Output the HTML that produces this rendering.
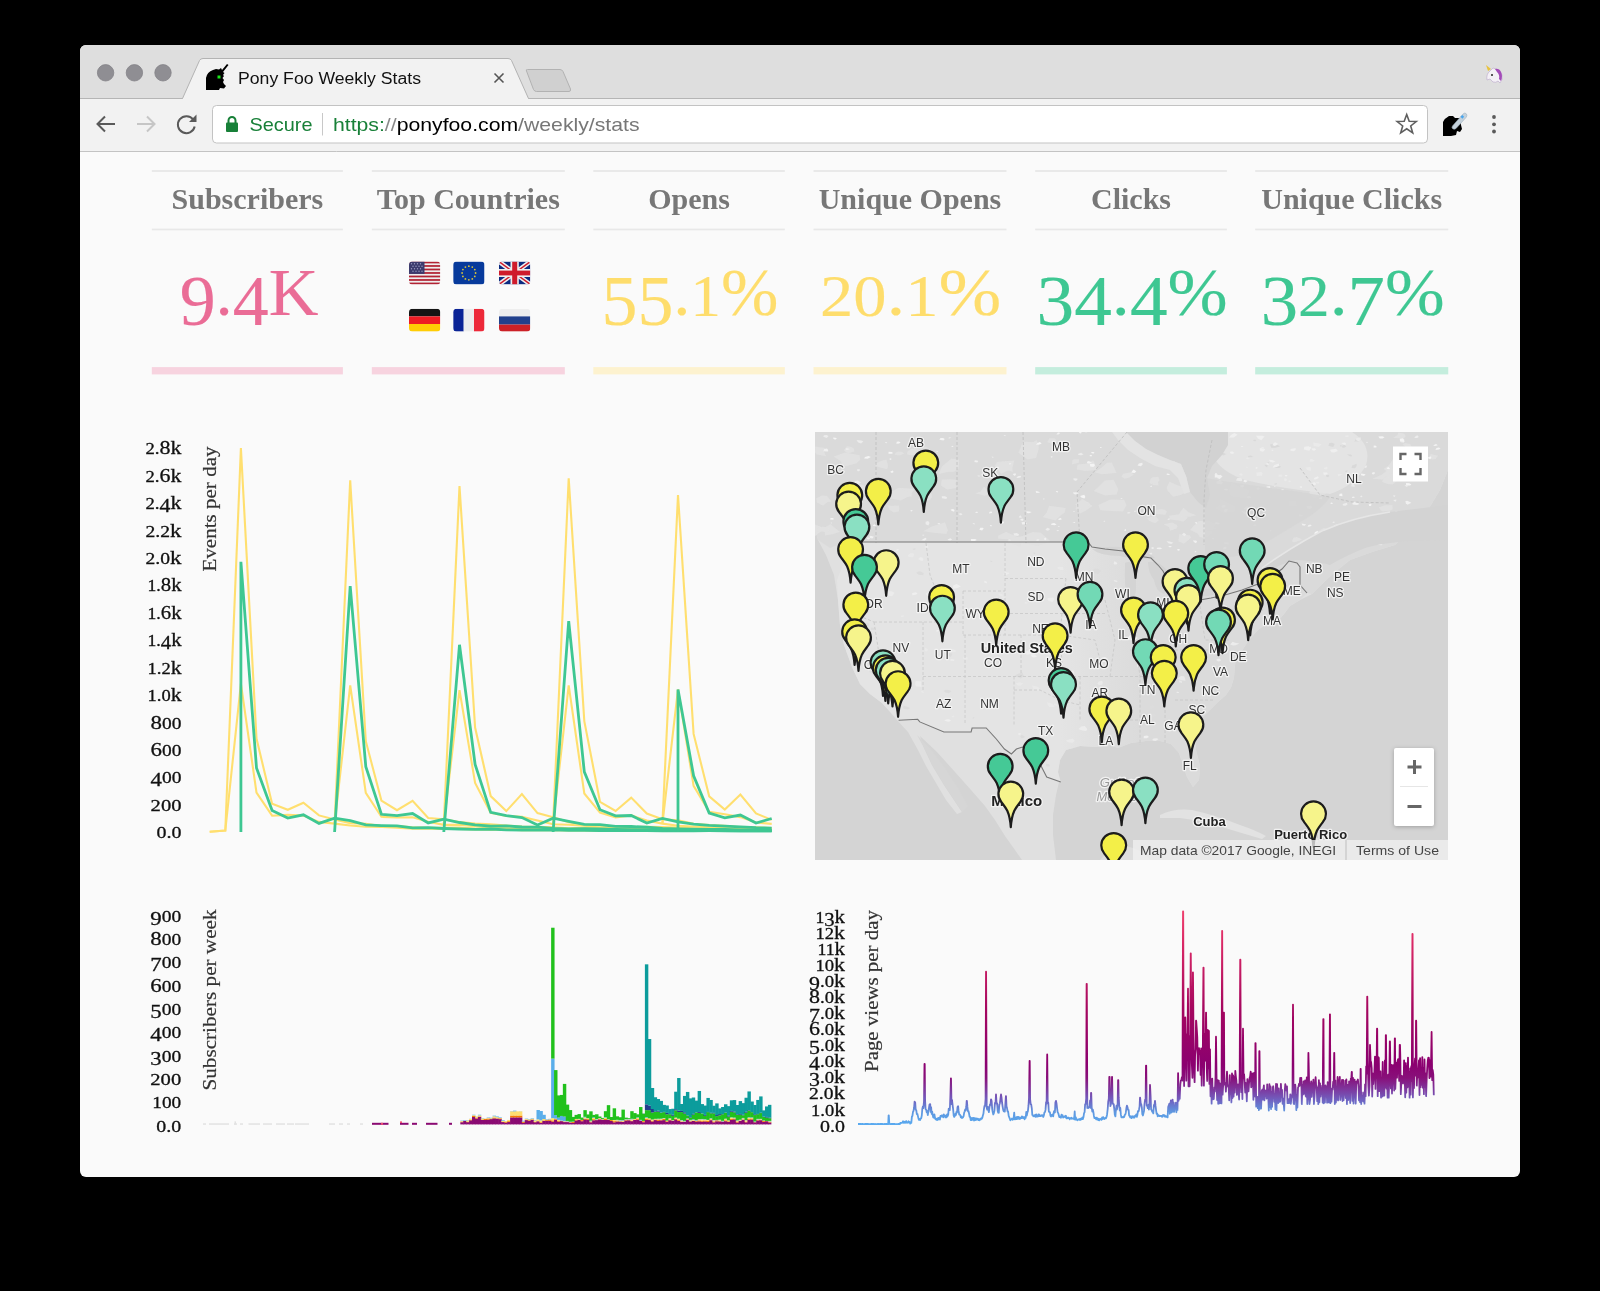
<!DOCTYPE html>
<html><head><meta charset="utf-8"><title>Pony Foo Weekly Stats</title>
<style>
*{box-sizing:border-box}
html,body{margin:0;padding:0}
body{width:1600px;height:1291px;background:#000;position:relative;overflow:hidden;font-family:"Liberation Sans",sans-serif}
.win{position:absolute;left:80px;top:45px;width:1440px;height:1132px;border-radius:6px;overflow:hidden;background:#fafafa}
.tabstrip{position:absolute;left:0;top:0;width:1440px;height:53px;background:#dedede}
.toolbar{position:absolute;left:0;top:53px;width:1440px;height:54px;background:#f2f2f2;border-bottom:1px solid #c6c6c6}
.tl{position:absolute;top:19px;width:17px;height:17px;border-radius:50%;background:#8f8e93;border:1px solid #838287}
.content{position:absolute;left:0;top:107px;width:1440px;height:1025px;background:#fafafa}
.abs{position:absolute}
svg text{}
body > svg, body > div{will-change:transform}
.hd{position:absolute;top:0;height:60px;border-top:2px solid #e8e8e8;border-bottom:2px solid #e8e8e8;font-family:"Liberation Serif",serif;font-weight:bold;font-size:30px;color:#777;text-align:center;line-height:56px;white-space:nowrap}
.big{position:absolute;font-family:"Liberation Serif",serif;font-size:68px;text-align:center;white-space:nowrap;line-height:1}
.bar{position:absolute;height:7px}
</style></head><body>

<div class="win"></div>
<svg class="abs" style="left:80px;top:45px" width="1440" height="107" viewBox="80 45 1440 107">
<defs><clipPath id="wc"><rect x="80" y="45" width="1440" height="200" rx="6"/></clipPath></defs>
<g clip-path="url(#wc)">
<rect x="80" y="45" width="1440" height="107" fill="#dedede"/>
<rect x="80" y="98" width="1440" height="54" fill="#f2f2f2"/>
<line x1="80" y1="98.5" x2="1520" y2="98.5" stroke="#b5b5b5" stroke-width="1"/>
<path d="M182.5,98.5 L199.5,60.5 Q200.5,58.5 203,58.5 L508,58.5 Q510.5,58.5 511.5,60.5 L528.5,98.5" fill="#f2f2f2" stroke="#b3b3b3" stroke-width="1"/>
<rect x="183" y="98" width="345" height="2" fill="#f2f2f2"/>
<path d="M526.5,71 Q525.5,69.5 527.5,69.5 L560,69.5 Q562,69.5 563,71.5 L570.5,89 Q571,91.5 569,91.5 L536.5,91.5 Q534.5,91.5 533.5,89.5 Z" fill="#d0d0d0" stroke="#b2b2b2" stroke-width="1"/>
<line x1="80" y1="151.5" x2="1520" y2="151.5" stroke="#c3c3c3" stroke-width="1"/>
<circle cx="105.6" cy="72.8" r="8.2" fill="#8f8e93" stroke="#848388" stroke-width="0.8"/>
<circle cx="134.4" cy="72.8" r="8.2" fill="#8f8e93" stroke="#848388" stroke-width="0.8"/>
<circle cx="163" cy="72.8" r="8.2" fill="#8f8e93" stroke="#848388" stroke-width="0.8"/>
<!-- favicon unicorn -->
<g fill="#000">
<path d="M206,90 L206,78 Q207,72 213,70 L216,69 L219,69.5 L221,68 L222,70 L227,64 L228.5,65 L223,72 L224.5,73 L223,75 L224,76 L222.5,78 L224,80 L223,82 L224,84 L226,86 L224,88.5 L220,88 L219,90 Z"/>
</g>
<rect x="217.5" y="75.5" width="3" height="3" fill="#19e619"/>
<text x="238" y="84" font-family="Liberation Sans" font-size="16" fill="#111" textLength="183" lengthAdjust="spacingAndGlyphs">Pony Foo Weekly Stats</text>
<path d="M494.5,73.5 L503.5,82.5 M503.5,73.5 L494.5,82.5" stroke="#555" stroke-width="1.6"/>
<!-- nav icons -->
<path d="M115,124 L97.5,124 M105,116.5 L97.5,124 L105,131.5" stroke="#5a5a5a" stroke-width="2" fill="none"/>
<path d="M137,124 L154.5,124 M147,116.5 L154.5,124 L147,131.5" stroke="#c6c6c6" stroke-width="2" fill="none"/>
<path d="M194,121 A8.5,8.5 0 1 0 194.2,128" stroke="#5a5a5a" stroke-width="2" fill="none" transform="rotate(-10 186 124.5)"/>
<path d="M196.5,114.5 L196.5,122 L189,122 Z" fill="#5a5a5a"/>
<!-- omnibox -->
<rect x="212.5" y="105.5" width="1215" height="37.5" rx="4" fill="#fff" stroke="#c3c3c3" stroke-width="1"/>
<rect x="226" y="122.5" width="12" height="9.5" rx="1" fill="#188038"/>
<path d="M228.5,123 L228.5,120.5 A3.5,3.5 0 0 1 235.5,120.5 L235.5,123" stroke="#188038" stroke-width="2" fill="none"/>
<text x="249.5" y="131.3" font-family="Liberation Sans" font-size="18.6" fill="#188038" textLength="63" lengthAdjust="spacingAndGlyphs">Secure</text>
<line x1="322.5" y1="113" x2="322.5" y2="135.5" stroke="#c8c8c8" stroke-width="1"/>
<text x="333" y="131.3" font-family="Liberation Sans" font-size="18.6" textLength="306.5" lengthAdjust="spacingAndGlyphs"><tspan fill="#188038">https:</tspan><tspan fill="#888">//</tspan><tspan fill="#000">ponyfoo.com</tspan><tspan fill="#777">/weekly/stats</tspan></text>
<!-- star -->
<path d="M1406.7,114.5 L1409.2,121.2 L1416.3,121.5 L1410.7,126 L1412.7,132.8 L1406.7,128.8 L1400.7,132.8 L1402.7,126 L1397.1,121.5 L1404.2,121.2 Z" fill="none" stroke="#5f5f5f" stroke-width="1.6" stroke-linejoin="miter"/>
<!-- extension icon -->
<path d="M1443,136 L1443,122 Q1445,118 1449,116 L1453,116 L1455,118 L1460,118 L1461,125 L1462,129 L1460,132 L1457,131 L1456,135 L1451,136 Z" fill="#000"/>
<path d="M1452.5,126 L1463,114 Q1465,112 1466.5,114 Q1467.5,116 1466,117.5 L1456,128.5 Q1454,130 1452.5,128.5 Q1451.5,127.5 1452.5,126 Z" fill="#c5d2dc" stroke="#9fb1bf" stroke-width="0.6"/>
<rect x="1461" y="115.5" width="2.6" height="2.6" fill="#4aa6ee" transform="rotate(45 1462.3 116.8)"/>
<!-- menu -->
<circle cx="1494" cy="117" r="1.9" fill="#5a5a5a"/>
<circle cx="1494" cy="124.3" r="1.9" fill="#5a5a5a"/>
<circle cx="1494" cy="131.5" r="1.9" fill="#5a5a5a"/>
<!-- unicorn emoji top right -->
<g transform="translate(1484,64)">
<path d="M3,16 Q2,10 6,7 L9,4 L12,5 Q17,6 18,11 Q19,16 16,19 L14,17 Q12,19 9,18 L6,15 Z" fill="#f4f0f6" stroke="#b9a6c9" stroke-width="0.6"/>
<path d="M11,5 Q15,4 17,8 Q19,12 17,17 L15,15 Q16,11 13,8 Z" fill="#a34bb8"/>
<path d="M4,7 L2,1 L7,5 Z" fill="#e8c23d"/>
<circle cx="8" cy="11" r="1" fill="#222"/>
</g>
</g>

</svg>

<svg class="abs" style="left:0;top:152px" width="1600" height="240" viewBox="0 152 1600 240">
<rect x="151.8" y="170" width="191.1" height="2" fill="#e9e9e9"/>
<rect x="151.8" y="228.6" width="191.1" height="1.7" fill="#e8e8e8"/>
<text x="247.4" y="209" text-anchor="middle" font-family="Liberation Serif" font-weight="bold" font-size="30" fill="#777">Subscribers</text>
<rect x="151.8" y="367.1" width="191.1" height="7.3" fill="#f7d3df"/>
<text x="249.1" y="314.5" text-anchor="middle" font-family="Liberation Serif" font-size="68" fill="#ea6c96" stroke="#ea6c96" stroke-width="0.15" textLength="138.8" lengthAdjust="spacingAndGlyphs"><tspan font-size="71" dy="10.0">9</tspan><tspan font-size="68" dy="-10.0">.</tspan><tspan font-size="71" dy="10.0">4</tspan><tspan font-size="68" dy="-10.0">K</tspan></text>
<rect x="371.8" y="170" width="193.0" height="2" fill="#e9e9e9"/>
<rect x="371.8" y="228.6" width="193.0" height="1.7" fill="#e8e8e8"/>
<text x="468.3" y="209" text-anchor="middle" font-family="Liberation Serif" font-weight="bold" font-size="30" fill="#777">Top Countries</text>
<rect x="371.8" y="367.1" width="193.0" height="7.3" fill="#f7d3df"/>
<rect x="593.3" y="170" width="191.5" height="2" fill="#e9e9e9"/>
<rect x="593.3" y="228.6" width="191.5" height="1.7" fill="#e8e8e8"/>
<text x="689.0" y="209" text-anchor="middle" font-family="Liberation Serif" font-weight="bold" font-size="30" fill="#777">Opens</text>
<rect x="593.3" y="367.1" width="191.5" height="7.3" fill="#fdf2cf"/>
<text x="689.9" y="314.5" text-anchor="middle" font-family="Liberation Serif" font-size="68" fill="#fedd6c" stroke="#fedd6c" stroke-width="0.15" textLength="176.9" lengthAdjust="spacingAndGlyphs"><tspan font-size="71" dy="10.0">5</tspan><tspan font-size="71" dy="0.0">5</tspan><tspan font-size="68" dy="-10.0">.</tspan><tspan font-size="60" dy="1.0">1</tspan><tspan font-size="68" dy="-1.0">%</tspan></text>
<rect x="813.5" y="170" width="193.0" height="2" fill="#e9e9e9"/>
<rect x="813.5" y="228.6" width="193.0" height="1.7" fill="#e8e8e8"/>
<text x="910.0" y="209" text-anchor="middle" font-family="Liberation Serif" font-weight="bold" font-size="30" fill="#777">Unique Opens</text>
<rect x="813.5" y="367.1" width="193.0" height="7.3" fill="#fdf2cf"/>
<text x="910.7" y="314.5" text-anchor="middle" font-family="Liberation Serif" font-size="68" fill="#fedd6c" stroke="#fedd6c" stroke-width="0.15" textLength="181.4" lengthAdjust="spacingAndGlyphs"><tspan font-size="60" dy="1.0">2</tspan><tspan font-size="60" dy="0.0">0</tspan><tspan font-size="68" dy="-1.0">.</tspan><tspan font-size="60" dy="1.0">1</tspan><tspan font-size="68" dy="-1.0">%</tspan></text>
<rect x="1035.2" y="170" width="191.7" height="2" fill="#e9e9e9"/>
<rect x="1035.2" y="228.6" width="191.7" height="1.7" fill="#e8e8e8"/>
<text x="1131.0" y="209" text-anchor="middle" font-family="Liberation Serif" font-weight="bold" font-size="30" fill="#777">Clicks</text>
<rect x="1035.2" y="367.1" width="191.7" height="7.3" fill="#c4eddd"/>
<text x="1132.1" y="314.5" text-anchor="middle" font-family="Liberation Serif" font-size="68" fill="#3ec792" stroke="#3ec792" stroke-width="0.15" textLength="191.0" lengthAdjust="spacingAndGlyphs"><tspan font-size="71" dy="10.0">3</tspan><tspan font-size="71" dy="0.0">4</tspan><tspan font-size="68" dy="-10.0">.</tspan><tspan font-size="71" dy="10.0">4</tspan><tspan font-size="68" dy="-10.0">%</tspan></text>
<rect x="1255.2" y="170" width="193.05" height="2" fill="#e9e9e9"/>
<rect x="1255.2" y="228.6" width="193.05" height="1.7" fill="#e8e8e8"/>
<text x="1351.7" y="209" text-anchor="middle" font-family="Liberation Serif" font-weight="bold" font-size="30" fill="#777">Unique Clicks</text>
<rect x="1255.2" y="367.1" width="193.05" height="7.3" fill="#c4eddd"/>
<text x="1352.7" y="314.5" text-anchor="middle" font-family="Liberation Serif" font-size="68" fill="#3ec792" stroke="#3ec792" stroke-width="0.15" textLength="183.9" lengthAdjust="spacingAndGlyphs"><tspan font-size="71" dy="10.0">3</tspan><tspan font-size="60" dy="-9.0">2</tspan><tspan font-size="68" dy="-1.0">.</tspan><tspan font-size="71" dy="10.0">7</tspan><tspan font-size="68" dy="-10.0">%</tspan></text>
</svg>
<svg class="abs" style="left:400px;top:255px" width="140" height="85" viewBox="400 255 140 85">
<defs>
<clipPath id="f1"><rect x="409" y="261.6" width="31.3" height="22.8" rx="3.5"/></clipPath>
<clipPath id="f2"><rect x="453.2" y="261.6" width="31.3" height="22.8" rx="3.5"/></clipPath>
<clipPath id="f3"><rect x="499" y="261.6" width="31.3" height="22.8" rx="3.5"/></clipPath>
<clipPath id="f4"><rect x="409" y="308.8" width="31.3" height="22.8" rx="3.5"/></clipPath>
<clipPath id="f5"><rect x="453.2" y="308.8" width="31.3" height="22.8" rx="3.5"/></clipPath>
<clipPath id="f6"><rect x="499" y="308.8" width="31.3" height="22.8" rx="3.5"/></clipPath>
</defs>
<g clip-path="url(#f1)">
<rect x="409" y="261.6" width="31.3" height="22.8" fill="#eeeeee"/>
<g fill="#b22334">
<rect x="409" y="261.6" width="31.3" height="1.75"/><rect x="409" y="265.1" width="31.3" height="1.75"/><rect x="409" y="268.6" width="31.3" height="1.75"/><rect x="409" y="272.1" width="31.3" height="1.75"/><rect x="409" y="275.6" width="31.3" height="1.75"/><rect x="409" y="279.1" width="31.3" height="1.75"/><rect x="409" y="282.6" width="31.3" height="1.8"/>
</g>
<rect x="409" y="261.6" width="15.5" height="12.3" fill="#3c3b6e"/>
<g fill="#9b9bc0"><circle cx="411.5" cy="263.8" r=".7"/><circle cx="414.5" cy="263.8" r=".7"/><circle cx="417.5" cy="263.8" r=".7"/><circle cx="420.5" cy="263.8" r=".7"/><circle cx="413" cy="266.3" r=".7"/><circle cx="416" cy="266.3" r=".7"/><circle cx="419" cy="266.3" r=".7"/><circle cx="422" cy="266.3" r=".7"/><circle cx="411.5" cy="268.8" r=".7"/><circle cx="414.5" cy="268.8" r=".7"/><circle cx="417.5" cy="268.8" r=".7"/><circle cx="420.5" cy="268.8" r=".7"/><circle cx="413" cy="271.3" r=".7"/><circle cx="416" cy="271.3" r=".7"/><circle cx="419" cy="271.3" r=".7"/><circle cx="422" cy="271.3" r=".7"/></g>
</g>
<g clip-path="url(#f2)">
<rect x="453.2" y="261.6" width="31.3" height="22.8" fill="#073a9c"/>
<g fill="#d8c33a">
<circle cx="468.85" cy="266.2" r=".9"/><circle cx="472.3" cy="267.1" r=".9"/><circle cx="474.8" cy="269.6" r=".9"/><circle cx="475.6" cy="273" r=".9"/><circle cx="474.8" cy="276.4" r=".9"/><circle cx="472.3" cy="278.9" r=".9"/><circle cx="468.85" cy="279.8" r=".9"/><circle cx="465.4" cy="278.9" r=".9"/><circle cx="462.9" cy="276.4" r=".9"/><circle cx="462.1" cy="273" r=".9"/><circle cx="462.9" cy="269.6" r=".9"/><circle cx="465.4" cy="267.1" r=".9"/>
</g>
</g>
<g clip-path="url(#f3)">
<rect x="499" y="261.6" width="31.3" height="22.8" fill="#0b2a80"/>
<path d="M499,261.6 L530.3,284.4 M530.3,261.6 L499,284.4" stroke="#eee" stroke-width="4.5"/>
<path d="M499,261.6 L514.65,273 M530.3,284.4 L514.65,273 M530.3,261.6 L514.65,273 M499,284.4 L514.65,273" stroke="#cf1b2b" stroke-width="1.5"/>
<rect x="510.5" y="261.6" width="8.3" height="22.8" fill="#eee"/>
<rect x="499" y="269" width="31.3" height="8" fill="#eee"/>
<rect x="512.2" y="261.6" width="5" height="22.8" fill="#cf1b2b"/>
<rect x="499" y="270.6" width="31.3" height="4.8" fill="#cf1b2b"/>
</g>
<g clip-path="url(#f4)">
<rect x="409" y="308.8" width="31.3" height="7.6" fill="#141414"/>
<rect x="409" y="316.4" width="31.3" height="7.6" fill="#ed1c24"/>
<rect x="409" y="324" width="31.3" height="7.6" fill="#ffcd05"/>
</g>
<g clip-path="url(#f5)">
<rect x="453.2" y="308.8" width="10.5" height="22.8" fill="#0b2496"/>
<rect x="463.7" y="308.8" width="10.3" height="22.8" fill="#ededed"/>
<rect x="474" y="308.8" width="10.5" height="22.8" fill="#ed2939"/>
</g>
<g clip-path="url(#f6)">
<rect x="499" y="308.8" width="31.3" height="7.6" fill="#eeeeee"/>
<rect x="499" y="316.4" width="31.3" height="8.2" fill="#22408c"/>
<rect x="499" y="324.6" width="31.3" height="7" fill="#cc2127"/>
</g>
</svg>

<svg class="abs" style="left:0;top:0" width="1600" height="1291" viewBox="0 0 1600 1291">
<text x="181.5" y="838.2" text-anchor="end" font-family="Liberation Serif" font-size="16" fill="#111" stroke="#111" stroke-width="0.3" textLength="25.0" lengthAdjust="spacingAndGlyphs"><tspan font-size="16.7" dy="0.0">0</tspan><tspan font-size="17" dy="0.0">.</tspan><tspan font-size="16.7" dy="0.0">0</tspan></text>
<text x="181.5" y="810.8" text-anchor="end" font-family="Liberation Serif" font-size="16" fill="#111" stroke="#111" stroke-width="0.3" textLength="30.9" lengthAdjust="spacingAndGlyphs"><tspan font-size="16.7" dy="0.0">2</tspan><tspan font-size="16.7" dy="0.0">0</tspan><tspan font-size="16.7" dy="0.0">0</tspan></text>
<text x="181.5" y="783.3" text-anchor="end" font-family="Liberation Serif" font-size="16" fill="#111" stroke="#111" stroke-width="0.3" textLength="30.9" lengthAdjust="spacingAndGlyphs"><tspan font-size="19.5" dy="3.0">4</tspan><tspan font-size="16.7" dy="-3.0">0</tspan><tspan font-size="16.7" dy="0.0">0</tspan></text>
<text x="181.5" y="755.9" text-anchor="end" font-family="Liberation Serif" font-size="16" fill="#111" stroke="#111" stroke-width="0.3" textLength="30.9" lengthAdjust="spacingAndGlyphs"><tspan font-size="19.7" dy="0.0">6</tspan><tspan font-size="16.7" dy="0.0">0</tspan><tspan font-size="16.7" dy="0.0">0</tspan></text>
<text x="181.5" y="728.5" text-anchor="end" font-family="Liberation Serif" font-size="16" fill="#111" stroke="#111" stroke-width="0.3" textLength="30.9" lengthAdjust="spacingAndGlyphs"><tspan font-size="19.7" dy="0.0">8</tspan><tspan font-size="16.7" dy="0.0">0</tspan><tspan font-size="16.7" dy="0.0">0</tspan></text>
<text x="181.5" y="701.1" text-anchor="end" font-family="Liberation Serif" font-size="16" fill="#111" stroke="#111" stroke-width="0.3" textLength="34.0" lengthAdjust="spacingAndGlyphs"><tspan font-size="16.7" dy="0.0">1</tspan><tspan font-size="17" dy="0.0">.</tspan><tspan font-size="16.7" dy="0.0">0</tspan><tspan font-size="19.5" dy="0.0">k</tspan></text>
<text x="181.5" y="673.6" text-anchor="end" font-family="Liberation Serif" font-size="16" fill="#111" stroke="#111" stroke-width="0.3" textLength="34.0" lengthAdjust="spacingAndGlyphs"><tspan font-size="16.7" dy="0.0">1</tspan><tspan font-size="17" dy="0.0">.</tspan><tspan font-size="16.7" dy="0.0">2</tspan><tspan font-size="19.5" dy="0.0">k</tspan></text>
<text x="181.5" y="646.2" text-anchor="end" font-family="Liberation Serif" font-size="16" fill="#111" stroke="#111" stroke-width="0.3" textLength="34.0" lengthAdjust="spacingAndGlyphs"><tspan font-size="16.7" dy="0.0">1</tspan><tspan font-size="17" dy="0.0">.</tspan><tspan font-size="19.5" dy="3.0">4</tspan><tspan font-size="19.5" dy="-3.0">k</tspan></text>
<text x="181.5" y="618.8" text-anchor="end" font-family="Liberation Serif" font-size="16" fill="#111" stroke="#111" stroke-width="0.3" textLength="34.0" lengthAdjust="spacingAndGlyphs"><tspan font-size="16.7" dy="0.0">1</tspan><tspan font-size="17" dy="0.0">.</tspan><tspan font-size="19.7" dy="0.0">6</tspan><tspan font-size="19.5" dy="0.0">k</tspan></text>
<text x="181.5" y="591.3" text-anchor="end" font-family="Liberation Serif" font-size="16" fill="#111" stroke="#111" stroke-width="0.3" textLength="34.0" lengthAdjust="spacingAndGlyphs"><tspan font-size="16.7" dy="0.0">1</tspan><tspan font-size="17" dy="0.0">.</tspan><tspan font-size="19.7" dy="0.0">8</tspan><tspan font-size="19.5" dy="0.0">k</tspan></text>
<text x="181.5" y="563.9" text-anchor="end" font-family="Liberation Serif" font-size="16" fill="#111" stroke="#111" stroke-width="0.3" textLength="36.0" lengthAdjust="spacingAndGlyphs"><tspan font-size="16.7" dy="0.0">2</tspan><tspan font-size="17" dy="0.0">.</tspan><tspan font-size="16.7" dy="0.0">0</tspan><tspan font-size="19.5" dy="0.0">k</tspan></text>
<text x="181.5" y="536.5" text-anchor="end" font-family="Liberation Serif" font-size="16" fill="#111" stroke="#111" stroke-width="0.3" textLength="36.0" lengthAdjust="spacingAndGlyphs"><tspan font-size="16.7" dy="0.0">2</tspan><tspan font-size="17" dy="0.0">.</tspan><tspan font-size="16.7" dy="0.0">2</tspan><tspan font-size="19.5" dy="0.0">k</tspan></text>
<text x="181.5" y="509.1" text-anchor="end" font-family="Liberation Serif" font-size="16" fill="#111" stroke="#111" stroke-width="0.3" textLength="36.0" lengthAdjust="spacingAndGlyphs"><tspan font-size="16.7" dy="0.0">2</tspan><tspan font-size="17" dy="0.0">.</tspan><tspan font-size="19.5" dy="3.0">4</tspan><tspan font-size="19.5" dy="-3.0">k</tspan></text>
<text x="181.5" y="481.6" text-anchor="end" font-family="Liberation Serif" font-size="16" fill="#111" stroke="#111" stroke-width="0.3" textLength="36.0" lengthAdjust="spacingAndGlyphs"><tspan font-size="16.7" dy="0.0">2</tspan><tspan font-size="17" dy="0.0">.</tspan><tspan font-size="19.7" dy="0.0">6</tspan><tspan font-size="19.5" dy="0.0">k</tspan></text>
<text x="181.5" y="454.2" text-anchor="end" font-family="Liberation Serif" font-size="16" fill="#111" stroke="#111" stroke-width="0.3" textLength="36.0" lengthAdjust="spacingAndGlyphs"><tspan font-size="16.7" dy="0.0">2</tspan><tspan font-size="17" dy="0.0">.</tspan><tspan font-size="19.7" dy="0.0">8</tspan><tspan font-size="19.5" dy="0.0">k</tspan></text>
<text transform="translate(215.5,446.5) rotate(-90)" text-anchor="end" font-family="Liberation Serif" font-size="19" fill="#333" stroke="#333" stroke-width="0.2" textLength="125" lengthAdjust="spacingAndGlyphs">Events per day</text>
<polyline points="209.7,831.7 225.3,830.6 240.9,448.0 256.5,738.5 272.1,803.8 287.8,809.8 303.4,802.7 319.0,815.4 334.6,819.5 350.2,823.1 365.8,823.8 381.4,826.1 397.0,826.0 412.6,827.2 428.2,827.7 443.8,827.7 459.5,827.5 475.1,828.6 490.7,828.7 506.3,828.6 521.9,828.6 537.5,829.2 553.1,829.5 568.7,829.2 584.3,830.0 600.0,829.6 615.6,830.1 631.2,830.3 646.8,830.4 662.4,830.4 678.0,830.3 693.6,830.8 709.2,830.6 724.8,830.6 740.4,830.7 756.0,830.6 771.7,830.8" fill="none" stroke="#ffdf6f" stroke-width="2.1" stroke-linejoin="miter"/>
<polyline points="209.7,831.7 225.3,830.6 240.9,683.7 256.5,792.7 272.1,815.7 287.8,814.9 303.4,815.6 319.0,821.9 334.6,823.6 350.2,825.5 365.8,826.8 381.4,826.9 397.0,827.6 412.6,828.6 428.2,828.6 443.8,829.0 459.5,828.9 475.1,829.4 490.7,829.8 506.3,829.5 521.9,830.2 537.5,830.1 553.1,830.1 568.7,830.5 584.3,830.5 600.0,830.8 615.6,830.7 631.2,830.8 646.8,830.9 662.4,830.8 678.0,831.0 693.6,830.8 709.2,830.9 724.8,830.9 740.4,830.9 756.0,830.8 771.7,830.8" fill="none" stroke="#ffdf6f" stroke-width="2.1" stroke-linejoin="miter"/>
<polyline points="334.6,823.8 350.2,480.2 365.8,741.2 381.4,800.6 397.0,810.2 412.6,800.8 428.2,818.0 443.8,819.3 459.5,822.1 475.1,823.6 490.7,824.2 506.3,825.5 521.9,826.5 537.5,826.9 553.1,827.4 568.7,828.4 584.3,827.7 600.0,828.1 615.6,828.3 631.2,828.7 646.8,829.3 662.4,829.5 678.0,829.8 693.6,829.6 709.2,830.1 724.8,830.2 740.4,830.2 756.0,830.4 771.7,830.4" fill="none" stroke="#ffdf6f" stroke-width="2.1" stroke-linejoin="miter"/>
<polyline points="334.6,823.8 350.2,685.4 365.8,792.8 381.4,816.8 397.0,817.5 412.6,817.3 428.2,821.7 443.8,824.9 459.5,824.7 475.1,826.3 490.7,827.8 506.3,828.2 521.9,828.5 537.5,828.8 553.1,829.3 568.7,829.0 584.3,829.2 600.0,829.7 615.6,829.8 631.2,830.2 646.8,830.3 662.4,830.3 678.0,830.5 693.6,830.3 709.2,830.8 724.8,830.9 740.4,830.8 756.0,830.9 771.7,831.0" fill="none" stroke="#ffdf6f" stroke-width="2.1" stroke-linejoin="miter"/>
<polyline points="443.8,823.8 459.5,486.1 475.1,727.6 490.7,796.1 506.3,811.1 521.9,794.0 537.5,813.1 553.1,817.2 568.7,822.1 584.3,824.5 600.0,825.7 615.6,826.4 631.2,827.0 646.8,826.9 662.4,827.1 678.0,827.5 693.6,828.2 709.2,828.3 724.8,828.4 740.4,829.4 756.0,829.1 771.7,829.1" fill="none" stroke="#ffdf6f" stroke-width="2.1" stroke-linejoin="miter"/>
<polyline points="443.8,823.8 459.5,690.1 475.1,782.9 490.7,812.8 506.3,815.9 521.9,816.9 537.5,820.4 553.1,824.2 568.7,824.8 584.3,825.7 600.0,827.5 615.6,828.0 631.2,827.8 646.8,828.5 662.4,829.3 678.0,829.6 693.6,829.8 709.2,829.4 724.8,829.6 740.4,830.2 756.0,829.9 771.7,830.0" fill="none" stroke="#ffdf6f" stroke-width="2.1" stroke-linejoin="miter"/>
<polyline points="553.1,823.8 568.7,478.2 584.3,721.1 600.0,801.8 615.6,811.0 631.2,797.6 646.8,813.5 662.4,819.3 678.0,820.4 693.6,823.8 709.2,825.1 724.8,825.8 740.4,827.3 756.0,827.2 771.7,828.0" fill="none" stroke="#ffdf6f" stroke-width="2.1" stroke-linejoin="miter"/>
<polyline points="553.1,823.8 568.7,685.3 584.3,793.5 600.0,812.6 615.6,817.4 631.2,815.4 646.8,820.6 662.4,823.6 678.0,825.8 693.6,826.5 709.2,827.3 724.8,827.5 740.4,828.7 756.0,828.6 771.7,829.2" fill="none" stroke="#ffdf6f" stroke-width="2.1" stroke-linejoin="miter"/>
<polyline points="662.4,823.8 678.0,495.0 693.6,733.9 709.2,796.3 724.8,809.5 740.4,794.6 756.0,813.4 771.7,819.9" fill="none" stroke="#ffdf6f" stroke-width="2.1" stroke-linejoin="miter"/>
<polyline points="662.4,823.8 678.0,689.4 693.6,785.9 709.2,811.8 724.8,814.2 740.4,817.1 756.0,822.5 771.7,823.9" fill="none" stroke="#ffdf6f" stroke-width="2.1" stroke-linejoin="miter"/>
<polyline points="240.9,832.0 240.9,561.8 256.5,768.0 272.1,810.4 287.8,818.0 303.4,814.8 319.0,823.4 334.6,818.1 350.2,820.7 365.8,824.9 381.4,825.6 397.0,825.9 412.6,827.8 428.2,827.7 443.8,828.5 459.5,829.0 475.1,829.4 490.7,829.0 506.3,829.8 521.9,830.0 537.5,830.0 553.1,829.9 568.7,830.4 584.3,830.4 600.0,830.5 615.6,830.5 631.2,830.6 646.8,830.6 662.4,830.8 678.0,830.8 693.6,830.8 709.2,830.6 724.8,830.6 740.4,830.9 756.0,830.9 771.7,830.9" fill="none" stroke="#3ec792" stroke-width="2.8" stroke-linejoin="miter"/>
<polyline points="334.6,832.0 350.2,586.1 365.8,766.7 381.4,814.3 397.0,815.7 412.6,813.5 428.2,822.9 443.8,819.2 459.5,822.5 475.1,824.8 490.7,826.1 506.3,825.8 521.9,827.0 537.5,827.2 553.1,828.4 568.7,828.9 584.3,828.7 600.0,828.9 615.6,829.3 631.2,829.6 646.8,829.7 662.4,829.9 678.0,830.4 693.6,830.3 709.2,830.6 724.8,830.8 740.4,830.9 756.0,830.8 771.7,830.9" fill="none" stroke="#3ec792" stroke-width="2.8" stroke-linejoin="miter"/>
<polyline points="443.8,832.0 459.5,644.8 475.1,764.5 490.7,812.4 506.3,815.6 521.9,817.6 537.5,825.0 553.1,818.2 568.7,821.3 584.3,824.4 600.0,824.6 615.6,826.4 631.2,826.5 646.8,827.2 662.4,828.5 678.0,828.8 693.6,829.2 709.2,829.5 724.8,829.5 740.4,830.0 756.0,830.0 771.7,830.3" fill="none" stroke="#3ec792" stroke-width="2.8" stroke-linejoin="miter"/>
<polyline points="553.1,832.0 568.7,621.2 584.3,771.9 600.0,809.7 615.6,815.8 631.2,815.5 646.8,823.1 662.4,818.4 678.0,821.9 693.6,824.2 709.2,825.4 724.8,826.2 740.4,826.8 756.0,827.7 771.7,828.1" fill="none" stroke="#3ec792" stroke-width="2.8" stroke-linejoin="miter"/>
<polyline points="678.0,832.0 678.0,689.5 693.6,775.8 709.2,813.0 724.8,817.9 740.4,815.0 756.0,823.1 771.7,818.5" fill="none" stroke="#3ec792" stroke-width="2.8" stroke-linejoin="miter"/>
<text x="181.2" y="1131.6" text-anchor="end" font-family="Liberation Serif" font-size="16" fill="#111" stroke="#111" stroke-width="0.3" textLength="25.0" lengthAdjust="spacingAndGlyphs"><tspan font-size="16.7" dy="0.0">0</tspan><tspan font-size="17" dy="0.0">.</tspan><tspan font-size="16.7" dy="0.0">0</tspan></text>
<text x="181.2" y="1108.3" text-anchor="end" font-family="Liberation Serif" font-size="16" fill="#111" stroke="#111" stroke-width="0.3" textLength="28.9" lengthAdjust="spacingAndGlyphs"><tspan font-size="16.7" dy="0.0">1</tspan><tspan font-size="16.7" dy="0.0">0</tspan><tspan font-size="16.7" dy="0.0">0</tspan></text>
<text x="181.2" y="1084.9" text-anchor="end" font-family="Liberation Serif" font-size="16" fill="#111" stroke="#111" stroke-width="0.3" textLength="30.9" lengthAdjust="spacingAndGlyphs"><tspan font-size="16.7" dy="0.0">2</tspan><tspan font-size="16.7" dy="0.0">0</tspan><tspan font-size="16.7" dy="0.0">0</tspan></text>
<text x="181.2" y="1061.6" text-anchor="end" font-family="Liberation Serif" font-size="16" fill="#111" stroke="#111" stroke-width="0.3" textLength="30.9" lengthAdjust="spacingAndGlyphs"><tspan font-size="19.5" dy="3.0">3</tspan><tspan font-size="16.7" dy="-3.0">0</tspan><tspan font-size="16.7" dy="0.0">0</tspan></text>
<text x="181.2" y="1038.3" text-anchor="end" font-family="Liberation Serif" font-size="16" fill="#111" stroke="#111" stroke-width="0.3" textLength="30.9" lengthAdjust="spacingAndGlyphs"><tspan font-size="19.5" dy="3.0">4</tspan><tspan font-size="16.7" dy="-3.0">0</tspan><tspan font-size="16.7" dy="0.0">0</tspan></text>
<text x="181.2" y="1015.0" text-anchor="end" font-family="Liberation Serif" font-size="16" fill="#111" stroke="#111" stroke-width="0.3" textLength="30.9" lengthAdjust="spacingAndGlyphs"><tspan font-size="19.5" dy="3.0">5</tspan><tspan font-size="16.7" dy="-3.0">0</tspan><tspan font-size="16.7" dy="0.0">0</tspan></text>
<text x="181.2" y="991.6" text-anchor="end" font-family="Liberation Serif" font-size="16" fill="#111" stroke="#111" stroke-width="0.3" textLength="30.9" lengthAdjust="spacingAndGlyphs"><tspan font-size="19.7" dy="0.0">6</tspan><tspan font-size="16.7" dy="0.0">0</tspan><tspan font-size="16.7" dy="0.0">0</tspan></text>
<text x="181.2" y="968.3" text-anchor="end" font-family="Liberation Serif" font-size="16" fill="#111" stroke="#111" stroke-width="0.3" textLength="30.9" lengthAdjust="spacingAndGlyphs"><tspan font-size="19.5" dy="3.0">7</tspan><tspan font-size="16.7" dy="-3.0">0</tspan><tspan font-size="16.7" dy="0.0">0</tspan></text>
<text x="181.2" y="945.0" text-anchor="end" font-family="Liberation Serif" font-size="16" fill="#111" stroke="#111" stroke-width="0.3" textLength="30.9" lengthAdjust="spacingAndGlyphs"><tspan font-size="19.7" dy="0.0">8</tspan><tspan font-size="16.7" dy="0.0">0</tspan><tspan font-size="16.7" dy="0.0">0</tspan></text>
<text x="181.2" y="921.6" text-anchor="end" font-family="Liberation Serif" font-size="16" fill="#111" stroke="#111" stroke-width="0.3" textLength="30.9" lengthAdjust="spacingAndGlyphs"><tspan font-size="19.5" dy="3.0">9</tspan><tspan font-size="16.7" dy="-3.0">0</tspan><tspan font-size="16.7" dy="0.0">0</tspan></text>
<text transform="translate(215.5,909.5) rotate(-90)" text-anchor="end" font-family="Liberation Serif" font-size="19" fill="#333" stroke="#333" stroke-width="0.2" textLength="181" lengthAdjust="spacingAndGlyphs">Subscribers per week</text>
<rect x="203" y="1123.4" width="3" height="1.3" fill="#dedede"/>
<rect x="209" y="1123.4" width="20" height="1.3" fill="#dedede"/>
<rect x="234" y="1123.4" width="3" height="1.3" fill="#dedede"/>
<rect x="240" y="1123.4" width="3" height="1.3" fill="#dedede"/>
<rect x="248.5" y="1123.4" width="11.5" height="1.3" fill="#dedede"/>
<rect x="263" y="1123.4" width="9" height="1.3" fill="#dedede"/>
<rect x="276" y="1123.4" width="9" height="1.3" fill="#dedede"/>
<rect x="287" y="1123.4" width="7" height="1.3" fill="#dedede"/>
<rect x="295" y="1123.4" width="14" height="1.3" fill="#dedede"/>
<rect x="329" y="1123.4" width="6" height="1.3" fill="#dedede"/>
<rect x="339" y="1123.4" width="4" height="1.3" fill="#dedede"/>
<rect x="347" y="1123.4" width="3" height="1.3" fill="#dedede"/>
<rect x="360" y="1123.4" width="3" height="1.3" fill="#dedede"/>
<rect x="234.5" y="1121.4" width="1.5" height="3" fill="#e2e2e2"/>
<rect x="372" y="1122.8000000000002" width="16.5" height="2" fill="#8a0a72"/>
<rect x="400" y="1122.8000000000002" width="8.5" height="2" fill="#8a0a72"/>
<rect x="412" y="1122.8000000000002" width="5" height="2" fill="#8a0a72"/>
<rect x="426" y="1122.8000000000002" width="11.5" height="2" fill="#8a0a72"/>
<rect x="449" y="1122.8000000000002" width="3" height="2" fill="#8a0a72"/>
<rect x="381" y="1122.8000000000002" width="2" height="2" fill="#f0506e"/>
<rect x="400" y="1121.4" width="2" height="1.6" fill="#f0506e"/>
<rect x="460.30" y="1122.22" width="3.43" height="2.18" fill="#8a0a72"/>
<rect x="460.30" y="1121.59" width="3.43" height="0.63" fill="#f57b00"/>
<rect x="460.30" y="1121.07" width="3.43" height="0.52" fill="#ffdf70"/>
<rect x="460.30" y="1120.65" width="3.43" height="0.42" fill="#5aaeea"/>
<rect x="463.23" y="1120.96" width="3.43" height="3.44" fill="#8a0a72"/>
<rect x="463.23" y="1120.88" width="3.43" height="0.08" fill="#f57b00"/>
<rect x="463.23" y="1120.29" width="3.43" height="0.59" fill="#5aaeea"/>
<rect x="466.16" y="1122.15" width="3.43" height="2.25" fill="#8a0a72"/>
<rect x="466.16" y="1121.88" width="3.43" height="0.27" fill="#f57b00"/>
<rect x="466.16" y="1120.49" width="3.43" height="1.39" fill="#ffdf70"/>
<rect x="466.16" y="1120.16" width="3.43" height="0.33" fill="#5aaeea"/>
<rect x="469.09" y="1120.27" width="3.43" height="4.13" fill="#8a0a72"/>
<rect x="469.09" y="1119.71" width="3.43" height="0.56" fill="#f57b00"/>
<rect x="469.09" y="1118.82" width="3.43" height="0.89" fill="#ffdf70"/>
<rect x="469.09" y="1118.71" width="3.43" height="0.11" fill="#5aaeea"/>
<rect x="472.02" y="1117.00" width="3.43" height="7.40" fill="#8a0a72"/>
<rect x="472.02" y="1115.99" width="3.43" height="1.01" fill="#f57b00"/>
<rect x="472.02" y="1115.26" width="3.43" height="0.73" fill="#ffdf70"/>
<rect x="472.02" y="1114.74" width="3.43" height="0.52" fill="#5aaeea"/>
<rect x="474.95" y="1118.50" width="3.43" height="5.90" fill="#8a0a72"/>
<rect x="474.95" y="1117.61" width="3.43" height="0.88" fill="#f57b00"/>
<rect x="474.95" y="1116.78" width="3.43" height="0.83" fill="#ffdf70"/>
<rect x="474.95" y="1116.57" width="3.43" height="0.21" fill="#5aaeea"/>
<rect x="477.88" y="1116.90" width="3.43" height="7.50" fill="#8a0a72"/>
<rect x="477.88" y="1116.35" width="3.43" height="0.55" fill="#f57b00"/>
<rect x="477.88" y="1115.34" width="3.43" height="1.01" fill="#ffdf70"/>
<rect x="477.88" y="1114.73" width="3.43" height="0.62" fill="#5aaeea"/>
<rect x="480.81" y="1119.99" width="3.43" height="4.41" fill="#8a0a72"/>
<rect x="480.81" y="1119.53" width="3.43" height="0.46" fill="#f57b00"/>
<rect x="480.81" y="1118.41" width="3.43" height="1.12" fill="#ffdf70"/>
<rect x="480.81" y="1118.10" width="3.43" height="0.31" fill="#5aaeea"/>
<rect x="483.74" y="1119.94" width="3.43" height="4.46" fill="#8a0a72"/>
<rect x="483.74" y="1118.92" width="3.43" height="1.03" fill="#f57b00"/>
<rect x="483.74" y="1118.78" width="3.43" height="0.14" fill="#ffdf70"/>
<rect x="483.74" y="1118.69" width="3.43" height="0.10" fill="#5aaeea"/>
<rect x="486.67" y="1119.64" width="3.43" height="4.76" fill="#8a0a72"/>
<rect x="486.67" y="1118.51" width="3.43" height="1.13" fill="#f57b00"/>
<rect x="486.67" y="1117.90" width="3.43" height="0.61" fill="#ffdf70"/>
<rect x="486.67" y="1117.46" width="3.43" height="0.44" fill="#5aaeea"/>
<rect x="489.60" y="1119.11" width="3.43" height="5.29" fill="#8a0a72"/>
<rect x="489.60" y="1118.66" width="3.43" height="0.45" fill="#f57b00"/>
<rect x="489.60" y="1118.17" width="3.43" height="0.49" fill="#ffdf70"/>
<rect x="489.60" y="1117.76" width="3.43" height="0.41" fill="#5aaeea"/>
<rect x="492.53" y="1118.35" width="3.43" height="6.05" fill="#8a0a72"/>
<rect x="492.53" y="1117.56" width="3.43" height="0.80" fill="#f57b00"/>
<rect x="492.53" y="1116.26" width="3.43" height="1.30" fill="#ffdf70"/>
<rect x="492.53" y="1115.66" width="3.43" height="0.60" fill="#5aaeea"/>
<rect x="495.46" y="1118.51" width="3.43" height="5.89" fill="#8a0a72"/>
<rect x="495.46" y="1118.32" width="3.43" height="0.19" fill="#f57b00"/>
<rect x="495.46" y="1117.12" width="3.43" height="1.20" fill="#ffdf70"/>
<rect x="495.46" y="1116.44" width="3.43" height="0.68" fill="#5aaeea"/>
<rect x="498.39" y="1119.13" width="3.43" height="5.27" fill="#8a0a72"/>
<rect x="498.39" y="1118.30" width="3.43" height="0.83" fill="#f57b00"/>
<rect x="498.39" y="1118.00" width="3.43" height="0.30" fill="#ffdf70"/>
<rect x="498.39" y="1117.42" width="3.43" height="0.58" fill="#5aaeea"/>
<rect x="501.32" y="1122.07" width="3.43" height="2.33" fill="#8a0a72"/>
<rect x="501.32" y="1122.00" width="3.43" height="0.07" fill="#f57b00"/>
<rect x="501.32" y="1120.80" width="3.43" height="1.20" fill="#ffdf70"/>
<rect x="501.32" y="1120.11" width="3.43" height="0.69" fill="#5aaeea"/>
<rect x="504.25" y="1122.71" width="3.43" height="1.69" fill="#8a0a72"/>
<rect x="504.25" y="1121.78" width="3.43" height="0.93" fill="#f57b00"/>
<rect x="504.25" y="1121.20" width="3.43" height="0.57" fill="#ffdf70"/>
<rect x="504.25" y="1121.10" width="3.43" height="0.11" fill="#5aaeea"/>
<rect x="507.18" y="1122.04" width="3.43" height="2.36" fill="#8a0a72"/>
<rect x="507.18" y="1121.14" width="3.43" height="0.90" fill="#f57b00"/>
<rect x="507.18" y="1119.92" width="3.43" height="1.22" fill="#ffdf70"/>
<rect x="510.11" y="1117.40" width="3.43" height="7.00" fill="#8a0a72"/>
<rect x="510.11" y="1115.53" width="3.43" height="1.87" fill="#f57b00"/>
<rect x="510.11" y="1111.34" width="3.43" height="4.20" fill="#ffdf70"/>
<rect x="510.11" y="1111.10" width="3.43" height="0.23" fill="#5aaeea"/>
<rect x="513.04" y="1117.40" width="3.43" height="7.00" fill="#8a0a72"/>
<rect x="513.04" y="1115.53" width="3.43" height="1.87" fill="#f57b00"/>
<rect x="513.04" y="1111.34" width="3.43" height="4.20" fill="#ffdf70"/>
<rect x="513.04" y="1110.64" width="3.43" height="0.70" fill="#5aaeea"/>
<rect x="515.97" y="1117.40" width="3.43" height="7.00" fill="#8a0a72"/>
<rect x="515.97" y="1115.53" width="3.43" height="1.87" fill="#f57b00"/>
<rect x="515.97" y="1111.34" width="3.43" height="4.20" fill="#ffdf70"/>
<rect x="518.90" y="1117.40" width="3.43" height="7.00" fill="#8a0a72"/>
<rect x="518.90" y="1115.53" width="3.43" height="1.87" fill="#f57b00"/>
<rect x="518.90" y="1111.34" width="3.43" height="4.20" fill="#ffdf70"/>
<rect x="518.90" y="1111.23" width="3.43" height="0.11" fill="#5aaeea"/>
<rect x="521.83" y="1122.86" width="3.43" height="1.54" fill="#8a0a72"/>
<rect x="521.83" y="1121.85" width="3.43" height="1.01" fill="#f57b00"/>
<rect x="521.83" y="1121.41" width="3.43" height="0.44" fill="#ffdf70"/>
<rect x="521.83" y="1120.74" width="3.43" height="0.67" fill="#5aaeea"/>
<rect x="524.76" y="1120.07" width="3.43" height="4.33" fill="#8a0a72"/>
<rect x="524.76" y="1119.63" width="3.43" height="0.44" fill="#f57b00"/>
<rect x="524.76" y="1118.99" width="3.43" height="0.64" fill="#ffdf70"/>
<rect x="524.76" y="1118.62" width="3.43" height="0.36" fill="#5aaeea"/>
<rect x="527.69" y="1120.90" width="3.43" height="3.50" fill="#8a0a72"/>
<rect x="527.69" y="1120.20" width="3.43" height="0.69" fill="#f57b00"/>
<rect x="527.69" y="1119.42" width="3.43" height="0.78" fill="#ffdf70"/>
<rect x="527.69" y="1118.99" width="3.43" height="0.43" fill="#5aaeea"/>
<rect x="530.62" y="1119.93" width="3.43" height="4.47" fill="#8a0a72"/>
<rect x="530.62" y="1119.34" width="3.43" height="0.59" fill="#f57b00"/>
<rect x="530.62" y="1118.73" width="3.43" height="0.60" fill="#ffdf70"/>
<rect x="530.62" y="1118.23" width="3.43" height="0.50" fill="#5aaeea"/>
<rect x="533.55" y="1122.22" width="3.43" height="2.18" fill="#8a0a72"/>
<rect x="533.55" y="1121.87" width="3.43" height="0.35" fill="#f57b00"/>
<rect x="533.55" y="1120.50" width="3.43" height="1.37" fill="#ffdf70"/>
<rect x="533.55" y="1120.14" width="3.43" height="0.36" fill="#5aaeea"/>
<rect x="536.48" y="1121.21" width="3.43" height="3.19" fill="#8a0a72"/>
<rect x="536.48" y="1119.34" width="3.43" height="1.87" fill="#ffdf70"/>
<rect x="536.48" y="1110.01" width="3.43" height="9.33" fill="#5aaeea"/>
<rect x="539.41" y="1122.93" width="3.43" height="1.47" fill="#8a0a72"/>
<rect x="539.41" y="1122.22" width="3.43" height="0.72" fill="#f57b00"/>
<rect x="539.41" y="1120.35" width="3.43" height="1.87" fill="#ffdf70"/>
<rect x="539.41" y="1111.02" width="3.43" height="9.33" fill="#5aaeea"/>
<rect x="542.34" y="1120.95" width="3.43" height="3.45" fill="#8a0a72"/>
<rect x="542.34" y="1120.41" width="3.43" height="0.54" fill="#f57b00"/>
<rect x="542.34" y="1119.01" width="3.43" height="1.40" fill="#ffdf70"/>
<rect x="542.34" y="1114.81" width="3.43" height="4.20" fill="#5aaeea"/>
<rect x="545.27" y="1120.69" width="3.43" height="3.71" fill="#8a0a72"/>
<rect x="545.27" y="1119.83" width="3.43" height="0.86" fill="#f57b00"/>
<rect x="545.27" y="1119.36" width="3.43" height="0.47" fill="#5aaeea"/>
<rect x="548.20" y="1120.79" width="3.43" height="3.61" fill="#8a0a72"/>
<rect x="548.20" y="1119.67" width="3.43" height="1.12" fill="#f57b00"/>
<rect x="548.20" y="1119.32" width="3.43" height="0.35" fill="#ffdf70"/>
<rect x="548.20" y="1118.85" width="3.43" height="0.47" fill="#5aaeea"/>
<rect x="551.13" y="1121.60" width="3.43" height="2.80" fill="#8a0a72"/>
<rect x="551.13" y="1120.43" width="3.43" height="1.17" fill="#f57b00"/>
<rect x="551.13" y="1118.10" width="3.43" height="2.33" fill="#ffdf70"/>
<rect x="551.13" y="1058.61" width="3.43" height="59.49" fill="#5aaeea"/>
<rect x="551.13" y="927.73" width="3.43" height="130.88" fill="#21c11c"/>
<rect x="554.06" y="1119.73" width="3.43" height="4.67" fill="#8a0a72"/>
<rect x="554.06" y="1119.04" width="3.43" height="0.69" fill="#f57b00"/>
<rect x="554.06" y="1118.62" width="3.43" height="0.42" fill="#ffdf70"/>
<rect x="554.06" y="1115.12" width="3.43" height="3.50" fill="#5aaeea"/>
<rect x="554.06" y="1070.09" width="3.43" height="45.03" fill="#21c11c"/>
<rect x="556.99" y="1121.60" width="3.43" height="2.80" fill="#8a0a72"/>
<rect x="556.99" y="1120.94" width="3.43" height="0.66" fill="#f57b00"/>
<rect x="556.99" y="1119.91" width="3.43" height="1.03" fill="#ffdf70"/>
<rect x="556.99" y="1117.57" width="3.43" height="2.33" fill="#5aaeea"/>
<rect x="556.99" y="1095.41" width="3.43" height="22.16" fill="#21c11c"/>
<rect x="559.92" y="1121.13" width="3.43" height="3.27" fill="#8a0a72"/>
<rect x="559.92" y="1120.86" width="3.43" height="0.28" fill="#f57b00"/>
<rect x="559.92" y="1120.59" width="3.43" height="0.26" fill="#ffdf70"/>
<rect x="559.92" y="1115.93" width="3.43" height="4.67" fill="#5aaeea"/>
<rect x="559.92" y="1094.93" width="3.43" height="21.00" fill="#21c11c"/>
<rect x="562.85" y="1122.07" width="3.43" height="2.33" fill="#8a0a72"/>
<rect x="562.85" y="1121.69" width="3.43" height="0.38" fill="#f57b00"/>
<rect x="562.85" y="1121.22" width="3.43" height="0.47" fill="#ffdf70"/>
<rect x="562.85" y="1116.56" width="3.43" height="4.67" fill="#5aaeea"/>
<rect x="562.85" y="1083.90" width="3.43" height="32.66" fill="#21c11c"/>
<rect x="565.78" y="1122.07" width="3.43" height="2.33" fill="#8a0a72"/>
<rect x="565.78" y="1121.87" width="3.43" height="0.20" fill="#f57b00"/>
<rect x="565.78" y="1121.40" width="3.43" height="0.47" fill="#ffdf70"/>
<rect x="565.78" y="1120.94" width="3.43" height="0.46" fill="#5aaeea"/>
<rect x="565.78" y="1104.61" width="3.43" height="16.33" fill="#21c11c"/>
<rect x="568.71" y="1122.53" width="3.43" height="1.87" fill="#8a0a72"/>
<rect x="568.71" y="1122.27" width="3.43" height="0.26" fill="#f57b00"/>
<rect x="568.71" y="1122.10" width="3.43" height="0.17" fill="#ffdf70"/>
<rect x="568.71" y="1121.73" width="3.43" height="0.37" fill="#5aaeea"/>
<rect x="568.71" y="1110.07" width="3.43" height="11.66" fill="#21c11c"/>
<rect x="571.64" y="1123.00" width="3.43" height="1.40" fill="#8a0a72"/>
<rect x="571.64" y="1122.02" width="3.43" height="0.98" fill="#f57b00"/>
<rect x="571.64" y="1121.77" width="3.43" height="0.26" fill="#ffdf70"/>
<rect x="571.64" y="1121.57" width="3.43" height="0.19" fill="#5aaeea"/>
<rect x="571.64" y="1116.90" width="3.43" height="4.67" fill="#21c11c"/>
<rect x="574.57" y="1120.44" width="3.43" height="3.96" fill="#8a0a72"/>
<rect x="574.57" y="1119.50" width="3.43" height="0.94" fill="#f57b00"/>
<rect x="574.57" y="1119.01" width="3.43" height="0.48" fill="#ffdf70"/>
<rect x="574.57" y="1118.92" width="3.43" height="0.09" fill="#5aaeea"/>
<rect x="574.57" y="1114.89" width="3.43" height="4.04" fill="#21c11c"/>
<rect x="577.50" y="1119.94" width="3.43" height="4.46" fill="#8a0a72"/>
<rect x="577.50" y="1119.62" width="3.43" height="0.32" fill="#f57b00"/>
<rect x="577.50" y="1119.14" width="3.43" height="0.48" fill="#ffdf70"/>
<rect x="577.50" y="1118.85" width="3.43" height="0.29" fill="#5aaeea"/>
<rect x="577.50" y="1114.07" width="3.43" height="4.78" fill="#21c11c"/>
<rect x="580.43" y="1121.20" width="3.43" height="3.20" fill="#8a0a72"/>
<rect x="580.43" y="1120.12" width="3.43" height="1.07" fill="#f57b00"/>
<rect x="580.43" y="1119.90" width="3.43" height="0.22" fill="#ffdf70"/>
<rect x="580.43" y="1117.56" width="3.43" height="2.34" fill="#21c11c"/>
<rect x="583.36" y="1119.31" width="3.43" height="5.09" fill="#8a0a72"/>
<rect x="583.36" y="1118.80" width="3.43" height="0.51" fill="#f57b00"/>
<rect x="583.36" y="1117.47" width="3.43" height="1.33" fill="#ffdf70"/>
<rect x="583.36" y="1116.82" width="3.43" height="0.65" fill="#5aaeea"/>
<rect x="583.36" y="1110.14" width="3.43" height="6.68" fill="#21c11c"/>
<rect x="586.29" y="1119.80" width="3.43" height="4.60" fill="#8a0a72"/>
<rect x="586.29" y="1119.03" width="3.43" height="0.77" fill="#f57b00"/>
<rect x="586.29" y="1118.30" width="3.43" height="0.73" fill="#ffdf70"/>
<rect x="586.29" y="1118.10" width="3.43" height="0.20" fill="#5aaeea"/>
<rect x="586.29" y="1114.44" width="3.43" height="3.66" fill="#21c11c"/>
<rect x="589.22" y="1122.31" width="3.43" height="2.09" fill="#8a0a72"/>
<rect x="589.22" y="1121.62" width="3.43" height="0.69" fill="#f57b00"/>
<rect x="589.22" y="1121.22" width="3.43" height="0.40" fill="#ffdf70"/>
<rect x="589.22" y="1120.66" width="3.43" height="0.57" fill="#5aaeea"/>
<rect x="589.22" y="1111.32" width="3.43" height="9.33" fill="#21c11c"/>
<rect x="592.15" y="1120.27" width="3.43" height="4.13" fill="#8a0a72"/>
<rect x="592.15" y="1119.19" width="3.43" height="1.08" fill="#f57b00"/>
<rect x="592.15" y="1117.94" width="3.43" height="1.26" fill="#ffdf70"/>
<rect x="592.15" y="1117.31" width="3.43" height="0.63" fill="#5aaeea"/>
<rect x="592.15" y="1114.90" width="3.43" height="2.41" fill="#21c11c"/>
<rect x="595.08" y="1120.10" width="3.43" height="4.30" fill="#8a0a72"/>
<rect x="595.08" y="1119.90" width="3.43" height="0.20" fill="#f57b00"/>
<rect x="595.08" y="1119.48" width="3.43" height="0.42" fill="#ffdf70"/>
<rect x="595.08" y="1119.02" width="3.43" height="0.46" fill="#5aaeea"/>
<rect x="595.08" y="1114.27" width="3.43" height="4.75" fill="#21c11c"/>
<rect x="598.01" y="1119.47" width="3.43" height="4.93" fill="#8a0a72"/>
<rect x="598.01" y="1118.75" width="3.43" height="0.71" fill="#f57b00"/>
<rect x="598.01" y="1118.27" width="3.43" height="0.48" fill="#ffdf70"/>
<rect x="598.01" y="1118.10" width="3.43" height="0.18" fill="#5aaeea"/>
<rect x="598.01" y="1116.51" width="3.43" height="1.59" fill="#21c11c"/>
<rect x="600.94" y="1119.98" width="3.43" height="4.42" fill="#8a0a72"/>
<rect x="600.94" y="1119.57" width="3.43" height="0.41" fill="#f57b00"/>
<rect x="600.94" y="1119.29" width="3.43" height="0.28" fill="#ffdf70"/>
<rect x="600.94" y="1118.92" width="3.43" height="0.37" fill="#5aaeea"/>
<rect x="600.94" y="1117.90" width="3.43" height="1.02" fill="#21c11c"/>
<rect x="603.87" y="1119.95" width="3.43" height="4.45" fill="#8a0a72"/>
<rect x="603.87" y="1118.87" width="3.43" height="1.08" fill="#f57b00"/>
<rect x="603.87" y="1117.74" width="3.43" height="1.13" fill="#ffdf70"/>
<rect x="603.87" y="1117.17" width="3.43" height="0.58" fill="#5aaeea"/>
<rect x="603.87" y="1111.17" width="3.43" height="6.00" fill="#21c11c"/>
<rect x="606.80" y="1119.72" width="3.43" height="4.68" fill="#8a0a72"/>
<rect x="606.80" y="1119.34" width="3.43" height="0.38" fill="#ffdf70"/>
<rect x="606.80" y="1119.15" width="3.43" height="0.19" fill="#5aaeea"/>
<rect x="606.80" y="1105.15" width="3.43" height="14.00" fill="#21c11c"/>
<rect x="609.73" y="1120.99" width="3.43" height="3.41" fill="#8a0a72"/>
<rect x="609.73" y="1120.08" width="3.43" height="0.91" fill="#f57b00"/>
<rect x="609.73" y="1117.02" width="3.43" height="3.06" fill="#21c11c"/>
<rect x="612.66" y="1122.31" width="3.43" height="2.09" fill="#8a0a72"/>
<rect x="612.66" y="1121.17" width="3.43" height="1.14" fill="#f57b00"/>
<rect x="612.66" y="1119.98" width="3.43" height="1.20" fill="#ffdf70"/>
<rect x="612.66" y="1108.31" width="3.43" height="11.66" fill="#21c11c"/>
<rect x="615.59" y="1121.51" width="3.43" height="2.89" fill="#8a0a72"/>
<rect x="615.59" y="1121.10" width="3.43" height="0.41" fill="#f57b00"/>
<rect x="615.59" y="1120.19" width="3.43" height="0.91" fill="#ffdf70"/>
<rect x="615.59" y="1119.78" width="3.43" height="0.41" fill="#5aaeea"/>
<rect x="615.59" y="1116.33" width="3.43" height="3.45" fill="#21c11c"/>
<rect x="618.52" y="1121.46" width="3.43" height="2.94" fill="#8a0a72"/>
<rect x="618.52" y="1121.32" width="3.43" height="0.14" fill="#f57b00"/>
<rect x="618.52" y="1120.54" width="3.43" height="0.78" fill="#ffdf70"/>
<rect x="618.52" y="1120.04" width="3.43" height="0.50" fill="#5aaeea"/>
<rect x="618.52" y="1117.24" width="3.43" height="2.80" fill="#21c11c"/>
<rect x="621.45" y="1121.95" width="3.43" height="2.45" fill="#8a0a72"/>
<rect x="621.45" y="1121.51" width="3.43" height="0.44" fill="#f57b00"/>
<rect x="621.45" y="1120.67" width="3.43" height="0.85" fill="#ffdf70"/>
<rect x="621.45" y="1120.12" width="3.43" height="0.55" fill="#5aaeea"/>
<rect x="621.45" y="1109.62" width="3.43" height="10.50" fill="#21c11c"/>
<rect x="624.38" y="1120.50" width="3.43" height="3.90" fill="#8a0a72"/>
<rect x="624.38" y="1120.00" width="3.43" height="0.50" fill="#f57b00"/>
<rect x="624.38" y="1119.47" width="3.43" height="0.52" fill="#ffdf70"/>
<rect x="624.38" y="1119.13" width="3.43" height="0.35" fill="#5aaeea"/>
<rect x="624.38" y="1117.64" width="3.43" height="1.48" fill="#21c11c"/>
<rect x="627.31" y="1120.27" width="3.43" height="4.13" fill="#8a0a72"/>
<rect x="627.31" y="1119.73" width="3.43" height="0.54" fill="#f57b00"/>
<rect x="627.31" y="1119.39" width="3.43" height="0.34" fill="#ffdf70"/>
<rect x="627.31" y="1119.01" width="3.43" height="0.38" fill="#5aaeea"/>
<rect x="627.31" y="1118.18" width="3.43" height="0.83" fill="#21c11c"/>
<rect x="630.24" y="1121.15" width="3.43" height="3.25" fill="#8a0a72"/>
<rect x="630.24" y="1120.65" width="3.43" height="0.50" fill="#f57b00"/>
<rect x="630.24" y="1119.42" width="3.43" height="1.23" fill="#ffdf70"/>
<rect x="630.24" y="1118.76" width="3.43" height="0.66" fill="#5aaeea"/>
<rect x="630.24" y="1111.19" width="3.43" height="7.57" fill="#21c11c"/>
<rect x="633.17" y="1119.95" width="3.43" height="4.45" fill="#8a0a72"/>
<rect x="633.17" y="1119.64" width="3.43" height="0.31" fill="#f57b00"/>
<rect x="633.17" y="1118.99" width="3.43" height="0.65" fill="#ffdf70"/>
<rect x="633.17" y="1118.91" width="3.43" height="0.09" fill="#5aaeea"/>
<rect x="633.17" y="1113.08" width="3.43" height="5.83" fill="#21c11c"/>
<rect x="636.10" y="1119.64" width="3.43" height="4.76" fill="#8a0a72"/>
<rect x="636.10" y="1118.71" width="3.43" height="0.92" fill="#f57b00"/>
<rect x="636.10" y="1117.78" width="3.43" height="0.93" fill="#ffdf70"/>
<rect x="636.10" y="1117.26" width="3.43" height="0.51" fill="#5aaeea"/>
<rect x="636.10" y="1114.33" width="3.43" height="2.93" fill="#21c11c"/>
<rect x="639.03" y="1120.61" width="3.43" height="3.79" fill="#8a0a72"/>
<rect x="639.03" y="1120.41" width="3.43" height="0.20" fill="#ffdf70"/>
<rect x="639.03" y="1119.87" width="3.43" height="0.54" fill="#5aaeea"/>
<rect x="639.03" y="1107.04" width="3.43" height="12.83" fill="#21c11c"/>
<rect x="641.96" y="1122.21" width="3.43" height="2.19" fill="#8a0a72"/>
<rect x="641.96" y="1121.18" width="3.43" height="1.03" fill="#f57b00"/>
<rect x="641.96" y="1120.93" width="3.43" height="0.25" fill="#ffdf70"/>
<rect x="641.96" y="1113.69" width="3.43" height="7.24" fill="#21c11c"/>
<rect x="641.96" y="1113.52" width="3.43" height="0.17" fill="#223d8c"/>
<rect x="644.89" y="1119.78" width="3.43" height="4.62" fill="#8a0a72"/>
<rect x="644.89" y="1118.99" width="3.43" height="0.79" fill="#f57b00"/>
<rect x="644.89" y="1117.82" width="3.43" height="1.17" fill="#ffdf70"/>
<rect x="644.89" y="1117.15" width="3.43" height="0.67" fill="#5aaeea"/>
<rect x="644.89" y="1110.16" width="3.43" height="7.00" fill="#21c11c"/>
<rect x="644.89" y="1104.32" width="3.43" height="5.83" fill="#223d8c"/>
<rect x="644.89" y="964.34" width="3.43" height="139.98" fill="#0c9c9c"/>
<rect x="647.82" y="1120.03" width="3.43" height="4.37" fill="#8a0a72"/>
<rect x="647.82" y="1119.43" width="3.43" height="0.60" fill="#f57b00"/>
<rect x="647.82" y="1118.43" width="3.43" height="1.00" fill="#ffdf70"/>
<rect x="647.82" y="1118.35" width="3.43" height="0.07" fill="#5aaeea"/>
<rect x="647.82" y="1110.19" width="3.43" height="8.17" fill="#21c11c"/>
<rect x="647.82" y="1105.52" width="3.43" height="4.67" fill="#223d8c"/>
<rect x="647.82" y="1039.03" width="3.43" height="66.49" fill="#0c9c9c"/>
<rect x="650.75" y="1121.47" width="3.43" height="2.93" fill="#8a0a72"/>
<rect x="650.75" y="1120.82" width="3.43" height="0.66" fill="#f57b00"/>
<rect x="650.75" y="1119.66" width="3.43" height="1.16" fill="#ffdf70"/>
<rect x="650.75" y="1119.49" width="3.43" height="0.17" fill="#5aaeea"/>
<rect x="650.75" y="1112.49" width="3.43" height="7.00" fill="#21c11c"/>
<rect x="650.75" y="1108.99" width="3.43" height="3.50" fill="#223d8c"/>
<rect x="650.75" y="1087.99" width="3.43" height="21.00" fill="#0c9c9c"/>
<rect x="653.68" y="1120.07" width="3.43" height="4.33" fill="#8a0a72"/>
<rect x="653.68" y="1119.61" width="3.43" height="0.46" fill="#f57b00"/>
<rect x="653.68" y="1119.10" width="3.43" height="0.51" fill="#ffdf70"/>
<rect x="653.68" y="1118.82" width="3.43" height="0.28" fill="#5aaeea"/>
<rect x="653.68" y="1111.82" width="3.43" height="7.00" fill="#21c11c"/>
<rect x="653.68" y="1111.24" width="3.43" height="0.59" fill="#223d8c"/>
<rect x="653.68" y="1097.24" width="3.43" height="14.00" fill="#0c9c9c"/>
<rect x="656.61" y="1120.90" width="3.43" height="3.50" fill="#8a0a72"/>
<rect x="656.61" y="1119.76" width="3.43" height="1.14" fill="#f57b00"/>
<rect x="656.61" y="1119.19" width="3.43" height="0.58" fill="#ffdf70"/>
<rect x="656.61" y="1118.66" width="3.43" height="0.52" fill="#5aaeea"/>
<rect x="656.61" y="1111.66" width="3.43" height="7.00" fill="#21c11c"/>
<rect x="656.61" y="1110.70" width="3.43" height="0.97" fill="#223d8c"/>
<rect x="656.61" y="1099.03" width="3.43" height="11.66" fill="#0c9c9c"/>
<rect x="659.54" y="1120.33" width="3.43" height="4.07" fill="#8a0a72"/>
<rect x="659.54" y="1119.73" width="3.43" height="0.60" fill="#f57b00"/>
<rect x="659.54" y="1119.05" width="3.43" height="0.68" fill="#ffdf70"/>
<rect x="659.54" y="1118.60" width="3.43" height="0.45" fill="#5aaeea"/>
<rect x="659.54" y="1112.77" width="3.43" height="5.83" fill="#21c11c"/>
<rect x="659.54" y="1112.56" width="3.43" height="0.21" fill="#223d8c"/>
<rect x="659.54" y="1100.90" width="3.43" height="11.66" fill="#0c9c9c"/>
<rect x="662.47" y="1120.09" width="3.43" height="4.31" fill="#8a0a72"/>
<rect x="662.47" y="1119.02" width="3.43" height="1.07" fill="#f57b00"/>
<rect x="662.47" y="1118.30" width="3.43" height="0.72" fill="#ffdf70"/>
<rect x="662.47" y="1117.99" width="3.43" height="0.31" fill="#5aaeea"/>
<rect x="662.47" y="1112.15" width="3.43" height="5.83" fill="#21c11c"/>
<rect x="662.47" y="1111.89" width="3.43" height="0.26" fill="#223d8c"/>
<rect x="662.47" y="1104.89" width="3.43" height="7.00" fill="#0c9c9c"/>
<rect x="665.40" y="1121.88" width="3.43" height="2.52" fill="#8a0a72"/>
<rect x="665.40" y="1121.20" width="3.43" height="0.68" fill="#f57b00"/>
<rect x="665.40" y="1120.76" width="3.43" height="0.44" fill="#ffdf70"/>
<rect x="665.40" y="1120.60" width="3.43" height="0.16" fill="#5aaeea"/>
<rect x="665.40" y="1114.23" width="3.43" height="6.36" fill="#21c11c"/>
<rect x="665.40" y="1112.90" width="3.43" height="1.33" fill="#223d8c"/>
<rect x="665.40" y="1105.47" width="3.43" height="7.43" fill="#0c9c9c"/>
<rect x="668.33" y="1120.23" width="3.43" height="4.17" fill="#8a0a72"/>
<rect x="668.33" y="1119.75" width="3.43" height="0.48" fill="#f57b00"/>
<rect x="668.33" y="1118.55" width="3.43" height="1.19" fill="#ffdf70"/>
<rect x="668.33" y="1118.14" width="3.43" height="0.41" fill="#5aaeea"/>
<rect x="668.33" y="1114.25" width="3.43" height="3.89" fill="#21c11c"/>
<rect x="668.33" y="1113.95" width="3.43" height="0.30" fill="#223d8c"/>
<rect x="668.33" y="1109.07" width="3.43" height="4.88" fill="#0c9c9c"/>
<rect x="671.26" y="1120.97" width="3.43" height="3.43" fill="#8a0a72"/>
<rect x="671.26" y="1120.52" width="3.43" height="0.45" fill="#f57b00"/>
<rect x="671.26" y="1120.28" width="3.43" height="0.24" fill="#ffdf70"/>
<rect x="671.26" y="1120.03" width="3.43" height="0.25" fill="#5aaeea"/>
<rect x="671.26" y="1115.82" width="3.43" height="4.21" fill="#21c11c"/>
<rect x="671.26" y="1114.73" width="3.43" height="1.08" fill="#223d8c"/>
<rect x="671.26" y="1108.73" width="3.43" height="6.01" fill="#0c9c9c"/>
<rect x="674.19" y="1119.30" width="3.43" height="5.10" fill="#8a0a72"/>
<rect x="674.19" y="1118.74" width="3.43" height="0.56" fill="#f57b00"/>
<rect x="674.19" y="1117.90" width="3.43" height="0.84" fill="#ffdf70"/>
<rect x="674.19" y="1117.57" width="3.43" height="0.33" fill="#5aaeea"/>
<rect x="674.19" y="1110.37" width="3.43" height="7.20" fill="#21c11c"/>
<rect x="674.19" y="1109.22" width="3.43" height="1.15" fill="#223d8c"/>
<rect x="674.19" y="1091.72" width="3.43" height="17.50" fill="#0c9c9c"/>
<rect x="677.12" y="1120.96" width="3.43" height="3.44" fill="#8a0a72"/>
<rect x="677.12" y="1120.12" width="3.43" height="0.84" fill="#f57b00"/>
<rect x="677.12" y="1118.92" width="3.43" height="1.20" fill="#ffdf70"/>
<rect x="677.12" y="1118.64" width="3.43" height="0.28" fill="#5aaeea"/>
<rect x="677.12" y="1112.03" width="3.43" height="6.61" fill="#21c11c"/>
<rect x="677.12" y="1110.69" width="3.43" height="1.34" fill="#223d8c"/>
<rect x="677.12" y="1078.02" width="3.43" height="32.66" fill="#0c9c9c"/>
<rect x="680.05" y="1121.78" width="3.43" height="2.62" fill="#8a0a72"/>
<rect x="680.05" y="1121.51" width="3.43" height="0.27" fill="#f57b00"/>
<rect x="680.05" y="1120.51" width="3.43" height="1.00" fill="#ffdf70"/>
<rect x="680.05" y="1120.03" width="3.43" height="0.47" fill="#5aaeea"/>
<rect x="680.05" y="1112.11" width="3.43" height="7.92" fill="#21c11c"/>
<rect x="680.05" y="1110.91" width="3.43" height="1.20" fill="#223d8c"/>
<rect x="680.05" y="1103.99" width="3.43" height="6.93" fill="#0c9c9c"/>
<rect x="682.98" y="1121.91" width="3.43" height="2.49" fill="#8a0a72"/>
<rect x="682.98" y="1121.61" width="3.43" height="0.30" fill="#f57b00"/>
<rect x="682.98" y="1121.35" width="3.43" height="0.26" fill="#ffdf70"/>
<rect x="682.98" y="1120.86" width="3.43" height="0.49" fill="#5aaeea"/>
<rect x="682.98" y="1113.52" width="3.43" height="7.34" fill="#21c11c"/>
<rect x="682.98" y="1112.26" width="3.43" height="1.26" fill="#223d8c"/>
<rect x="682.98" y="1095.93" width="3.43" height="16.33" fill="#0c9c9c"/>
<rect x="685.91" y="1119.71" width="3.43" height="4.69" fill="#8a0a72"/>
<rect x="685.91" y="1119.34" width="3.43" height="0.37" fill="#f57b00"/>
<rect x="685.91" y="1118.75" width="3.43" height="0.59" fill="#ffdf70"/>
<rect x="685.91" y="1118.24" width="3.43" height="0.51" fill="#5aaeea"/>
<rect x="685.91" y="1115.41" width="3.43" height="2.83" fill="#21c11c"/>
<rect x="685.91" y="1115.28" width="3.43" height="0.13" fill="#223d8c"/>
<rect x="685.91" y="1091.95" width="3.43" height="23.33" fill="#0c9c9c"/>
<rect x="688.84" y="1121.58" width="3.43" height="2.82" fill="#8a0a72"/>
<rect x="688.84" y="1121.16" width="3.43" height="0.42" fill="#f57b00"/>
<rect x="688.84" y="1120.35" width="3.43" height="0.81" fill="#ffdf70"/>
<rect x="688.84" y="1119.88" width="3.43" height="0.47" fill="#5aaeea"/>
<rect x="688.84" y="1117.51" width="3.43" height="2.37" fill="#21c11c"/>
<rect x="688.84" y="1117.04" width="3.43" height="0.47" fill="#223d8c"/>
<rect x="688.84" y="1098.37" width="3.43" height="18.66" fill="#0c9c9c"/>
<rect x="691.77" y="1120.95" width="3.43" height="3.45" fill="#8a0a72"/>
<rect x="691.77" y="1120.70" width="3.43" height="0.25" fill="#f57b00"/>
<rect x="691.77" y="1119.88" width="3.43" height="0.82" fill="#ffdf70"/>
<rect x="691.77" y="1119.21" width="3.43" height="0.67" fill="#5aaeea"/>
<rect x="691.77" y="1114.60" width="3.43" height="4.61" fill="#21c11c"/>
<rect x="691.77" y="1113.84" width="3.43" height="0.76" fill="#223d8c"/>
<rect x="691.77" y="1097.51" width="3.43" height="16.33" fill="#0c9c9c"/>
<rect x="694.70" y="1121.64" width="3.43" height="2.76" fill="#8a0a72"/>
<rect x="694.70" y="1120.86" width="3.43" height="0.78" fill="#f57b00"/>
<rect x="694.70" y="1120.70" width="3.43" height="0.16" fill="#ffdf70"/>
<rect x="694.70" y="1120.08" width="3.43" height="0.62" fill="#5aaeea"/>
<rect x="694.70" y="1112.45" width="3.43" height="7.63" fill="#21c11c"/>
<rect x="694.70" y="1112.31" width="3.43" height="0.14" fill="#223d8c"/>
<rect x="694.70" y="1100.65" width="3.43" height="11.66" fill="#0c9c9c"/>
<rect x="697.63" y="1121.31" width="3.43" height="3.09" fill="#8a0a72"/>
<rect x="697.63" y="1120.41" width="3.43" height="0.90" fill="#f57b00"/>
<rect x="697.63" y="1119.35" width="3.43" height="1.06" fill="#ffdf70"/>
<rect x="697.63" y="1119.14" width="3.43" height="0.21" fill="#5aaeea"/>
<rect x="697.63" y="1112.87" width="3.43" height="6.28" fill="#21c11c"/>
<rect x="697.63" y="1111.95" width="3.43" height="0.92" fill="#223d8c"/>
<rect x="697.63" y="1090.96" width="3.43" height="21.00" fill="#0c9c9c"/>
<rect x="700.56" y="1121.67" width="3.43" height="2.73" fill="#8a0a72"/>
<rect x="700.56" y="1120.79" width="3.43" height="0.88" fill="#f57b00"/>
<rect x="700.56" y="1119.44" width="3.43" height="1.35" fill="#ffdf70"/>
<rect x="700.56" y="1118.97" width="3.43" height="0.47" fill="#5aaeea"/>
<rect x="700.56" y="1113.51" width="3.43" height="5.46" fill="#21c11c"/>
<rect x="700.56" y="1113.35" width="3.43" height="0.16" fill="#223d8c"/>
<rect x="700.56" y="1104.08" width="3.43" height="9.27" fill="#0c9c9c"/>
<rect x="703.49" y="1121.38" width="3.43" height="3.02" fill="#8a0a72"/>
<rect x="703.49" y="1120.55" width="3.43" height="0.84" fill="#f57b00"/>
<rect x="703.49" y="1119.60" width="3.43" height="0.95" fill="#ffdf70"/>
<rect x="703.49" y="1119.20" width="3.43" height="0.40" fill="#5aaeea"/>
<rect x="703.49" y="1115.81" width="3.43" height="3.39" fill="#21c11c"/>
<rect x="703.49" y="1114.90" width="3.43" height="0.90" fill="#223d8c"/>
<rect x="703.49" y="1105.57" width="3.43" height="9.33" fill="#0c9c9c"/>
<rect x="706.42" y="1121.95" width="3.43" height="2.45" fill="#8a0a72"/>
<rect x="706.42" y="1120.91" width="3.43" height="1.04" fill="#f57b00"/>
<rect x="706.42" y="1119.99" width="3.43" height="0.92" fill="#ffdf70"/>
<rect x="706.42" y="1119.91" width="3.43" height="0.09" fill="#5aaeea"/>
<rect x="706.42" y="1112.14" width="3.43" height="7.77" fill="#21c11c"/>
<rect x="706.42" y="1111.94" width="3.43" height="0.20" fill="#223d8c"/>
<rect x="706.42" y="1097.94" width="3.43" height="14.00" fill="#0c9c9c"/>
<rect x="709.35" y="1120.18" width="3.43" height="4.22" fill="#8a0a72"/>
<rect x="709.35" y="1119.48" width="3.43" height="0.70" fill="#f57b00"/>
<rect x="709.35" y="1118.71" width="3.43" height="0.78" fill="#ffdf70"/>
<rect x="709.35" y="1118.25" width="3.43" height="0.45" fill="#5aaeea"/>
<rect x="709.35" y="1113.25" width="3.43" height="5.00" fill="#21c11c"/>
<rect x="709.35" y="1112.81" width="3.43" height="0.44" fill="#223d8c"/>
<rect x="709.35" y="1099.98" width="3.43" height="12.83" fill="#0c9c9c"/>
<rect x="712.28" y="1122.31" width="3.43" height="2.09" fill="#8a0a72"/>
<rect x="712.28" y="1121.47" width="3.43" height="0.84" fill="#f57b00"/>
<rect x="712.28" y="1120.42" width="3.43" height="1.06" fill="#ffdf70"/>
<rect x="712.28" y="1120.04" width="3.43" height="0.38" fill="#5aaeea"/>
<rect x="712.28" y="1113.39" width="3.43" height="6.65" fill="#21c11c"/>
<rect x="712.28" y="1112.89" width="3.43" height="0.50" fill="#223d8c"/>
<rect x="712.28" y="1105.74" width="3.43" height="7.15" fill="#0c9c9c"/>
<rect x="715.21" y="1121.28" width="3.43" height="3.12" fill="#8a0a72"/>
<rect x="715.21" y="1120.26" width="3.43" height="1.02" fill="#f57b00"/>
<rect x="715.21" y="1119.91" width="3.43" height="0.35" fill="#5aaeea"/>
<rect x="715.21" y="1116.14" width="3.43" height="3.77" fill="#21c11c"/>
<rect x="715.21" y="1115.06" width="3.43" height="1.08" fill="#223d8c"/>
<rect x="715.21" y="1103.39" width="3.43" height="11.66" fill="#0c9c9c"/>
<rect x="718.14" y="1121.45" width="3.43" height="2.95" fill="#8a0a72"/>
<rect x="718.14" y="1120.98" width="3.43" height="0.47" fill="#f57b00"/>
<rect x="718.14" y="1120.22" width="3.43" height="0.76" fill="#ffdf70"/>
<rect x="718.14" y="1119.68" width="3.43" height="0.54" fill="#5aaeea"/>
<rect x="718.14" y="1115.29" width="3.43" height="4.39" fill="#21c11c"/>
<rect x="718.14" y="1114.10" width="3.43" height="1.19" fill="#223d8c"/>
<rect x="718.14" y="1108.39" width="3.43" height="5.71" fill="#0c9c9c"/>
<rect x="721.07" y="1121.65" width="3.43" height="2.75" fill="#8a0a72"/>
<rect x="721.07" y="1121.53" width="3.43" height="0.12" fill="#f57b00"/>
<rect x="721.07" y="1121.38" width="3.43" height="0.16" fill="#ffdf70"/>
<rect x="721.07" y="1120.83" width="3.43" height="0.55" fill="#5aaeea"/>
<rect x="721.07" y="1114.26" width="3.43" height="6.57" fill="#21c11c"/>
<rect x="721.07" y="1114.00" width="3.43" height="0.26" fill="#223d8c"/>
<rect x="721.07" y="1107.00" width="3.43" height="7.00" fill="#0c9c9c"/>
<rect x="724.00" y="1121.17" width="3.43" height="3.23" fill="#8a0a72"/>
<rect x="724.00" y="1120.31" width="3.43" height="0.87" fill="#f57b00"/>
<rect x="724.00" y="1119.16" width="3.43" height="1.14" fill="#ffdf70"/>
<rect x="724.00" y="1118.64" width="3.43" height="0.52" fill="#5aaeea"/>
<rect x="724.00" y="1112.85" width="3.43" height="5.79" fill="#21c11c"/>
<rect x="724.00" y="1112.65" width="3.43" height="0.21" fill="#223d8c"/>
<rect x="724.00" y="1104.27" width="3.43" height="8.38" fill="#0c9c9c"/>
<rect x="726.93" y="1121.90" width="3.43" height="2.50" fill="#8a0a72"/>
<rect x="726.93" y="1121.29" width="3.43" height="0.62" fill="#f57b00"/>
<rect x="726.93" y="1120.49" width="3.43" height="0.80" fill="#ffdf70"/>
<rect x="726.93" y="1120.35" width="3.43" height="0.14" fill="#5aaeea"/>
<rect x="726.93" y="1116.56" width="3.43" height="3.79" fill="#21c11c"/>
<rect x="726.93" y="1115.46" width="3.43" height="1.09" fill="#223d8c"/>
<rect x="726.93" y="1106.13" width="3.43" height="9.33" fill="#0c9c9c"/>
<rect x="729.86" y="1119.91" width="3.43" height="4.49" fill="#8a0a72"/>
<rect x="729.86" y="1118.87" width="3.43" height="1.04" fill="#f57b00"/>
<rect x="729.86" y="1117.54" width="3.43" height="1.33" fill="#ffdf70"/>
<rect x="729.86" y="1117.27" width="3.43" height="0.27" fill="#5aaeea"/>
<rect x="729.86" y="1111.72" width="3.43" height="5.56" fill="#21c11c"/>
<rect x="729.86" y="1110.90" width="3.43" height="0.82" fill="#223d8c"/>
<rect x="729.86" y="1100.32" width="3.43" height="10.58" fill="#0c9c9c"/>
<rect x="732.79" y="1119.34" width="3.43" height="5.06" fill="#8a0a72"/>
<rect x="732.79" y="1118.54" width="3.43" height="0.80" fill="#f57b00"/>
<rect x="732.79" y="1118.12" width="3.43" height="0.42" fill="#ffdf70"/>
<rect x="732.79" y="1117.52" width="3.43" height="0.60" fill="#5aaeea"/>
<rect x="732.79" y="1112.36" width="3.43" height="5.16" fill="#21c11c"/>
<rect x="732.79" y="1111.52" width="3.43" height="0.84" fill="#223d8c"/>
<rect x="732.79" y="1100.07" width="3.43" height="11.45" fill="#0c9c9c"/>
<rect x="735.72" y="1122.53" width="3.43" height="1.87" fill="#8a0a72"/>
<rect x="735.72" y="1121.63" width="3.43" height="0.90" fill="#f57b00"/>
<rect x="735.72" y="1120.70" width="3.43" height="0.93" fill="#ffdf70"/>
<rect x="735.72" y="1120.36" width="3.43" height="0.34" fill="#5aaeea"/>
<rect x="735.72" y="1114.97" width="3.43" height="5.39" fill="#21c11c"/>
<rect x="735.72" y="1114.32" width="3.43" height="0.64" fill="#223d8c"/>
<rect x="735.72" y="1104.99" width="3.43" height="9.33" fill="#0c9c9c"/>
<rect x="738.65" y="1120.80" width="3.43" height="3.60" fill="#8a0a72"/>
<rect x="738.65" y="1120.10" width="3.43" height="0.70" fill="#ffdf70"/>
<rect x="738.65" y="1119.65" width="3.43" height="0.45" fill="#5aaeea"/>
<rect x="738.65" y="1114.73" width="3.43" height="4.92" fill="#21c11c"/>
<rect x="738.65" y="1113.94" width="3.43" height="0.79" fill="#223d8c"/>
<rect x="738.65" y="1101.10" width="3.43" height="12.83" fill="#0c9c9c"/>
<rect x="741.58" y="1119.62" width="3.43" height="4.78" fill="#8a0a72"/>
<rect x="741.58" y="1119.46" width="3.43" height="0.16" fill="#f57b00"/>
<rect x="741.58" y="1118.35" width="3.43" height="1.11" fill="#ffdf70"/>
<rect x="741.58" y="1117.92" width="3.43" height="0.44" fill="#5aaeea"/>
<rect x="741.58" y="1115.29" width="3.43" height="2.63" fill="#21c11c"/>
<rect x="741.58" y="1114.78" width="3.43" height="0.50" fill="#223d8c"/>
<rect x="741.58" y="1103.12" width="3.43" height="11.66" fill="#0c9c9c"/>
<rect x="744.51" y="1122.28" width="3.43" height="2.12" fill="#8a0a72"/>
<rect x="744.51" y="1121.65" width="3.43" height="0.63" fill="#f57b00"/>
<rect x="744.51" y="1120.35" width="3.43" height="1.30" fill="#ffdf70"/>
<rect x="744.51" y="1120.12" width="3.43" height="0.23" fill="#5aaeea"/>
<rect x="744.51" y="1112.71" width="3.43" height="7.41" fill="#21c11c"/>
<rect x="744.51" y="1111.74" width="3.43" height="0.97" fill="#223d8c"/>
<rect x="744.51" y="1097.74" width="3.43" height="14.00" fill="#0c9c9c"/>
<rect x="747.44" y="1119.73" width="3.43" height="4.67" fill="#8a0a72"/>
<rect x="747.44" y="1119.03" width="3.43" height="0.70" fill="#f57b00"/>
<rect x="747.44" y="1117.73" width="3.43" height="1.30" fill="#ffdf70"/>
<rect x="747.44" y="1117.23" width="3.43" height="0.50" fill="#5aaeea"/>
<rect x="747.44" y="1110.58" width="3.43" height="6.65" fill="#21c11c"/>
<rect x="747.44" y="1110.10" width="3.43" height="0.48" fill="#223d8c"/>
<rect x="747.44" y="1091.44" width="3.43" height="18.66" fill="#0c9c9c"/>
<rect x="750.37" y="1119.49" width="3.43" height="4.91" fill="#8a0a72"/>
<rect x="750.37" y="1118.49" width="3.43" height="1.00" fill="#f57b00"/>
<rect x="750.37" y="1117.87" width="3.43" height="0.61" fill="#ffdf70"/>
<rect x="750.37" y="1117.34" width="3.43" height="0.53" fill="#5aaeea"/>
<rect x="750.37" y="1112.18" width="3.43" height="5.16" fill="#21c11c"/>
<rect x="750.37" y="1112.03" width="3.43" height="0.15" fill="#223d8c"/>
<rect x="750.37" y="1101.53" width="3.43" height="10.50" fill="#0c9c9c"/>
<rect x="753.30" y="1122.28" width="3.43" height="2.12" fill="#8a0a72"/>
<rect x="753.30" y="1122.05" width="3.43" height="0.23" fill="#f57b00"/>
<rect x="753.30" y="1121.82" width="3.43" height="0.23" fill="#ffdf70"/>
<rect x="753.30" y="1121.47" width="3.43" height="0.35" fill="#5aaeea"/>
<rect x="753.30" y="1115.06" width="3.43" height="6.41" fill="#21c11c"/>
<rect x="753.30" y="1114.31" width="3.43" height="0.75" fill="#223d8c"/>
<rect x="753.30" y="1104.98" width="3.43" height="9.33" fill="#0c9c9c"/>
<rect x="756.23" y="1120.41" width="3.43" height="3.99" fill="#8a0a72"/>
<rect x="756.23" y="1120.06" width="3.43" height="0.36" fill="#f57b00"/>
<rect x="756.23" y="1119.41" width="3.43" height="0.65" fill="#ffdf70"/>
<rect x="756.23" y="1118.88" width="3.43" height="0.53" fill="#5aaeea"/>
<rect x="756.23" y="1114.20" width="3.43" height="4.67" fill="#21c11c"/>
<rect x="756.23" y="1113.95" width="3.43" height="0.25" fill="#223d8c"/>
<rect x="756.23" y="1099.95" width="3.43" height="14.00" fill="#0c9c9c"/>
<rect x="759.16" y="1120.18" width="3.43" height="4.22" fill="#8a0a72"/>
<rect x="759.16" y="1119.75" width="3.43" height="0.43" fill="#f57b00"/>
<rect x="759.16" y="1119.24" width="3.43" height="0.52" fill="#ffdf70"/>
<rect x="759.16" y="1118.87" width="3.43" height="0.37" fill="#5aaeea"/>
<rect x="759.16" y="1113.05" width="3.43" height="5.81" fill="#21c11c"/>
<rect x="759.16" y="1112.74" width="3.43" height="0.31" fill="#223d8c"/>
<rect x="759.16" y="1096.41" width="3.43" height="16.33" fill="#0c9c9c"/>
<rect x="762.09" y="1121.85" width="3.43" height="2.55" fill="#8a0a72"/>
<rect x="762.09" y="1120.94" width="3.43" height="0.91" fill="#f57b00"/>
<rect x="762.09" y="1120.74" width="3.43" height="0.20" fill="#ffdf70"/>
<rect x="762.09" y="1120.41" width="3.43" height="0.32" fill="#5aaeea"/>
<rect x="762.09" y="1116.94" width="3.43" height="3.47" fill="#21c11c"/>
<rect x="762.09" y="1116.65" width="3.43" height="0.29" fill="#223d8c"/>
<rect x="762.09" y="1110.39" width="3.43" height="6.26" fill="#0c9c9c"/>
<rect x="765.02" y="1121.21" width="3.43" height="3.19" fill="#8a0a72"/>
<rect x="765.02" y="1121.02" width="3.43" height="0.20" fill="#f57b00"/>
<rect x="765.02" y="1120.94" width="3.43" height="0.08" fill="#5aaeea"/>
<rect x="765.02" y="1117.63" width="3.43" height="3.31" fill="#21c11c"/>
<rect x="765.02" y="1116.94" width="3.43" height="0.69" fill="#223d8c"/>
<rect x="765.02" y="1106.44" width="3.43" height="10.50" fill="#0c9c9c"/>
<rect x="767.95" y="1122.46" width="3.43" height="1.94" fill="#8a0a72"/>
<rect x="767.95" y="1121.94" width="3.43" height="0.52" fill="#f57b00"/>
<rect x="767.95" y="1121.37" width="3.43" height="0.57" fill="#ffdf70"/>
<rect x="767.95" y="1120.87" width="3.43" height="0.49" fill="#5aaeea"/>
<rect x="767.95" y="1118.24" width="3.43" height="2.63" fill="#21c11c"/>
<rect x="767.95" y="1117.68" width="3.43" height="0.56" fill="#223d8c"/>
<rect x="767.95" y="1104.85" width="3.43" height="12.83" fill="#0c9c9c"/>
<text x="845" y="1131.5" text-anchor="end" font-family="Liberation Serif" font-size="16" fill="#111" stroke="#111" stroke-width="0.3" textLength="25.0" lengthAdjust="spacingAndGlyphs"><tspan font-size="16.7" dy="0.0">0</tspan><tspan font-size="17" dy="0.0">.</tspan><tspan font-size="16.7" dy="0.0">0</tspan></text>
<text x="845" y="1115.5" text-anchor="end" font-family="Liberation Serif" font-size="16" fill="#111" stroke="#111" stroke-width="0.3" textLength="34.0" lengthAdjust="spacingAndGlyphs"><tspan font-size="16.7" dy="0.0">1</tspan><tspan font-size="17" dy="0.0">.</tspan><tspan font-size="16.7" dy="0.0">0</tspan><tspan font-size="19.5" dy="0.0">k</tspan></text>
<text x="845" y="1099.4" text-anchor="end" font-family="Liberation Serif" font-size="16" fill="#111" stroke="#111" stroke-width="0.3" textLength="36.0" lengthAdjust="spacingAndGlyphs"><tspan font-size="16.7" dy="0.0">2</tspan><tspan font-size="17" dy="0.0">.</tspan><tspan font-size="16.7" dy="0.0">0</tspan><tspan font-size="19.5" dy="0.0">k</tspan></text>
<text x="845" y="1083.3" text-anchor="end" font-family="Liberation Serif" font-size="16" fill="#111" stroke="#111" stroke-width="0.3" textLength="36.0" lengthAdjust="spacingAndGlyphs"><tspan font-size="19.5" dy="3.0">3</tspan><tspan font-size="17" dy="-3.0">.</tspan><tspan font-size="16.7" dy="0.0">0</tspan><tspan font-size="19.5" dy="0.0">k</tspan></text>
<text x="845" y="1067.3" text-anchor="end" font-family="Liberation Serif" font-size="16" fill="#111" stroke="#111" stroke-width="0.3" textLength="36.0" lengthAdjust="spacingAndGlyphs"><tspan font-size="19.5" dy="3.0">4</tspan><tspan font-size="17" dy="-3.0">.</tspan><tspan font-size="16.7" dy="0.0">0</tspan><tspan font-size="19.5" dy="0.0">k</tspan></text>
<text x="845" y="1051.2" text-anchor="end" font-family="Liberation Serif" font-size="16" fill="#111" stroke="#111" stroke-width="0.3" textLength="36.0" lengthAdjust="spacingAndGlyphs"><tspan font-size="19.5" dy="3.0">5</tspan><tspan font-size="17" dy="-3.0">.</tspan><tspan font-size="16.7" dy="0.0">0</tspan><tspan font-size="19.5" dy="0.0">k</tspan></text>
<text x="845" y="1035.2" text-anchor="end" font-family="Liberation Serif" font-size="16" fill="#111" stroke="#111" stroke-width="0.3" textLength="36.0" lengthAdjust="spacingAndGlyphs"><tspan font-size="19.7" dy="0.0">6</tspan><tspan font-size="17" dy="0.0">.</tspan><tspan font-size="16.7" dy="0.0">0</tspan><tspan font-size="19.5" dy="0.0">k</tspan></text>
<text x="845" y="1019.1" text-anchor="end" font-family="Liberation Serif" font-size="16" fill="#111" stroke="#111" stroke-width="0.3" textLength="36.0" lengthAdjust="spacingAndGlyphs"><tspan font-size="19.5" dy="3.0">7</tspan><tspan font-size="17" dy="-3.0">.</tspan><tspan font-size="16.7" dy="0.0">0</tspan><tspan font-size="19.5" dy="0.0">k</tspan></text>
<text x="845" y="1003.1" text-anchor="end" font-family="Liberation Serif" font-size="16" fill="#111" stroke="#111" stroke-width="0.3" textLength="36.0" lengthAdjust="spacingAndGlyphs"><tspan font-size="19.7" dy="0.0">8</tspan><tspan font-size="17" dy="0.0">.</tspan><tspan font-size="16.7" dy="0.0">0</tspan><tspan font-size="19.5" dy="0.0">k</tspan></text>
<text x="845" y="987.0" text-anchor="end" font-family="Liberation Serif" font-size="16" fill="#111" stroke="#111" stroke-width="0.3" textLength="36.0" lengthAdjust="spacingAndGlyphs"><tspan font-size="19.5" dy="3.0">9</tspan><tspan font-size="17" dy="-3.0">.</tspan><tspan font-size="16.7" dy="0.0">0</tspan><tspan font-size="19.5" dy="0.0">k</tspan></text>
<text x="845" y="971.0" text-anchor="end" font-family="Liberation Serif" font-size="16" fill="#111" stroke="#111" stroke-width="0.3" textLength="29.6" lengthAdjust="spacingAndGlyphs"><tspan font-size="16.7" dy="0.0">1</tspan><tspan font-size="16.7" dy="0.0">0</tspan><tspan font-size="19.5" dy="0.0">k</tspan></text>
<text x="845" y="955.0" text-anchor="end" font-family="Liberation Serif" font-size="16" fill="#111" stroke="#111" stroke-width="0.3" textLength="27.6" lengthAdjust="spacingAndGlyphs"><tspan font-size="16.7" dy="0.0">1</tspan><tspan font-size="16.7" dy="0.0">1</tspan><tspan font-size="19.5" dy="0.0">k</tspan></text>
<text x="845" y="938.9" text-anchor="end" font-family="Liberation Serif" font-size="16" fill="#111" stroke="#111" stroke-width="0.3" textLength="29.6" lengthAdjust="spacingAndGlyphs"><tspan font-size="16.7" dy="0.0">1</tspan><tspan font-size="16.7" dy="0.0">2</tspan><tspan font-size="19.5" dy="0.0">k</tspan></text>
<text x="845" y="922.9" text-anchor="end" font-family="Liberation Serif" font-size="16" fill="#111" stroke="#111" stroke-width="0.3" textLength="29.6" lengthAdjust="spacingAndGlyphs"><tspan font-size="16.7" dy="0.0">1</tspan><tspan font-size="19.5" dy="3.0">3</tspan><tspan font-size="19.5" dy="-3.0">k</tspan></text>
<text transform="translate(878,910) rotate(-90)" text-anchor="end" font-family="Liberation Serif" font-size="19" fill="#333" stroke="#333" stroke-width="0.2" textLength="162" lengthAdjust="spacingAndGlyphs">Page views per day</text>
<defs><linearGradient id="pvg" gradientUnits="userSpaceOnUse" x1="0" y1="1125" x2="0" y2="905"><stop offset="0" stop-color="#58aaf0"/><stop offset="0.059" stop-color="#5f98e0"/><stop offset="0.114" stop-color="#7060c0"/><stop offset="0.159" stop-color="#7d3aa0"/><stop offset="0.214" stop-color="#88107a"/><stop offset="0.273" stop-color="#8b0070"/><stop offset="0.523" stop-color="#a4065f"/><stop offset="0.841" stop-color="#dc2a66"/><stop offset="1" stop-color="#f2456f"/></linearGradient></defs>
<polyline points="858.0,1124.0 858.5,1124.0 859.1,1124.0 859.6,1124.0 860.2,1123.9 860.7,1124.1 861.3,1123.9 861.8,1124.2 862.4,1123.9 862.9,1124.0 863.5,1124.2 864.0,1124.2 864.6,1124.1 865.1,1124.0 865.7,1123.9 866.2,1124.0 866.8,1124.0 867.3,1124.1 867.9,1123.9 868.4,1124.0 869.0,1124.1 869.5,1124.2 870.1,1124.1 870.6,1124.1 871.2,1123.9 871.7,1124.1 872.3,1124.0 872.8,1124.1 873.4,1124.0 873.9,1124.1 874.5,1124.1 875.0,1124.0 875.6,1124.1 876.1,1124.2 876.7,1124.1 877.2,1124.1 877.8,1124.0 878.3,1124.0 878.9,1124.1 879.4,1124.1 880.0,1123.9 880.5,1123.9 881.1,1124.1 881.6,1124.0 882.2,1123.9 882.7,1124.1 883.3,1124.1 883.8,1124.2 884.4,1124.0 884.9,1124.0 885.5,1124.1 886.0,1124.0 886.6,1123.9 887.1,1124.1 887.7,1123.9 888.2,1124.1 888.6,1115.4 888.8,1115.4 889.3,1123.9 889.9,1124.0 890.4,1124.2 891.0,1123.9 891.5,1124.0 892.1,1123.9 892.6,1124.1 893.2,1124.0 893.7,1124.1 894.3,1123.9 894.8,1124.1 895.4,1124.1 895.9,1124.1 896.5,1124.2 897.0,1124.1 897.6,1124.2 898.1,1123.9 898.7,1124.0 899.2,1124.0 899.8,1124.2 900.3,1122.8 900.9,1123.0 901.4,1122.9 902.0,1122.8 902.5,1122.5 903.1,1121.2 903.6,1122.8 904.2,1121.9 904.7,1122.7 905.3,1121.5 905.8,1122.8 906.4,1121.2 906.9,1122.7 907.5,1122.3 908.0,1122.7 908.6,1121.3 909.1,1122.3 909.7,1122.2 910.2,1123.6 910.8,1122.0 911.3,1122.9 911.9,1116.6 912.4,1116.0 913.0,1111.8 913.5,1111.0 914.1,1107.5 914.6,1101.6 915.0,1102.5 915.2,1102.5 915.7,1109.7 916.3,1110.4 916.8,1114.1 917.4,1113.9 917.9,1116.1 918.5,1118.6 919.0,1119.9 919.6,1119.3 920.1,1120.0 920.7,1118.4 921.2,1118.4 921.8,1115.3 922.3,1109.0 922.9,1106.4 923.4,1108.2 924.0,1101.1 924.5,1064.0 924.7,1064.0 925.1,1100.7 925.6,1109.2 926.2,1109.8 926.7,1112.4 927.3,1111.1 927.8,1115.2 928.4,1110.8 928.9,1108.2 929.5,1104.7 930.0,1104.1 930.2,1104.1 930.6,1111.9 931.1,1107.2 931.7,1114.0 932.2,1111.6 932.8,1115.5 933.3,1117.5 933.9,1117.8 934.4,1114.5 935.0,1117.9 935.5,1119.3 936.1,1118.9 936.6,1119.9 937.2,1118.5 937.7,1120.0 938.3,1118.0 938.8,1119.2 939.4,1117.7 939.9,1119.6 940.5,1115.9 941.0,1116.7 941.6,1115.4 942.1,1116.2 942.7,1115.4 943.2,1117.3 943.8,1114.4 944.3,1116.1 944.9,1115.7 945.4,1117.4 946.0,1115.4 946.5,1117.4 947.1,1114.5 947.6,1116.3 948.2,1114.6 948.7,1108.8 949.3,1108.5 949.8,1110.1 950.4,1095.7 950.9,1078.5 951.0,1078.5 951.5,1104.1 952.0,1099.9 952.6,1105.2 953.1,1108.9 953.7,1115.7 954.2,1116.9 954.8,1116.0 955.3,1114.0 955.9,1115.0 956.4,1111.8 957.0,1112.5 957.5,1107.3 957.5,1107.3 958.1,1106.2 958.6,1110.9 959.2,1114.7 959.7,1114.4 960.3,1115.3 960.8,1117.4 961.4,1116.4 961.9,1118.1 962.5,1117.3 963.0,1117.4 963.6,1116.2 964.1,1113.1 964.7,1111.2 965.2,1109.4 965.8,1110.5 966.3,1106.2 966.7,1100.9 966.9,1100.9 967.4,1106.9 968.0,1111.5 968.5,1111.1 969.1,1113.8 969.6,1116.9 970.2,1116.9 970.7,1120.1 971.3,1118.1 971.8,1120.1 972.4,1118.0 972.9,1119.5 973.5,1117.9 974.0,1120.5 974.6,1118.1 975.1,1120.2 975.7,1118.4 976.2,1119.9 976.8,1118.5 977.3,1119.4 977.9,1118.6 978.4,1120.1 979.0,1119.3 979.5,1120.2 980.1,1119.0 980.6,1119.6 981.2,1118.3 981.7,1118.9 982.3,1117.8 982.8,1115.8 983.4,1113.8 983.9,1109.3 984.5,1105.8 985.0,1106.0 985.6,1098.8 986.0,971.7 986.1,971.7 986.7,1107.5 987.2,1109.7 987.8,1107.0 988.3,1110.1 988.9,1112.2 989.4,1107.7 990.0,1104.5 990.5,1104.9 991.0,1099.3 991.1,1099.3 991.6,1100.9 992.2,1109.1 992.7,1112.1 993.3,1114.5 993.8,1113.4 994.4,1110.9 994.9,1103.0 995.5,1103.2 996.0,1094.5 996.0,1094.5 996.6,1103.6 997.1,1103.2 997.7,1110.9 998.2,1112.7 998.8,1112.8 999.3,1104.9 999.9,1103.2 1000.4,1099.0 1001.0,1094.5 1001.0,1094.5 1001.5,1097.3 1002.1,1103.0 1002.6,1106.3 1003.2,1109.9 1003.7,1111.3 1004.3,1109.9 1004.8,1111.7 1005.4,1103.5 1005.9,1096.1 1006.0,1096.1 1006.5,1106.3 1007.0,1108.1 1007.6,1111.5 1008.1,1111.5 1008.7,1116.0 1009.2,1117.1 1009.8,1118.8 1010.3,1120.3 1010.9,1119.5 1011.4,1119.3 1012.0,1118.4 1012.5,1119.8 1013.1,1119.4 1013.6,1118.8 1014.2,1112.6 1014.7,1119.3 1015.3,1118.4 1015.8,1119.2 1016.4,1117.1 1016.9,1119.2 1017.5,1116.9 1018.0,1118.3 1018.6,1116.9 1019.1,1119.1 1019.7,1117.7 1020.2,1118.8 1020.8,1117.7 1021.3,1118.1 1021.9,1116.4 1022.4,1118.0 1023.0,1117.0 1023.5,1118.0 1024.1,1117.1 1024.6,1119.3 1025.2,1116.9 1025.7,1117.9 1026.3,1111.9 1026.8,1115.7 1027.4,1112.3 1027.9,1111.1 1028.5,1105.7 1029.0,1097.7 1029.6,1060.8 1029.7,1060.8 1030.1,1099.1 1030.7,1104.3 1031.2,1104.6 1031.8,1108.3 1032.3,1115.0 1032.9,1115.3 1033.4,1116.3 1034.0,1115.5 1034.5,1116.3 1035.1,1114.9 1035.6,1116.9 1036.2,1114.4 1036.7,1116.7 1037.3,1115.9 1037.8,1116.5 1038.4,1114.3 1038.9,1116.1 1039.5,1114.7 1040.0,1116.1 1040.6,1116.1 1041.1,1115.7 1041.7,1115.2 1042.2,1115.9 1042.8,1115.2 1043.3,1117.0 1043.9,1115.3 1044.4,1112.4 1045.0,1112.0 1045.5,1109.9 1046.1,1102.1 1046.6,1103.7 1047.2,1054.4 1047.2,1054.4 1047.7,1101.6 1048.3,1102.8 1048.8,1111.2 1049.4,1112.2 1049.9,1112.2 1050.5,1115.8 1051.0,1116.5 1051.6,1115.0 1052.1,1115.9 1052.7,1114.4 1053.2,1116.3 1053.8,1112.0 1054.3,1111.0 1054.9,1112.5 1055.4,1102.6 1056.0,1100.9 1056.0,1100.9 1056.5,1103.4 1057.1,1108.3 1057.6,1112.1 1058.2,1113.1 1058.7,1114.7 1059.3,1117.0 1059.8,1117.0 1060.4,1116.6 1060.9,1117.7 1061.5,1114.7 1062.0,1116.5 1062.6,1115.2 1063.1,1117.5 1063.7,1117.3 1064.2,1117.0 1064.8,1116.3 1065.3,1117.0 1065.9,1115.7 1066.4,1118.4 1067.0,1117.8 1067.5,1118.2 1068.1,1117.4 1068.6,1118.1 1069.2,1118.0 1069.7,1119.4 1070.3,1118.1 1070.8,1118.2 1071.4,1117.8 1071.9,1118.8 1072.5,1118.5 1073.0,1118.5 1073.6,1118.4 1074.1,1119.2 1074.7,1111.5 1075.2,1119.5 1075.8,1117.3 1076.3,1119.6 1076.9,1119.4 1077.4,1120.2 1078.0,1119.4 1078.5,1119.6 1079.1,1119.3 1079.6,1119.9 1080.2,1118.7 1080.7,1119.9 1081.3,1118.5 1081.8,1119.0 1082.4,1117.5 1082.9,1119.1 1083.5,1117.0 1084.0,1113.4 1084.6,1112.1 1085.1,1104.5 1085.7,1103.9 1086.2,1098.7 1086.6,983.8 1086.8,983.8 1087.3,1108.1 1087.9,1107.2 1088.4,1108.0 1089.0,1107.2 1089.5,1106.1 1090.1,1100.3 1090.6,1107.9 1091.0,1092.9 1091.2,1092.9 1091.7,1107.3 1092.3,1111.5 1092.8,1109.5 1093.4,1112.2 1093.9,1115.9 1094.5,1118.2 1095.0,1118.2 1095.6,1117.8 1096.1,1119.3 1096.7,1117.6 1097.2,1119.4 1097.8,1118.7 1098.3,1120.1 1098.9,1118.8 1099.4,1120.4 1100.0,1119.2 1100.5,1119.2 1101.1,1118.6 1101.6,1119.8 1102.2,1117.4 1102.7,1119.0 1103.3,1117.2 1103.8,1118.8 1104.4,1119.1 1104.9,1118.3 1105.5,1117.7 1106.0,1118.3 1106.6,1116.7 1107.1,1114.2 1107.7,1109.0 1108.2,1101.9 1108.8,1098.6 1109.3,1076.8 1109.6,1076.8 1109.9,1092.2 1110.4,1106.1 1111.0,1103.7 1111.5,1094.1 1112.0,1076.8 1112.1,1076.8 1112.6,1102.6 1113.2,1104.1 1113.7,1104.1 1114.3,1109.3 1114.8,1114.6 1115.4,1116.4 1115.9,1109.8 1116.5,1105.7 1117.0,1109.5 1117.6,1105.2 1118.1,1080.1 1118.3,1080.1 1118.7,1097.4 1119.2,1105.0 1119.8,1110.6 1120.3,1108.0 1120.9,1114.9 1121.4,1117.3 1122.0,1117.1 1122.5,1117.4 1123.1,1116.8 1123.6,1117.3 1124.2,1116.9 1124.7,1115.1 1125.3,1114.4 1125.8,1112.7 1126.4,1108.0 1126.9,1105.7 1127.0,1105.7 1127.5,1107.3 1128.0,1109.8 1128.6,1109.8 1129.1,1115.4 1129.7,1116.1 1130.2,1117.3 1130.8,1116.2 1131.3,1118.1 1131.9,1116.3 1132.4,1117.5 1133.0,1116.2 1133.5,1117.6 1134.1,1116.5 1134.6,1117.6 1135.2,1115.6 1135.7,1116.0 1136.3,1114.4 1136.8,1116.9 1137.4,1115.0 1137.9,1111.1 1138.5,1111.5 1139.0,1109.7 1139.6,1106.3 1140.0,1097.7 1140.1,1097.7 1140.7,1103.4 1141.2,1104.2 1141.8,1107.3 1142.3,1114.1 1142.9,1115.5 1143.4,1113.6 1144.0,1111.1 1144.5,1104.3 1145.1,1099.7 1145.6,1100.8 1146.0,1065.6 1146.2,1065.6 1146.7,1105.5 1147.3,1106.1 1147.8,1108.2 1148.4,1104.9 1148.9,1109.6 1149.5,1103.2 1150.0,1084.9 1150.0,1084.9 1150.6,1096.2 1151.1,1109.5 1151.7,1110.2 1152.2,1111.7 1152.8,1112.1 1153.3,1113.4 1153.9,1105.0 1154.4,1106.0 1155.0,1100.9 1155.0,1100.9 1155.5,1105.7 1156.1,1110.4 1156.6,1113.8 1157.2,1113.4 1157.7,1116.4 1158.3,1115.2 1158.8,1115.4 1159.4,1116.0 1159.9,1116.0 1160.5,1116.0 1161.0,1115.8 1161.6,1115.8 1162.1,1116.9 1162.7,1115.3 1163.2,1115.5 1163.8,1114.9 1164.3,1116.5 1164.9,1115.5 1165.4,1116.7 1166.0,1116.2 1166.5,1116.9 1167.1,1116.3 1167.6,1117.4 1168.2,1106.8 1168.7,1105.7 1169.3,1103.7 1169.8,1113.8 1170.4,1104.6 1170.9,1100.3 1171.5,1112.5 1172.0,1108.7 1172.6,1099.6 1173.1,1111.8 1173.7,1102.6 1174.2,1111.8 1174.8,1105.8 1175.3,1108.4 1175.9,1102.7 1176.4,1112.3 1177.0,1103.6 1177.5,1109.9 1178.1,1073.1 1178.6,1100.8 1179.2,1091.1 1179.7,1098.9 1180.3,1084.2 1180.8,1080.6 1181.4,1080.0 1181.9,1077.2 1182.5,1080.6 1183.0,911.5 1183.2,911.5 1183.6,1038.8 1184.1,1086.1 1184.7,1029.2 1185.2,1017.5 1185.3,1017.5 1185.8,1053.4 1186.3,1080.7 1186.9,1034.2 1187.4,1050.6 1188.0,988.6 1188.0,988.6 1188.5,1086.3 1189.1,1036.0 1189.6,1086.3 1190.2,1040.8 1190.7,953.3 1190.8,953.3 1191.3,1030.8 1191.8,1062.9 1192.4,1077.8 1192.9,972.5 1193.0,972.5 1193.5,1036.3 1194.0,1067.1 1194.6,1082.2 1195.1,1055.1 1195.7,1049.1 1196.0,1020.7 1196.2,1020.7 1196.8,1029.2 1197.3,1037.9 1197.9,1070.7 1198.4,1051.2 1199.0,1048.1 1199.5,1053.8 1200.1,1051.0 1200.6,1074.9 1201.2,1048.3 1201.7,1085.7 1202.3,1053.8 1202.8,1055.3 1203.4,967.7 1203.6,967.7 1203.9,1085.7 1204.5,1033.7 1205.0,1060.8 1205.6,1043.7 1206.0,1012.6 1206.1,1012.6 1206.7,1066.6 1207.2,1080.9 1207.8,1030.0 1208.3,1068.3 1208.9,1031.0 1209.4,1083.9 1210.0,1049.3 1210.5,1096.3 1211.1,1079.1 1211.6,1103.7 1212.2,1078.6 1212.7,1098.0 1213.3,1099.3 1213.8,1099.0 1214.4,1087.4 1214.9,1091.7 1215.5,1077.8 1216.0,1036.7 1216.0,1036.7 1216.6,1081.5 1217.1,1100.0 1217.7,1080.1 1218.2,1103.8 1218.8,1080.6 1219.3,1103.4 1219.9,1083.3 1220.4,1103.0 1221.0,1088.1 1221.5,1103.4 1222.1,930.8 1222.2,930.8 1222.6,1094.6 1223.2,1084.5 1223.7,1012.6 1224.0,1012.6 1224.3,1083.5 1224.8,1084.8 1225.4,1083.3 1225.9,1091.6 1226.5,1080.3 1227.0,1071.7 1227.6,1084.1 1228.1,1086.9 1228.7,1087.0 1229.2,1100.3 1229.8,1075.1 1230.3,1091.9 1230.9,1086.3 1231.4,1102.4 1232.0,1073.4 1232.5,1098.0 1233.1,1075.4 1233.6,1096.5 1234.2,1077.3 1234.7,1092.5 1235.3,1070.8 1235.8,1076.0 1236.4,1080.9 1236.9,1094.9 1237.5,1087.1 1238.0,1084.3 1238.6,1092.3 1239.1,1099.5 1239.7,1073.0 1240.2,959.7 1240.4,959.7 1240.8,1075.7 1241.3,1092.2 1241.9,1078.7 1242.4,1099.0 1243.0,1028.7 1243.0,1028.7 1243.5,1073.5 1244.1,1074.5 1244.6,1081.7 1245.2,1092.5 1245.7,1082.8 1246.3,1087.5 1246.8,1101.3 1247.4,1079.1 1247.9,1090.6 1248.5,1091.4 1249.0,1083.7 1249.6,1078.0 1250.1,1076.6 1250.7,1071.7 1251.2,1087.3 1251.8,1083.2 1252.3,1073.5 1252.9,1075.3 1253.4,1099.8 1254.0,1072.8 1254.5,1085.6 1255.1,1096.5 1255.4,1043.1 1255.6,1043.1 1256.2,1106.7 1256.7,1102.7 1257.3,1096.8 1257.8,1108.2 1258.4,1096.8 1258.9,1110.1 1259.3,1051.2 1259.5,1051.2 1260.0,1108.5 1260.6,1096.0 1261.1,1108.5 1261.7,1091.1 1262.2,1089.7 1262.8,1099.6 1263.3,1090.4 1263.9,1085.3 1264.4,1100.4 1265.0,1090.4 1265.5,1095.9 1266.1,1090.6 1266.6,1098.7 1267.2,1084.4 1267.7,1094.2 1268.3,1096.6 1268.8,1110.5 1269.4,1084.1 1269.9,1107.0 1270.5,1086.3 1271.0,1109.1 1271.6,1092.2 1272.1,1106.8 1272.7,1087.3 1273.2,1086.3 1273.8,1091.2 1274.3,1101.8 1274.9,1094.4 1275.4,1109.1 1276.0,1084.0 1276.5,1110.2 1277.1,1084.1 1277.6,1098.8 1278.2,1103.2 1278.7,1088.4 1279.3,1101.8 1279.8,1101.8 1280.4,1101.1 1280.9,1083.9 1281.5,1095.4 1282.0,1089.8 1282.6,1103.8 1283.1,1098.4 1283.7,1103.4 1284.2,1110.5 1284.8,1089.9 1285.3,1084.2 1285.9,1088.0 1286.4,1090.6 1287.0,1086.4 1287.5,1103.1 1288.1,1103.0 1288.6,1103.0 1289.2,1098.8 1289.7,1103.0 1290.3,1094.3 1290.8,1103.8 1291.4,1098.4 1291.9,1097.0 1292.5,1092.9 1293.0,1004.6 1293.0,1004.6 1293.6,1102.9 1294.1,1104.1 1294.7,1090.2 1295.2,1084.7 1295.8,1090.1 1296.3,1110.1 1296.9,1095.6 1297.4,1107.5 1298.0,1087.7 1298.5,1086.5 1299.1,1083.6 1299.6,1085.9 1300.2,1077.9 1300.7,1084.0 1301.3,1077.8 1301.8,1104.1 1302.4,1085.0 1302.9,1094.6 1303.5,1081.5 1304.0,1093.9 1304.6,1082.8 1305.1,1080.4 1305.7,1096.1 1306.2,1096.8 1306.8,1077.4 1307.3,1104.1 1307.9,1095.0 1308.4,1052.8 1308.4,1052.8 1309.0,1077.4 1309.5,1104.1 1310.1,1099.3 1310.6,1085.3 1311.2,1081.5 1311.7,1096.8 1312.3,1083.4 1312.8,1088.5 1313.4,1079.6 1313.9,1104.1 1314.5,1097.0 1315.0,1086.9 1315.6,1077.2 1316.1,1085.2 1316.7,1086.7 1317.2,1101.1 1317.8,1088.1 1318.3,1104.1 1318.9,1080.2 1319.4,1102.3 1320.0,1083.3 1320.5,1096.6 1321.1,1088.3 1321.6,1091.7 1322.2,1085.7 1322.7,1102.6 1323.3,1019.1 1323.5,1019.1 1323.8,1103.3 1324.4,1093.6 1324.9,1102.4 1325.5,1085.3 1326.0,1087.4 1326.6,1088.4 1327.1,1102.6 1327.7,1082.1 1328.2,1102.3 1328.8,1084.4 1329.3,1102.4 1329.9,1014.3 1330.0,1014.3 1330.4,1103.2 1331.0,1091.0 1331.5,1101.7 1332.1,1088.5 1332.6,1089.7 1333.2,1081.7 1333.7,1087.1 1334.2,1052.8 1334.3,1052.8 1334.8,1104.0 1335.4,1080.3 1335.9,1102.5 1336.5,1091.4 1337.0,1099.5 1337.6,1077.0 1338.1,1100.4 1338.7,1087.8 1339.2,1081.5 1339.8,1077.0 1340.3,1100.0 1340.9,1094.1 1341.4,1087.1 1342.0,1080.0 1342.5,1101.0 1343.1,1079.9 1343.6,1100.2 1344.2,1089.5 1344.7,1094.5 1345.3,1080.6 1345.8,1098.0 1346.4,1079.5 1346.9,1104.1 1347.5,1084.9 1348.0,1100.2 1348.6,1097.2 1349.1,1081.3 1349.7,1093.8 1350.2,1103.0 1350.8,1078.6 1351.3,1079.0 1351.7,1072.0 1351.9,1072.0 1352.4,1100.9 1353.0,1077.8 1353.5,1103.6 1354.1,1081.1 1354.6,1079.7 1355.2,1092.2 1355.7,1103.6 1356.3,1081.7 1356.8,1082.9 1357.4,1080.9 1357.9,1079.5 1358.5,1085.8 1359.0,1100.4 1359.6,1094.7 1360.1,1102.1 1360.6,1068.8 1360.7,1068.8 1361.2,1104.0 1361.8,1092.4 1362.3,1100.8 1362.9,1098.1 1363.4,1101.6 1364.0,1092.5 1364.5,1103.7 1365.1,1084.3 1365.6,1096.2 1366.2,1066.3 1366.7,1073.5 1367.2,996.6 1367.3,996.6 1367.8,1060.3 1368.4,1085.8 1368.9,1095.6 1369.5,1086.2 1370.0,1044.8 1370.0,1044.8 1370.6,1061.3 1371.1,1062.1 1371.7,1068.1 1372.2,1096.6 1372.8,1073.7 1373.3,1084.2 1373.9,1075.1 1374.4,1071.5 1375.0,1056.6 1375.5,1088.9 1376.1,1065.3 1376.6,1067.8 1377.0,1028.7 1377.2,1028.7 1377.7,1096.2 1378.3,1057.2 1378.8,1057.8 1379.4,1091.2 1379.9,1073.4 1380.5,1071.3 1381.0,1097.6 1381.6,1080.9 1382.1,1096.5 1382.7,1061.9 1383.2,1095.8 1383.8,1091.9 1384.3,1095.7 1384.9,1060.4 1385.4,1087.3 1385.8,1035.1 1386.0,1035.1 1386.5,1088.7 1387.1,1079.9 1387.6,1097.7 1388.2,1074.7 1388.7,1097.6 1389.3,1076.4 1389.8,1041.5 1390.0,1041.5 1390.4,1072.4 1390.9,1088.4 1391.5,1064.8 1392.0,1093.5 1392.6,1072.8 1393.1,1065.1 1393.7,1065.9 1394.2,1090.5 1394.8,1038.3 1395.0,1038.3 1395.3,1088.9 1395.9,1073.7 1396.4,1062.9 1397.0,1077.6 1397.5,1061.2 1398.1,1059.2 1398.6,1065.3 1399.2,1080.9 1399.7,1044.8 1400.0,1044.8 1400.3,1056.3 1400.8,1094.2 1401.4,1080.5 1401.9,1075.9 1402.5,1077.5 1403.0,1083.5 1403.6,1081.1 1404.1,1060.3 1404.7,1075.5 1405.2,1097.3 1405.8,1063.1 1406.3,1092.7 1406.9,1066.5 1407.4,1087.4 1408.0,1057.6 1408.5,1086.7 1409.1,1072.0 1409.6,1097.7 1410.2,1068.3 1410.7,1094.7 1411.3,1066.1 1411.8,1081.1 1412.4,934.0 1412.6,934.0 1412.9,1097.4 1413.5,1068.3 1414.0,1088.0 1414.6,1064.3 1415.1,1058.4 1415.7,1075.6 1416.0,1020.7 1416.2,1020.7 1416.8,1085.6 1417.3,1071.0 1417.9,1077.5 1418.4,1069.0 1419.0,1060.4 1419.5,1095.0 1420.1,1058.1 1420.6,1087.1 1421.2,1070.5 1421.7,1084.9 1422.3,1057.1 1422.8,1087.7 1423.4,1068.7 1423.9,1094.2 1424.5,1059.4 1425.0,1087.2 1425.6,1073.3 1426.1,1096.1 1426.7,1078.4 1427.2,1068.7 1427.8,1060.3 1428.3,1057.7 1428.9,1057.8 1429.4,1078.1 1430.0,1060.5 1430.5,1076.6 1431.1,1060.2 1431.6,1031.9 1431.6,1031.9 1432.2,1080.2 1432.7,1070.0 1433.3,1074.7 1433.8,1095.2" fill="none" stroke="url(#pvg)" stroke-width="1.8" stroke-linejoin="round"/>
</svg>
<svg class="abs" style="left:815px;top:432px" width="633" height="428" viewBox="815 432 633 428">
<defs><clipPath id="mc"><rect x="815" y="432" width="633" height="428"/></clipPath><filter id="halo" x="-20%" y="-20%" width="140%" height="140%"><feMorphology operator="dilate" radius="1.2" in="SourceAlpha" result="d"/><feFlood flood-color="#ffffff" flood-opacity="0.85"/><feComposite in2="d" operator="in" result="h"/><feMerge><feMergeNode in="h"/><feMergeNode in="SourceGraphic"/></feMerge></filter></defs>
<g clip-path="url(#mc)">
<rect x="815" y="432" width="633" height="428" fill="#d4d4d4"/>
<polygon points="815,432 1448,432 1448,470 1440,490 1425,515 1410,530 1395,545 1372,552 1350,560 1335,572 1322,584 1312,594 1300,600 1290,606 1284,614 1278,621 1266,624 1258,630 1249,640 1241,652 1236,660 1235,665 1234,677.5 1231,687.5 1226,695 1217.5,702.5 1210,710 1203.7,716 1198.7,725 1196,737.5 1196,750 1200,766 1199,780 1193,787 1187,777 1183,765 1179,753 1171,744 1160,741 1146,741 1131,743 1118,748 1110,745 1096,747 1080,746 1066,750 1060,760 1058,772 1059,782 1056,795 1053,815 1053,835 1056,860 1022,860 1015,850 1005,836 995,820 985,806 971,790 955,772 937,752 920,736 924,748 932,765 944,785 954,800 962,812 957,814 946,800 936,783 926,766 918,750 908,732 896,719 882,703 870,694 860,684 852,667 844,645 840,625 838,600 834,575 826,555 818,540 815,530" fill="#e0e0e0"/>
<linearGradient id="usg" gradientUnits="userSpaceOnUse" x1="1060" y1="0" x2="1140" y2="0"><stop offset="0" stop-color="#e4e4e4"/><stop offset="1" stop-color="#dbdbdb"/></linearGradient>
<polygon points="866,542 1088,542 1092,547 1123,551 1151,558 1163,571 1191,606 1211,598 1242,590 1266,578 1282,569 1289,561 1297,563 1300,567 1300,585 1307,593 1300,600 1290,606 1284,614 1278,621 1266,624 1258,630 1249,640 1241,652 1236,660 1235,665 1234,677.5 1231,687.5 1226,695 1217.5,702.5 1210,710 1203.7,716 1198.7,725 1196,737.5 1196,750 1200,766 1199,780 1193,787 1187,777 1183,765 1179,753 1171,744 1160,741 1146,741 1131,743 1118,748 1110,745 1096,747 1080,746 1066,750 1060,760 1058,772 1060.8,782 1046.7,777 1042.6,769 1034.6,753 1022.5,747 1016.4,749 1011.4,754 1004.4,749 996.3,739 986.2,728 972.1,728 971.1,732 943.9,732 919.8,722 917.7,719.3 898.6,720.3 882,703 870,694 860,684 852,667 844,645 840,625 838,600 837,580 845,560 850,542" fill="url(#usg)"/>
<polygon points="917,735 930,748 945,768 958,788 968,806 962,812 954,800 944,785 932,765 924,748" fill="#d6d6d6"/>
<path d="M1160,815 Q1175,808 1192,810 Q1215,815 1240,825 Q1255,830 1266,836 L1262,839 Q1245,834 1225,828 Q1200,820 1180,818 Q1168,818 1160,818 Z" fill="#e2e2e2"/>
<path d="M1300,838 L1318,838 L1318,842 L1300,842 Z" fill="#e2e2e2"/>
<path d="M1100,860 Q1110,848 1125,846 Q1140,848 1150,860 Z" fill="#dedede"/>
<polygon points="815,432 1448,432 1448,470 1440,490 1425,515 1410,530 1395,545 1372,552 1350,560 1335,572 1322,584 1312,594 1307,593 1300,585 1300,567 1297,563 1289,561 1282,569 1266,578 1242,590 1211,598 1191,606 1163,571 1151,558 1123,551 1092,547 1088,542 866,542 845,542 830,548 818,540 815,530" fill="#dadada"/>
<polygon points="1217.3,529.0 1206.9,530.2 1201.2,535.6 1190.2,530.0 1193.8,525.6 1200.1,520.8 1208.4,524.3" fill="#e1e1e1" opacity="0.9"/>
<polygon points="958.7,468.5 954.3,471.8 948.1,472.1 938.7,474.0 941.9,466.4 951.5,458.6 959.3,459.4" fill="#e1e1e1" opacity="0.9"/>
<polygon points="1159.1,519.9 1155.3,523.3 1151.4,521.9 1148.6,520.2 1147.0,518.2 1151.5,516.8 1155.8,516.6" fill="#e1e1e1" opacity="0.9"/>
<polygon points="1017.0,536.2 1011.4,539.2 1006.4,539.2 998.0,538.7 998.1,535.8 1006.0,531.8 1010.6,534.1" fill="#e1e1e1" opacity="0.9"/>
<polygon points="947.9,530.3 946.4,533.9 934.9,532.9 923.1,531.3 932.3,526.3 938.2,524.4 945.1,522.3" fill="#e1e1e1" opacity="0.9"/>
<polygon points="1398.8,475.7 1394.8,479.0 1389.0,480.2 1372.2,478.8 1381.9,474.5 1389.6,468.4 1394.1,471.2" fill="#e1e1e1" opacity="0.9"/>
<polygon points="1191.2,537.6 1188.2,540.3 1183.8,543.8 1178.3,541.3 1179.2,534.3 1186.0,534.7 1189.6,535.2" fill="#e1e1e1" opacity="0.9"/>
<polygon points="1353.4,471.6 1346.0,473.9 1340.8,475.3 1337.0,471.4 1337.8,468.5 1339.4,463.2 1350.5,466.7" fill="#e1e1e1" opacity="0.9"/>
<polygon points="1133.7,474.8 1129.1,477.7 1124.5,478.8 1121.3,476.5 1123.2,473.8 1126.6,472.9 1131.2,472.3" fill="#e1e1e1" opacity="0.9"/>
<polygon points="1259.9,470.3 1257.3,473.8 1245.7,477.7 1232.7,473.7 1233.4,465.1 1242.5,462.1 1258.4,463.4" fill="#e1e1e1" opacity="0.9"/>
<polygon points="1050.4,541.0 1038.4,546.1 1031.8,544.4 1018.0,542.2 1021.4,536.6 1032.5,531.9 1040.5,532.5" fill="#e1e1e1" opacity="0.9"/>
<polygon points="1188.0,517.6 1183.4,521.8 1178.4,520.4 1170.0,519.6 1169.0,515.7 1177.3,514.5 1181.7,514.5" fill="#e1e1e1" opacity="0.9"/>
<polygon points="853.9,448.5 854.5,451.4 847.6,453.6 843.8,450.3 845.8,447.7 847.2,445.9 851.6,446.9" fill="#e1e1e1" opacity="0.9"/>
<polygon points="1337.7,480.0 1337.1,481.8 1332.7,483.7 1330.2,480.5 1330.1,478.0 1333.6,478.0 1338.1,477.6" fill="#e1e1e1" opacity="0.9"/>
<polygon points="1202.7,475.7 1203.1,483.0 1195.3,484.5 1185.1,478.2 1187.2,474.9 1189.6,467.9 1204.9,469.0" fill="#e1e1e1" opacity="0.9"/>
<polygon points="1392.5,509.4 1389.8,510.7 1382.8,511.6 1380.6,510.3 1378.8,507.3 1384.7,505.2 1392.6,504.9" fill="#e1e1e1" opacity="0.9"/>
<polygon points="831.5,501.4 827.2,502.3 823.1,505.8 816.9,502.5 816.2,498.3 821.9,495.5 826.9,495.8" fill="#e1e1e1" opacity="0.9"/>
<polygon points="1010.4,499.8 1007.0,503.1 1000.0,504.5 998.7,502.4 993.7,497.9 1003.0,495.9 1006.4,495.4" fill="#e1e1e1" opacity="0.9"/>
<polygon points="1092.5,506.1 1086.2,510.5 1080.2,513.4 1075.5,508.5 1077.3,503.5 1082.1,498.7 1087.3,501.8" fill="#e1e1e1" opacity="0.9"/>
<polygon points="911.8,493.2 911.7,496.8 902.0,496.1 894.6,497.1 895.7,489.8 898.9,487.8 915.0,488.9" fill="#e1e1e1" opacity="0.9"/>
<polygon points="1266.0,437.0 1258.6,445.4 1253.2,443.6 1245.6,439.1 1244.1,435.3 1248.0,431.7 1256.1,434.4" fill="#e1e1e1" opacity="0.9"/>
<polygon points="1058.2,441.4 1053.5,443.0 1051.2,443.6 1047.3,442.3 1048.6,439.5 1049.2,438.2 1054.5,438.3" fill="#e1e1e1" opacity="0.9"/>
<polygon points="1167.0,511.6 1165.2,514.9 1161.8,514.4 1154.7,513.8 1154.0,510.3 1161.3,509.1 1164.8,509.7" fill="#e1e1e1" opacity="0.9"/>
<polygon points="899.3,508.9 898.8,511.4 893.5,512.5 889.6,509.7 887.3,505.2 891.4,505.8 899.2,505.5" fill="#e1e1e1" opacity="0.9"/>
<polygon points="1335.2,449.5 1335.3,454.3 1326.7,454.8 1318.0,454.3 1317.3,446.3 1324.5,442.9 1334.5,445.2" fill="#e1e1e1" opacity="0.9"/>
<polygon points="1177.7,526.1 1176.7,528.5 1169.9,530.7 1169.2,527.4 1163.7,524.2 1172.2,522.6 1176.3,524.5" fill="#e1e1e1" opacity="0.9"/>
<polygon points="921.9,452.0 916.3,454.5 911.2,455.4 906.8,454.2 907.7,451.3 911.9,448.5 918.9,449.3" fill="#e1e1e1" opacity="0.9"/>
<polygon points="1249.9,490.5 1246.3,498.0 1233.1,496.9 1230.5,494.7 1228.9,491.2 1231.2,482.8 1241.8,487.6" fill="#e1e1e1" opacity="0.9"/>
<polygon points="1114.8,468.8 1116.5,472.9 1101.9,474.3 1094.2,472.3 1101.3,467.7 1107.0,462.7 1111.8,462.5" fill="#e1e1e1" opacity="0.9"/>
<polygon points="1038.8,444.7 1035.0,445.6 1033.5,445.8 1031.0,444.9 1029.2,443.2 1032.7,442.4 1036.6,440.1" fill="#e1e1e1" opacity="0.9"/>
<polygon points="932.0,497.2 930.7,499.2 924.4,503.1 917.5,499.4 922.9,496.4 925.6,492.7 931.7,494.1" fill="#e1e1e1" opacity="0.9"/>
<polygon points="1217.1,524.1 1209.8,529.4 1205.7,530.6 1194.2,530.4 1197.7,521.5 1202.5,521.0 1209.4,521.2" fill="#e1e1e1" opacity="0.9"/>
<polygon points="1090.4,504.7 1086.8,507.5 1082.3,509.2 1078.2,508.1 1075.2,504.3 1081.2,500.8 1088.6,502.5" fill="#e1e1e1" opacity="0.9"/>
<polygon points="1190.0,489.4 1181.0,495.1 1173.0,496.8 1167.7,490.7 1166.5,487.8 1169.5,481.7 1177.7,485.3" fill="#e1e1e1" opacity="0.9"/>
<polygon points="1295.5,502.8 1296.8,506.0 1289.8,506.0 1288.7,504.8 1288.5,502.5 1289.8,500.7 1296.8,501.2" fill="#e1e1e1" opacity="0.9"/>
<polygon points="880.2,500.3 877.6,503.9 874.6,502.7 868.9,500.5 869.3,498.6 874.0,495.1 880.0,496.1" fill="#e1e1e1" opacity="0.9"/>
<polygon points="1326.7,486.2 1326.8,488.0 1321.9,488.0 1320.6,487.0 1318.8,484.9 1322.0,482.3 1326.1,483.5" fill="#e1e1e1" opacity="0.9"/>
<polygon points="1346.6,540.6 1344.5,545.6 1340.5,544.6 1331.2,545.0 1334.7,538.2 1339.8,536.2 1349.2,535.6" fill="#e1e1e1" opacity="0.9"/>
<polygon points="1211.9,533.2 1207.6,537.0 1203.4,538.1 1199.7,536.9 1197.5,532.9 1203.7,530.5 1212.5,531.2" fill="#e1e1e1" opacity="0.9"/>
<polygon points="1405.2,520.8 1399.9,525.2 1389.1,526.2 1387.3,522.6 1383.9,519.7 1390.3,513.7 1398.4,517.4" fill="#e1e1e1" opacity="0.9"/>
<polygon points="1408.1,465.3 1403.7,474.2 1390.3,473.4 1383.5,468.9 1389.1,465.0 1392.7,459.2 1403.1,459.7" fill="#e1e1e1" opacity="0.9"/>
<polygon points="1158.3,482.2 1158.5,485.4 1152.7,485.0 1152.4,483.2 1150.9,480.9 1154.6,480.0 1157.7,481.1" fill="#e1e1e1" opacity="0.9"/>
<polygon points="1012.5,467.2 1012.7,471.9 1005.6,469.6 994.5,469.1 996.9,462.1 1003.6,461.3 1014.4,460.4" fill="#e1e1e1" opacity="0.9"/>
<polygon points="1010.5,469.0 1009.0,470.0 1001.3,473.7 998.5,470.3 994.5,465.0 1002.7,461.4 1007.7,463.0" fill="#e1e1e1" opacity="0.9"/>
<polygon points="1021.2,541.9 1020.8,547.1 1012.7,544.3 1008.6,543.1 1007.4,540.1 1013.1,537.3 1022.8,536.2" fill="#e1e1e1" opacity="0.9"/>
<polygon points="1339.5,537.0 1333.6,541.9 1325.3,538.7 1319.5,537.7 1315.9,532.8 1323.8,527.7 1329.1,529.9" fill="#e1e1e1" opacity="0.9"/>
<polygon points="1159.6,480.2 1157.6,482.7 1150.9,483.9 1149.4,482.6 1150.9,478.6 1152.3,477.2 1158.4,476.8" fill="#e1e1e1" opacity="0.9"/>
<polygon points="1397.2,480.9 1392.6,484.6 1388.4,484.3 1382.1,481.9 1382.6,480.2 1386.0,476.7 1391.2,478.0" fill="#e1e1e1" opacity="0.9"/>
<polygon points="886.3,493.3 878.2,497.3 872.8,502.3 863.5,499.2 868.4,491.7 870.6,486.7 882.3,487.1" fill="#e1e1e1" opacity="0.9"/>
<polygon points="860.4,459.7 856.2,463.4 841.2,467.3 841.5,461.8 833.7,456.6 844.7,452.5 859.4,455.0" fill="#e1e1e1" opacity="0.9"/>
<polygon points="839.9,531.8 832.8,534.2 825.0,535.4 824.6,531.2 823.9,528.1 830.6,523.9 833.5,526.8" fill="#e1e1e1" opacity="0.9"/>
<polygon points="988.9,492.4 989.4,494.6 984.5,495.7 975.2,493.3 980.6,491.6 984.0,486.5 987.4,490.2" fill="#e1e1e1" opacity="0.9"/>
<polygon points="1405.8,435.9 1403.7,438.7 1399.4,438.2 1393.0,438.1 1397.7,434.8 1397.9,432.4 1404.0,433.4" fill="#e1e1e1" opacity="0.9"/>
<polygon points="1126.6,505.3 1123.0,511.5 1110.6,510.9 1100.3,510.2 1098.2,505.1 1110.2,499.6 1124.2,499.8" fill="#e1e1e1" opacity="0.9"/>
<polygon points="854.3,495.9 853.3,497.4 849.0,499.2 845.8,496.5 844.8,494.6 850.3,492.1 853.4,494.8" fill="#e1e1e1" opacity="0.9"/>
<polygon points="872.9,489.5 866.9,493.9 859.9,497.0 856.2,492.7 853.3,486.7 859.4,484.1 866.0,486.0" fill="#e1e1e1" opacity="0.9"/>
<polygon points="1038.6,449.6 1036.1,458.0 1027.5,459.6 1018.4,452.7 1020.5,447.7 1022.8,441.5 1038.9,442.6" fill="#e1e1e1" opacity="0.9"/>
<polygon points="930.8,450.0 928.0,450.5 923.5,452.2 922.7,450.0 922.7,448.7 925.1,446.4 928.1,448.0" fill="#e1e1e1" opacity="0.9"/>
<polygon points="1411.4,446.4 1412.1,447.9 1406.0,450.0 1405.2,446.8 1402.3,444.2 1405.4,443.0 1410.3,444.1" fill="#e1e1e1" opacity="0.9"/>
<polygon points="824.2,530.2 821.0,531.4 814.9,536.1 811.5,530.9 810.9,528.0 813.3,523.7 820.2,526.5" fill="#e1e1e1" opacity="0.9"/>
<polygon points="912.6,494.7 904.6,498.5 900.9,500.6 889.1,498.2 891.4,491.8 898.3,487.8 908.1,491.8" fill="#e1e1e1" opacity="0.9"/>
<polygon points="888.1,466.0 887.1,469.2 880.1,467.6 876.3,466.2 874.2,464.2 882.2,460.6 886.6,459.5" fill="#e1e1e1" opacity="0.9"/>
<polygon points="1064.6,512.7 1059.7,516.2 1055.5,520.6 1042.8,517.3 1046.6,512.5 1049.1,505.8 1065.8,508.1" fill="#e1e1e1" opacity="0.9"/>
<polygon points="1079.0,461.0 1078.9,462.7 1071.9,464.4 1072.3,461.8 1072.5,459.9 1074.5,459.3 1079.2,459.3" fill="#e1e1e1" opacity="0.9"/>
<polygon points="1096.6,468.2 1095.3,470.3 1084.7,471.0 1076.7,469.4 1077.5,464.6 1087.2,463.4 1093.4,460.2" fill="#e1e1e1" opacity="0.9"/>
<polygon points="1118.3,489.0 1116.8,494.6 1105.3,495.4 1093.6,490.9 1097.7,487.6 1104.7,480.5 1113.6,479.7" fill="#e1e1e1" opacity="0.9"/>
<polygon points="904.3,453.4 900.0,455.4 897.2,455.3 894.6,454.4 895.4,452.8 898.0,451.5 901.7,451.7" fill="#e1e1e1" opacity="0.9"/>
<polygon points="1196.4,515.3 1190.1,516.7 1182.3,516.7 1177.9,516.0 1180.6,511.6 1183.4,507.8 1188.2,512.0" fill="#e1e1e1" opacity="0.9"/>
<polygon points="1415.4,472.6 1410.8,478.8 1403.0,479.9 1392.4,475.4 1392.1,467.9 1400.0,466.0 1410.1,464.2" fill="#e1e1e1" opacity="0.9"/>
<polygon points="1302.1,539.2 1300.0,540.4 1294.0,542.4 1291.9,541.2 1293.4,537.8 1296.7,537.0 1298.6,537.8" fill="#e1e1e1" opacity="0.9"/>
<polygon points="1235.4,506.4 1234.6,511.6 1223.7,513.0 1215.7,508.1 1220.0,504.5 1220.4,499.0 1228.2,503.2" fill="#e1e1e1" opacity="0.9"/>
<polygon points="829.2,530.0 826.6,532.8 823.3,531.8 817.5,531.1 817.9,528.0 823.0,526.4 828.7,527.9" fill="#e1e1e1" opacity="0.9"/>
<polygon points="1436.7,457.6 1435.7,459.1 1433.3,459.4 1429.7,458.9 1429.6,456.3 1430.5,454.0 1438.2,455.7" fill="#e1e1e1" opacity="0.9"/>
<polygon points="955.3,483.4 957.3,488.0 947.0,489.4 941.0,485.5 941.7,479.5 950.3,479.2 957.2,479.7" fill="#e1e1e1" opacity="0.9"/>
<polygon points="1373.5,522.6 1373.7,527.1 1364.5,526.5 1356.9,525.9 1361.9,522.3 1365.6,519.3 1369.6,519.9" fill="#e1e1e1" opacity="0.9"/>
<polygon points="823.6,450.5 826.1,456.3 816.5,454.6 814.4,451.6 815.0,450.5 815.2,446.6 825.1,448.0" fill="#e1e1e1" opacity="0.9"/>
<polygon points="1329.5,490.2 1325.7,493.9 1314.2,498.5 1309.1,493.0 1311.2,487.3 1315.3,484.7 1326.2,484.4" fill="#e1e1e1" opacity="0.9"/>
<polygon points="876.3,525.3 874.2,526.3 872.9,525.8 873.1,525.1 874.9,524.2" fill="#f4f4f4"/>
<polygon points="870.4,494.1 869.2,496.0 864.9,495.6 865.2,493.1 869.6,492.9" fill="#f0f0f0"/>
<polygon points="1398.5,469.3 1397.5,469.8 1396.1,469.9 1396.4,469.1 1397.4,468.9" fill="#f4f4f4"/>
<polygon points="1422.4,521.8 1419.7,523.1 1415.9,522.3 1417.1,521.0 1419.8,519.6" fill="#ececec"/>
<polygon points="1226.7,510.7 1226.3,512.0 1224.4,511.3 1224.1,510.0 1225.7,509.8" fill="#f4f4f4"/>
<polygon points="1007.1,504.8 1005.9,505.7 1004.3,505.5 1004.0,504.2 1006.3,503.3" fill="#f4f4f4"/>
<polygon points="1251.4,497.6 1248.7,498.4 1246.7,498.1 1247.1,496.6 1249.7,496.1" fill="#ececec"/>
<polygon points="1440.5,448.8 1438.9,449.6 1435.4,449.9 1436.5,448.1 1439.0,447.4" fill="#f4f4f4"/>
<polygon points="1052.9,456.8 1051.5,457.7 1050.8,457.2 1050.7,456.5 1051.6,456.2" fill="#f0f0f0"/>
<polygon points="844.3,495.9 844.4,497.0 842.4,496.2 842.7,495.7 843.5,495.3" fill="#f4f4f4"/>
<polygon points="1011.4,463.5 1010.1,464.5 1008.7,464.0 1009.2,463.5 1010.0,463.3" fill="#f0f0f0"/>
<polygon points="1340.1,530.1 1339.3,531.5 1337.6,530.5 1338.1,529.7 1339.6,529.0" fill="#f0f0f0"/>
<polygon points="1101.9,447.3 1101.0,448.0 1099.8,447.7 1100.3,447.1 1101.2,446.9" fill="#f4f4f4"/>
<polygon points="952.2,539.6 950.1,540.5 947.6,540.1 948.2,539.3 950.3,538.3" fill="#f0f0f0"/>
<polygon points="991.9,525.6 991.5,526.4 989.9,525.9 990.1,524.9 991.4,525.1" fill="#f0f0f0"/>
<polygon points="1186.2,534.6 1184.5,536.2 1182.4,534.7 1182.1,534.2 1183.9,532.8" fill="#ececec"/>
<polygon points="990.9,492.3 990.2,493.4 988.5,492.8 988.7,491.7 990.0,491.3" fill="#f0f0f0"/>
<polygon points="940.2,523.9 939.3,524.4 938.3,524.2 937.4,523.0 939.7,523.1" fill="#ececec"/>
<polygon points="861.0,482.4 857.1,484.9 854.4,484.5 854.3,481.6 857.5,480.5" fill="#ececec"/>
<polygon points="1023.7,519.7 1022.3,520.9 1020.1,520.1 1020.9,519.1 1022.5,518.6" fill="#f0f0f0"/>
<polygon points="1079.0,493.0 1076.5,494.8 1073.9,494.0 1072.8,492.5 1075.9,492.3" fill="#f0f0f0"/>
<polygon points="1303.4,515.7 1301.8,516.4 1298.7,516.2 1299.1,514.3 1301.3,514.8" fill="#ececec"/>
<polygon points="1092.1,455.3 1091.3,456.4 1089.5,456.0 1089.9,455.3 1090.8,454.8" fill="#f4f4f4"/>
<polygon points="1374.9,473.4 1373.5,474.4 1371.9,474.0 1372.3,472.5 1374.5,472.1" fill="#f0f0f0"/>
<polygon points="1171.7,546.7 1170.6,547.3 1169.4,547.3 1168.2,546.1 1171.1,545.9" fill="#f0f0f0"/>
<polygon points="1437.8,445.2 1435.9,446.0 1433.2,446.1 1434.1,445.0 1435.9,443.7" fill="#f0f0f0"/>
<polygon points="1081.8,432.7 1080.5,433.5 1079.4,432.9 1078.5,431.7 1080.7,431.9" fill="#f4f4f4"/>
<polygon points="1357.2,467.7 1356.9,468.8 1355.1,467.8 1355.3,467.2 1356.9,467.0" fill="#f4f4f4"/>
<polygon points="1205.7,499.2 1203.9,499.9 1202.4,499.7 1202.2,498.6 1204.1,498.0" fill="#f0f0f0"/>
<polygon points="978.2,460.9 977.4,462.6 974.4,461.9 974.8,460.3 977.0,460.4" fill="#f0f0f0"/>
<polygon points="848.5,486.6 847.3,487.3 845.0,487.1 843.6,485.3 847.9,485.2" fill="#f0f0f0"/>
<polygon points="1094.5,452.6 1093.8,453.6 1091.7,453.3 1091.1,452.0 1093.2,451.9" fill="#f4f4f4"/>
<polygon points="1226.7,548.0 1225.4,549.2 1223.1,549.3 1223.2,547.8 1225.6,546.5" fill="#f4f4f4"/>
<polygon points="929.5,523.1 928.4,525.4 925.6,524.3 925.7,521.8 928.2,520.9" fill="#ececec"/>
<polygon points="953.5,446.6 952.5,446.9 951.3,446.9 951.6,446.2 952.9,445.7" fill="#f0f0f0"/>
<polygon points="1290.1,474.0 1288.9,474.4 1287.5,474.5 1288.0,473.7 1288.6,473.4" fill="#ececec"/>
<polygon points="1399.1,511.8 1397.5,512.6 1395.8,512.1 1395.2,510.9 1396.8,510.9" fill="#f0f0f0"/>
<polygon points="1359.4,503.9 1357.0,505.1 1352.5,504.6 1352.5,502.0 1356.2,501.7" fill="#f0f0f0"/>
<polygon points="1197.2,523.0 1196.6,523.7 1195.5,523.2 1194.7,522.4 1196.7,522.3" fill="#f4f4f4"/>
<polygon points="1301.4,462.4 1301.1,463.4 1298.4,462.8 1298.4,461.8 1300.6,461.5" fill="#f4f4f4"/>
<polygon points="1050.2,528.9 1048.1,530.7 1045.4,530.0 1046.2,528.8 1047.5,527.8" fill="#ececec"/>
<polygon points="992.1,512.0 991.9,513.1 988.9,513.4 989.7,511.7 991.4,511.4" fill="#f4f4f4"/>
<polygon points="1312.5,507.0 1310.1,509.0 1307.3,508.2 1306.4,506.2 1310.7,505.7" fill="#ececec"/>
<polygon points="828.1,449.9 828.1,451.4 823.2,451.2 824.2,448.9 827.0,448.4" fill="#f0f0f0"/>
<polygon points="1021.4,477.1 1019.2,477.7 1016.3,478.0 1017.9,476.2 1020.3,475.7" fill="#f0f0f0"/>
<polygon points="1022.0,517.4 1020.7,517.8 1018.9,517.4 1019.1,516.4 1020.5,515.2" fill="#ececec"/>
<polygon points="1089.4,539.0 1088.2,539.6 1086.0,539.7 1087.3,538.7 1088.7,537.8" fill="#ececec"/>
<polygon points="954.5,510.1 954.1,511.7 951.5,510.8 950.6,509.4 953.1,509.1" fill="#f4f4f4"/>
<polygon points="924.2,535.3 924.1,535.6 922.4,535.5 922.5,534.8 924.2,534.7" fill="#f0f0f0"/>
<polygon points="1197.1,541.5 1196.0,543.2 1194.1,542.2 1192.8,540.6 1196.1,540.6" fill="#f0f0f0"/>
<polygon points="1427.6,454.7 1427.0,455.5 1425.4,455.2 1425.6,454.4 1426.9,454.0" fill="#f0f0f0"/>
<polygon points="980.3,475.8 979.2,476.7 977.4,476.1 977.7,475.6 978.8,475.4" fill="#ececec"/>
<polygon points="1411.4,502.7 1407.5,504.7 1405.9,503.2 1405.3,501.3 1407.3,500.7" fill="#f0f0f0"/>
<polygon points="1228.6,542.7 1228.5,544.6 1224.4,543.7 1224.2,542.2 1227.7,542.2" fill="#ececec"/>
<polygon points="1077.8,479.1 1076.0,481.1 1073.6,480.1 1073.4,478.3 1076.7,478.4" fill="#ececec"/>
<polygon points="1059.1,530.6 1058.1,531.3 1057.0,530.9 1056.5,530.1 1058.2,530.0" fill="#ececec"/>
<polygon points="1332.8,503.3 1332.2,503.9 1330.8,503.7 1330.3,503.1 1331.9,502.4" fill="#f4f4f4"/>
<polygon points="1195.4,465.6 1193.9,466.1 1191.1,465.7 1190.3,464.5 1193.8,464.6" fill="#f4f4f4"/>
<polygon points="1046.4,538.8 1046.0,540.2 1044.0,539.4 1044.1,538.4 1045.5,537.6" fill="#f0f0f0"/>
<polygon points="1246.9,513.2 1246.1,514.4 1243.6,513.4 1242.8,512.1 1244.6,511.6" fill="#f0f0f0"/>
<polygon points="1217.4,474.2 1216.5,474.8 1214.7,474.7 1215.1,473.6 1216.4,473.3" fill="#f4f4f4"/>
<polygon points="978.1,512.7 977.2,513.0 975.2,512.9 975.8,511.9 977.1,511.5" fill="#f0f0f0"/>
<polygon points="1278.7,479.7 1277.5,480.3 1275.3,480.2 1275.4,478.9 1277.1,479.1" fill="#ececec"/>
<polygon points="976.8,540.0 974.9,540.9 971.2,541.0 970.8,538.9 975.2,538.9" fill="#f4f4f4"/>
<polygon points="1395.5,495.8 1394.3,496.8 1393.5,496.2 1393.2,495.5 1394.2,495.5" fill="#f4f4f4"/>
<polygon points="1270.6,486.9 1269.5,488.0 1266.4,487.5 1266.6,486.5 1269.5,486.2" fill="#f4f4f4"/>
<polygon points="1404.9,441.0 1403.6,442.7 1400.2,441.9 1400.2,440.3 1403.1,440.2" fill="#ececec"/>
<polygon points="1179.0,460.8 1175.9,462.2 1173.4,461.8 1173.3,460.1 1177.7,459.3" fill="#ececec"/>
<polygon points="850.0,449.2 847.0,449.9 845.8,449.8 845.7,448.3 847.8,448.2" fill="#ececec"/>
<polygon points="1348.1,463.3 1347.7,464.0 1346.3,463.7 1346.0,462.8 1348.2,462.2" fill="#f4f4f4"/>
<polygon points="873.8,536.7 872.4,538.4 869.9,537.9 869.4,535.7 871.7,536.0" fill="#f0f0f0"/>
<polygon points="1367.7,442.4 1367.7,442.9 1366.3,442.8 1366.2,442.1 1367.4,441.7" fill="#ececec"/>
<polygon points="1274.2,444.6 1273.2,445.4 1271.7,445.2 1272.1,444.3 1273.7,443.6" fill="#ececec"/>
<polygon points="1404.3,439.7 1404.0,441.8 1400.0,441.0 1399.8,438.7 1402.6,438.2" fill="#f4f4f4"/>
<polygon points="1342.4,495.1 1342.4,496.2 1339.1,495.7 1339.7,493.8 1342.1,493.6" fill="#f4f4f4"/>
<polygon points="1152.0,486.6 1151.4,487.1 1150.4,486.7 1150.2,486.2 1151.4,485.6" fill="#f0f0f0"/>
<polygon points="1306.2,524.6 1304.6,525.8 1302.2,525.2 1301.7,523.5 1304.2,524.1" fill="#f0f0f0"/>
<polygon points="893.1,453.0 891.7,453.8 888.5,453.8 888.6,451.8 891.6,452.0" fill="#f4f4f4"/>
<polygon points="863.3,441.6 861.0,443.6 857.9,442.2 856.7,440.1 861.4,440.5" fill="#ececec"/>
<polygon points="1219.6,475.8 1217.4,477.4 1214.7,477.4 1214.9,474.7 1217.2,474.4" fill="#f0f0f0"/>
<polygon points="951.4,437.8 949.8,438.2 948.7,438.5 948.8,437.5 949.8,437.4" fill="#f4f4f4"/>
<polygon points="1004.1,522.7 1001.8,524.3 1000.3,523.9 1000.1,522.0 1003.2,521.0" fill="#f4f4f4"/>
<polygon points="1354.8,497.5 1353.6,498.1 1352.3,498.0 1351.8,497.1 1354.0,496.6" fill="#f0f0f0"/>
<polygon points="1322.4,456.5 1320.0,457.9 1317.3,457.4 1317.3,455.2 1320.6,455.3" fill="#f4f4f4"/>
<polygon points="1244.4,486.1 1242.8,487.5 1240.6,486.7 1239.6,485.7 1243.1,484.7" fill="#f0f0f0"/>
<polygon points="938.2,451.4 937.7,451.8 936.5,451.5 936.2,451.0 937.6,451.0" fill="#f4f4f4"/>
<polygon points="834.2,518.9 832.5,519.7 829.8,519.2 830.9,518.1 832.5,518.1" fill="#f4f4f4"/>
<polygon points="1338.6,525.6 1336.2,526.7 1333.7,526.3 1334.4,525.2 1336.9,524.6" fill="#f4f4f4"/>
<polygon points="1311.8,525.6 1310.0,526.4 1307.6,526.7 1308.2,525.3 1310.1,524.5" fill="#f0f0f0"/>
<polygon points="1180.0,549.9 1178.7,550.7 1177.7,550.5 1177.0,549.3 1179.2,549.1" fill="#f4f4f4"/>
<polygon points="1085.3,497.0 1084.4,498.4 1081.4,497.6 1080.1,496.0 1084.3,494.8" fill="#f4f4f4"/>
<polygon points="1271.4,530.7 1270.5,531.2 1269.4,531.2 1269.9,530.6 1271.0,530.1" fill="#f0f0f0"/>
<polygon points="1275.4,446.1 1272.9,447.1 1271.0,446.7 1270.3,444.7 1273.3,444.7" fill="#f4f4f4"/>
<polygon points="1105.3,521.3 1104.4,521.8 1103.8,521.7 1103.5,520.9 1104.8,520.7" fill="#f0f0f0"/>
<polygon points="1058.2,491.8 1057.6,492.5 1056.4,492.0 1055.8,491.1 1057.1,491.1" fill="#f4f4f4"/>
<polygon points="938.2,478.5 936.8,479.3 935.0,479.2 935.6,478.5 936.8,478.2" fill="#ececec"/>
<polygon points="900.5,442.2 899.1,443.6 896.3,443.8 896.8,441.8 898.7,441.4" fill="#f4f4f4"/>
<polygon points="1382.6,543.7 1381.6,545.2 1378.2,545.1 1378.0,543.3 1380.7,543.1" fill="#ececec"/>
<polygon points="1417.3,465.2 1415.8,467.2 1413.3,465.8 1411.6,464.7 1416.0,464.0" fill="#f4f4f4"/>
<polygon points="860.0,470.2 858.8,471.3 857.3,471.1 857.0,469.2 859.8,469.3" fill="#ececec"/>
<polygon points="1411.3,484.6 1410.1,485.6 1406.0,485.4 1406.1,483.1 1409.4,483.3" fill="#f4f4f4"/>
<polygon points="1040.1,492.4 1038.3,493.0 1036.2,492.9 1035.6,490.7 1037.9,491.2" fill="#f0f0f0"/>
<polygon points="1347.5,504.4 1345.4,505.7 1342.9,505.4 1342.7,504.0 1346.9,502.8" fill="#ececec"/>
<polygon points="1001.3,484.9 1000.1,486.3 996.0,486.6 995.4,484.0 1000.5,483.2" fill="#ececec"/>
<polygon points="1010.7,540.0 1010.4,541.0 1008.7,540.3 1008.1,539.7 1009.3,539.3" fill="#ececec"/>
<polygon points="974.7,523.4 974.9,524.5 973.1,523.9 972.5,523.2 974.1,523.0" fill="#ececec"/>
<polygon points="1406.4,517.8 1405.9,518.7 1404.5,518.2 1404.8,517.6 1406.2,517.0" fill="#f4f4f4"/>
<polygon points="1259.8,488.8 1259.1,489.4 1256.9,489.7 1256.7,488.1 1258.6,487.3" fill="#ececec"/>
<polygon points="1250.2,508.3 1246.6,509.5 1243.5,509.0 1245.0,507.6 1247.2,506.1" fill="#f0f0f0"/>
<polygon points="1330.5,489.3 1328.8,490.5 1324.6,489.7 1325.7,488.3 1329.3,487.4" fill="#f0f0f0"/>
<polygon points="1362.3,496.6 1362.0,497.2 1360.4,497.0 1360.4,495.9 1361.9,495.6" fill="#ececec"/>
<polygon points="1170.2,474.2 1168.7,475.0 1166.6,474.7 1166.9,473.6 1168.4,473.7" fill="#f4f4f4"/>
<polygon points="1078.9,533.3 1077.7,534.7 1076.5,533.9 1076.6,533.0 1077.7,532.2" fill="#ececec"/>
<polygon points="1247.6,481.1 1245.4,482.4 1243.4,481.5 1243.9,480.3 1245.2,479.3" fill="#f0f0f0"/>
<polygon points="1059.8,526.5 1059.1,526.9 1058.1,527.1 1057.8,526.3 1059.3,526.0" fill="#ececec"/>
<polygon points="1418.9,437.1 1417.1,438.0 1414.3,437.9 1415.5,436.2 1417.3,435.3" fill="#ececec"/>
<polygon points="1227.9,510.3 1226.2,511.0 1224.5,511.5 1224.4,509.4 1227.5,509.0" fill="#f0f0f0"/>
<polygon points="1396.3,500.5 1395.5,501.7 1394.2,501.1 1393.3,500.0 1396.4,499.5" fill="#ececec"/>
<polygon points="1095.1,465.3 1093.3,467.1 1090.3,466.6 1089.9,464.1 1093.9,463.8" fill="#f4f4f4"/>
<polygon points="1056.6,524.4 1054.7,525.3 1050.9,524.8 1051.6,523.5 1054.2,522.9" fill="#f4f4f4"/>
<polygon points="1075.5,522.8 1074.0,523.1 1072.6,522.9 1073.4,522.4 1074.6,521.8" fill="#f0f0f0"/>
<polygon points="1039.6,539.7 1038.0,540.7 1036.2,540.6 1036.8,539.4 1038.0,539.2" fill="#f0f0f0"/>
<polygon points="849.8,486.0 849.2,486.7 847.5,486.4 848.0,485.3 849.5,485.2" fill="#f4f4f4"/>
<polygon points="887.1,442.4 887.0,443.2 884.9,442.8 885.4,441.9 886.5,442.1" fill="#ececec"/>
<polygon points="935.9,463.7 934.3,464.8 932.0,464.1 930.5,462.4 934.5,462.6" fill="#f0f0f0"/>
<polygon points="1371.7,504.8 1370.7,505.9 1369.2,506.0 1368.7,504.3 1370.8,503.8" fill="#f4f4f4"/>
<polygon points="1169.9,519.3 1169.1,519.6 1167.5,519.8 1168.1,518.8 1169.5,518.5" fill="#f4f4f4"/>
<polygon points="1243.8,511.5 1243.1,512.6 1241.7,511.9 1241.7,511.2 1242.7,511.1" fill="#f0f0f0"/>
<polygon points="845.4,492.4 843.0,492.8 840.4,493.3 840.8,491.4 843.1,490.7" fill="#ececec"/>
<polygon points="1226.0,506.1 1223.1,507.9 1221.6,507.1 1221.9,505.6 1224.4,504.9" fill="#f0f0f0"/>
<polygon points="1092.1,462.4 1089.6,463.6 1087.1,463.3 1087.0,461.7 1088.7,461.0" fill="#f0f0f0"/>
<polygon points="994.5,474.3 992.8,475.1 991.2,475.2 990.3,474.0 993.4,473.6" fill="#f4f4f4"/>
<polygon points="1365.6,474.3 1364.0,476.1 1361.2,475.3 1360.9,473.6 1362.8,473.7" fill="#f4f4f4"/>
<polygon points="947.1,497.3 946.4,499.1 941.9,498.2 941.8,496.3 945.0,496.2" fill="#ececec"/>
<polygon points="1156.7,460.7 1155.0,461.6 1152.8,461.0 1152.4,459.5 1154.1,458.9" fill="#ececec"/>
<polygon points="828.5,435.9 826.8,438.0 823.3,436.7 823.9,435.2 826.5,435.1" fill="#ececec"/>
<polygon points="1431.4,457.3 1430.3,459.2 1427.4,458.1 1428.7,456.9 1431.0,456.5" fill="#f4f4f4"/>
<polygon points="831.9,523.0 831.7,523.5 830.8,523.3 830.6,522.7 832.0,522.4" fill="#f0f0f0"/>
<polygon points="1044.7,498.8 1044.3,499.3 1043.1,499.5 1043.2,498.6 1044.2,498.5" fill="#f0f0f0"/>
<polygon points="1275.4,486.5 1275.0,487.0 1274.1,487.0 1274.2,486.4 1275.6,486.0" fill="#f4f4f4"/>
<polygon points="1152.3,553.7 1151.5,554.6 1148.7,554.8 1149.4,553.5 1151.2,552.6" fill="#ececec"/>
<polygon points="1373.2,537.3 1372.4,538.0 1370.9,537.8 1370.4,536.7 1372.3,536.1" fill="#f0f0f0"/>
<polygon points="944.8,438.9 943.4,440.4 939.4,439.7 940.5,438.0 943.1,437.9" fill="#f4f4f4"/>
<polygon points="1016.0,474.5 1014.8,475.9 1013.5,475.1 1012.6,474.1 1015.5,473.2" fill="#f0f0f0"/>
<polygon points="912.7,510.8 911.3,511.6 910.4,511.0 910.4,510.4 912.0,510.0" fill="#f4f4f4"/>
<polygon points="1059.9,433.4 1058.3,434.5 1056.4,434.4 1057.5,433.0 1059.1,432.3" fill="#f0f0f0"/>
<polygon points="962.5,514.6 960.9,515.3 959.8,515.0 958.4,513.7 961.0,513.0" fill="#ececec"/>
<polygon points="1220.1,523.3 1218.0,524.4 1215.3,523.7 1215.2,522.3 1218.1,522.6" fill="#f0f0f0"/>
<polygon points="1083.5,454.6 1081.2,455.3 1078.4,454.9 1078.0,453.9 1081.2,452.7" fill="#ececec"/>
<polygon points="1376.6,446.6 1376.3,447.6 1373.6,447.6 1373.8,445.6 1375.9,445.8" fill="#f4f4f4"/>
<polygon points="1026.5,523.2 1026.4,524.3 1022.2,524.6 1021.5,522.2 1025.7,521.8" fill="#f0f0f0"/>
<polygon points="959.5,531.6 958.3,531.9 957.4,532.1 957.3,531.1 958.9,531.0" fill="#ececec"/>
<polygon points="1319.3,432.9 1318.8,433.5 1317.2,433.4 1317.8,432.6 1318.7,432.3" fill="#f4f4f4"/>
<polygon points="1243.7,444.8 1243.0,445.9 1241.3,445.3 1240.5,444.2 1243.6,443.2" fill="#ececec"/>
<polygon points="1136.3,511.3 1135.4,511.8 1134.1,511.8 1134.2,510.9 1135.2,510.5" fill="#ececec"/>
<polygon points="1384.5,437.2 1382.6,438.6 1379.8,438.4 1378.3,436.4 1382.5,436.2" fill="#f4f4f4"/>
<polygon points="1418.0,459.6 1417.9,460.4 1415.8,459.8 1415.2,458.5 1417.3,458.7" fill="#f0f0f0"/>
<polygon points="1162.3,548.4 1160.1,549.3 1156.7,548.9 1157.0,547.7 1160.2,547.6" fill="#f0f0f0"/>
<polygon points="1087.8,431.9 1086.3,432.5 1084.9,432.3 1084.6,431.4 1086.4,431.3" fill="#ececec"/>
<polygon points="1214.3,558.0 1213.1,559.6 1211.1,559.2 1210.9,557.4 1213.1,557.2" fill="#ececec"/>
<polygon points="1041.7,443.5 1039.4,444.5 1035.9,444.8 1037.3,443.3 1039.8,442.0" fill="#f4f4f4"/>
<polygon points="1408.0,485.5 1407.0,487.0 1405.7,486.3 1404.5,485.2 1407.0,485.0" fill="#ececec"/>
<polygon points="1361.2,472.7 1359.6,473.5 1357.9,472.9 1357.5,472.2 1360.0,471.8" fill="#f4f4f4"/>
<polygon points="1031.7,512.0 1029.1,513.3 1026.9,513.1 1026.3,511.2 1029.3,511.4" fill="#f4f4f4"/>
<polygon points="1421.8,463.7 1420.5,464.8 1418.5,464.3 1419.2,463.4 1421.3,462.3" fill="#f0f0f0"/>
<polygon points="1130.7,512.6 1129.1,513.5 1127.1,513.3 1127.3,512.5 1129.0,512.3" fill="#ececec"/>
<polygon points="1301.2,442.1 1299.0,443.1 1297.3,442.9 1297.2,441.7 1299.4,441.2" fill="#ececec"/>
<polygon points="1338.2,449.5 1336.5,450.5 1334.7,450.5 1334.5,449.3 1336.8,448.5" fill="#ececec"/>
<polygon points="1256.6,525.3 1255.0,526.3 1253.4,525.7 1253.5,524.8 1255.5,524.2" fill="#ececec"/>
<polygon points="1268.3,453.5 1266.5,453.9 1265.4,453.9 1265.4,452.7 1266.7,452.8" fill="#ececec"/>
<polygon points="1314.8,438.5 1315.0,440.7 1310.4,440.3 1310.9,437.3 1313.7,436.8" fill="#f4f4f4"/>
<polygon points="1318.0,532.4 1316.2,533.9 1314.0,533.4 1315.1,532.1 1317.8,530.8" fill="#f4f4f4"/>
<polygon points="1122.8,498.6 1121.6,499.1 1120.8,499.1 1120.5,498.4 1121.6,498.3" fill="#f4f4f4"/>
<polygon points="870.9,457.1 867.6,458.7 864.1,458.4 865.0,457.0 868.5,456.0" fill="#f4f4f4"/>
<polygon points="870.0,538.2 869.0,539.4 867.0,538.9 867.2,537.6 869.2,537.6" fill="#f0f0f0"/>
<polygon points="893.6,471.9 892.0,472.9 890.2,472.1 890.6,471.4 892.8,470.6" fill="#f4f4f4"/>
<polygon points="1126.0,530.0 1126.2,530.8 1124.1,530.7 1124.8,529.5 1125.7,529.0" fill="#f4f4f4"/>
<polygon points="1153.9,548.2 1153.1,548.9 1151.6,548.5 1151.2,547.8 1153.1,547.1" fill="#f0f0f0"/>
<polygon points="1075.0,511.4 1074.5,512.1 1073.5,511.7 1072.9,511.1 1074.0,511.1" fill="#ececec"/>
<polygon points="983.6,528.6 982.1,530.4 979.3,529.7 980.3,527.7 983.0,527.8" fill="#f4f4f4"/>
<polygon points="1417.8,518.9 1416.8,520.8 1412.2,520.0 1413.7,518.5 1415.9,518.0" fill="#f4f4f4"/>
<polygon points="1389.9,468.6 1389.4,469.3 1386.7,468.7 1386.8,468.0 1388.3,467.0" fill="#f4f4f4"/>
<polygon points="1200.4,496.1 1199.9,496.5 1198.0,496.5 1198.6,495.5 1199.6,495.6" fill="#ececec"/>
<polygon points="1283.7,489.7 1283.0,490.7 1281.2,490.3 1281.3,489.3 1283.4,489.0" fill="#f0f0f0"/>
<polygon points="1228.3,489.6 1227.1,490.5 1223.8,490.1 1224.8,488.8 1226.3,488.8" fill="#f4f4f4"/>
<polygon points="1190.4,464.0 1189.4,465.3 1187.4,465.2 1187.2,463.2 1189.3,462.9" fill="#ececec"/>
<polygon points="926.7,539.0 924.8,540.6 921.4,540.3 923.2,539.0 925.4,537.8" fill="#f0f0f0"/>
<polygon points="1366.8,466.8 1366.1,468.1 1364.2,467.6 1363.5,466.1 1367.1,465.6" fill="#ececec"/>
<polygon points="1005.8,435.4 1005.3,436.3 1003.9,435.6 1003.6,434.9 1005.1,434.9" fill="#ececec"/>
<polygon points="1322.3,498.1 1321.8,499.3 1319.4,498.9 1319.1,497.9 1321.3,497.0" fill="#f4f4f4"/>
<polygon points="843.8,496.4 843.0,496.9 842.2,496.8 842.1,496.0 843.3,495.9" fill="#f4f4f4"/>
<polygon points="1334.9,522.2 1333.7,523.0 1332.7,522.7 1332.6,522.0 1334.0,521.6" fill="#ececec"/>
<polygon points="1136.4,471.5 1134.5,472.9 1131.3,472.4 1132.6,470.6 1133.7,469.6" fill="#f4f4f4"/>
<polygon points="1173.3,542.8 1171.2,544.0 1168.5,543.3 1166.5,541.3 1169.8,541.5" fill="#ececec"/>
<polygon points="836.9,438.5 835.1,439.7 833.3,438.7 833.3,437.6 835.5,437.7" fill="#f4f4f4"/>
<polygon points="1343.8,436.3 1342.9,436.8 1341.4,436.7 1341.9,436.1 1343.1,435.8" fill="#ececec"/>
<polygon points="993.9,456.9 992.7,457.7 992.1,457.2 991.5,456.6 992.7,456.8" fill="#f0f0f0"/>
<polygon points="1196.6,551.8 1195.5,552.2 1194.7,552.3 1194.8,551.5 1195.5,551.3" fill="#f4f4f4"/>
<polygon points="1244.6,471.3 1242.1,472.6 1239.7,472.8 1240.0,471.1 1241.6,470.9" fill="#f0f0f0"/>
<polygon points="887.4,499.6 884.8,501.6 883.5,500.3 882.4,499.2 885.7,498.2" fill="#f4f4f4"/>
<polygon points="1376.7,527.7 1375.6,527.8 1375.1,527.8 1374.6,527.1 1375.6,526.8" fill="#ececec"/>
<polygon points="1019.1,534.6 1018.2,536.1 1014.3,535.6 1013.4,533.5 1016.8,532.9" fill="#ececec"/>
<polygon points="1214.2,538.8 1213.8,539.4 1212.1,538.9 1212.2,538.0 1213.6,538.0" fill="#ececec"/>
<polygon points="1297.9,556.4 1295.2,557.2 1293.8,556.9 1293.4,555.0 1295.2,554.6" fill="#ececec"/>
<polygon points="1142.7,464.6 1140.8,466.2 1137.5,465.5 1138.9,463.6 1142.2,462.8" fill="#f0f0f0"/>
<polygon points="1283.7,462.3 1280.7,463.2 1275.7,462.9 1278.2,461.2 1280.3,460.2" fill="#f0f0f0"/>
<polygon points="891.5,459.0 891.0,459.9 889.5,459.4 889.6,458.5 891.0,458.2" fill="#f0f0f0"/>
<polygon points="1061.9,519.2 1060.4,519.8 1058.4,519.9 1058.6,518.7 1060.6,518.1" fill="#f4f4f4"/>
<path d="M1212,432 L1352,432 Q1372,445 1366,465 Q1356,485 1330,494 L1300,490 Q1270,486 1245,480 Q1222,472 1214,458 Z" fill="#e4e4e4"/>
<polygon points="1314.7,460.7 1312.6,461.7 1309.6,461.7 1310.1,459.3 1312.0,459.0" fill="#eaeaea"/>
<polygon points="1237.5,434.8 1233.8,437.4 1229.0,437.4 1231.0,434.9 1234.4,432.9" fill="#efefef"/>
<polygon points="1268.9,464.8 1267.4,465.6 1266.1,465.0 1265.3,463.9 1267.7,462.9" fill="#efefef"/>
<polygon points="1282.4,475.7 1282.1,476.6 1278.4,476.7 1278.9,474.7 1281.3,474.4" fill="#eaeaea"/>
<polygon points="1356.7,465.8 1355.1,468.2 1351.6,468.1 1352.1,465.6 1356.7,463.7" fill="#d9d9d9"/>
<polygon points="1321.7,444.2 1318.8,447.1 1313.9,446.1 1313.1,442.5 1318.0,443.2" fill="#eaeaea"/>
<polygon points="1226.4,454.1 1223.4,455.6 1220.8,454.6 1221.0,452.9 1223.7,452.9" fill="#d9d9d9"/>
<polygon points="1295.7,449.7 1294.0,451.3 1290.4,450.8 1290.7,449.0 1295.6,447.9" fill="#efefef"/>
<polygon points="1243.5,446.3 1242.3,446.9 1241.1,446.9 1241.2,445.9 1242.5,446.1" fill="#efefef"/>
<polygon points="1269.6,462.6 1269.0,463.1 1267.8,463.1 1267.3,462.2 1268.8,462.2" fill="#d9d9d9"/>
<polygon points="1302.2,486.9 1301.5,487.9 1299.9,487.4 1299.6,486.4 1301.3,486.0" fill="#efefef"/>
<polygon points="1310.4,448.6 1309.3,450.8 1303.8,449.4 1304.3,446.8 1308.6,446.3" fill="#efefef"/>
<polygon points="1346.2,446.7 1344.1,447.7 1342.2,447.5 1341.9,446.0 1344.4,444.6" fill="#d9d9d9"/>
<polygon points="1346.0,443.4 1345.5,445.0 1343.2,444.5 1341.5,442.9 1344.7,442.4" fill="#efefef"/>
<polygon points="1328.0,474.2 1325.8,475.1 1323.9,474.9 1323.1,472.6 1327.0,472.4" fill="#efefef"/>
<polygon points="1360.6,440.5 1358.5,441.6 1354.2,441.4 1355.7,439.2 1357.6,439.2" fill="#d9d9d9"/>
<polygon points="1327.7,468.2 1326.2,469.6 1323.9,469.0 1324.2,467.7 1327.1,466.6" fill="#eaeaea"/>
<polygon points="1277.0,484.0 1276.1,484.5 1274.5,484.7 1274.7,483.5 1276.8,483.2" fill="#d9d9d9"/>
<polygon points="1329.4,476.0 1328.0,477.3 1326.2,476.4 1324.6,475.1 1328.4,474.8" fill="#d9d9d9"/>
<polygon points="1352.0,455.3 1351.3,456.7 1348.9,455.8 1347.0,454.3 1350.7,454.4" fill="#d9d9d9"/>
<polygon points="1223.0,482.5 1221.7,484.4 1216.7,483.8 1216.4,481.4 1220.0,480.6" fill="#efefef"/>
<polygon points="1347.4,471.1 1346.5,472.3 1345.1,471.5 1345.1,470.9 1347.4,470.2" fill="#d9d9d9"/>
<polygon points="1279.9,446.5 1275.5,447.8 1271.2,447.7 1270.1,444.5 1275.6,443.2" fill="#d9d9d9"/>
<polygon points="1290.9,481.1 1290.2,482.2 1288.1,481.8 1288.5,480.7 1290.0,480.2" fill="#eaeaea"/>
<polygon points="1273.3,450.4 1272.8,450.9 1271.6,450.6 1271.3,450.0 1272.6,449.4" fill="#efefef"/>
<polygon points="1242.8,474.5 1241.9,475.8 1239.3,475.1 1239.3,473.8 1241.3,473.2" fill="#eaeaea"/>
<polygon points="1349.1,436.3 1347.8,437.0 1344.8,436.7 1345.4,435.6 1348.2,435.3" fill="#eaeaea"/>
<polygon points="1342.7,474.4 1339.9,475.7 1338.1,476.2 1337.8,474.1 1340.2,474.1" fill="#eaeaea"/>
<polygon points="1265.0,449.7 1263.0,451.7 1260.1,451.0 1259.6,448.4 1263.0,447.0" fill="#efefef"/>
<polygon points="1281.0,466.9 1279.1,468.0 1274.6,468.0 1276.5,466.4 1279.2,464.6" fill="#d9d9d9"/>
<polygon points="1247.9,467.2 1247.2,467.8 1246.2,467.6 1246.0,466.8 1247.2,466.7" fill="#eaeaea"/>
<polygon points="1262.5,473.6 1262.0,475.7 1256.8,476.1 1256.4,472.4 1261.6,471.9" fill="#eaeaea"/>
<polygon points="1349.4,482.5 1347.9,483.1 1346.1,483.4 1346.9,482.0 1348.0,481.4" fill="#efefef"/>
<polygon points="1256.2,440.8 1255.4,441.2 1253.5,441.1 1253.3,439.9 1255.4,439.5" fill="#d9d9d9"/>
<polygon points="1222.5,476.5 1219.8,478.9 1217.5,478.2 1216.8,476.1 1220.5,474.8" fill="#efefef"/>
<polygon points="1360.8,439.1 1359.2,441.4 1356.4,440.2 1355.8,438.5 1360.5,437.2" fill="#eaeaea"/>
<polygon points="1334.7,444.1 1333.2,447.0 1328.3,445.7 1329.4,443.1 1332.0,442.7" fill="#d9d9d9"/>
<polygon points="1264.7,436.5 1261.1,440.3 1257.9,438.6 1256.0,435.7 1262.0,435.7" fill="#efefef"/>
<polygon points="1250.0,458.0 1248.4,459.3 1246.1,459.0 1246.8,457.4 1248.2,457.4" fill="#eaeaea"/>
<polygon points="1257.8,467.9 1256.8,468.7 1255.5,468.5 1255.7,467.6 1256.8,467.1" fill="#efefef"/>
<polygon points="1310.9,469.5 1310.6,471.1 1307.3,470.0 1305.6,467.6 1310.5,467.1" fill="#eaeaea"/>
<polygon points="1242.5,480.0 1241.4,481.2 1236.0,480.5 1237.3,478.1 1241.3,477.9" fill="#eaeaea"/>
<polygon points="1316.1,483.9 1315.0,485.3 1313.0,484.4 1312.2,482.8 1314.8,482.3" fill="#efefef"/>
<polygon points="1287.4,475.5 1286.8,476.6 1285.3,476.3 1284.6,474.9 1287.2,474.9" fill="#efefef"/>
<polygon points="1287.3,479.6 1285.7,481.5 1284.3,480.3 1283.7,478.8 1285.8,478.3" fill="#eaeaea"/>
<polygon points="1316.3,449.4 1314.2,450.7 1312.3,450.2 1311.6,448.6 1314.9,448.2" fill="#efefef"/>
<polygon points="1319.4,482.9 1317.9,483.7 1316.6,483.2 1315.4,482.1 1318.7,481.8" fill="#eaeaea"/>
<polygon points="1318.9,478.1 1316.3,479.2 1313.6,479.5 1314.5,477.7 1317.9,476.2" fill="#efefef"/>
<polygon points="1267.8,465.1 1267.1,467.2 1265.1,466.0 1264.4,464.8 1266.7,464.4" fill="#d9d9d9"/>
<polygon points="1326.6,474.7 1325.8,475.8 1324.3,475.4 1324.1,474.5 1325.6,474.4" fill="#eaeaea"/>
<polygon points="1275.6,461.4 1272.9,462.4 1270.2,461.8 1268.8,459.7 1272.0,459.9" fill="#efefef"/>
<polygon points="1311.3,447.8 1309.8,449.5 1307.1,448.8 1307.0,447.0 1310.3,446.8" fill="#efefef"/>
<polygon points="1338.0,451.0 1334.1,452.6 1331.5,452.3 1329.9,449.8 1335.9,448.8" fill="#efefef"/>
<polygon points="1342.0,445.9 1341.4,446.6 1340.2,446.5 1340.0,445.2 1341.5,445.2" fill="#d9d9d9"/>
<polygon points="1253.3,456.9 1250.9,457.3 1248.2,457.2 1248.1,456.0 1251.0,455.6" fill="#d9d9d9"/>
<polygon points="1279.6,465.8 1276.7,466.9 1272.7,467.5 1274.3,464.9 1278.5,463.4" fill="#efefef"/>
<polygon points="1263.9,448.2 1263.9,449.5 1261.4,448.5 1261.1,447.8 1263.7,447.1" fill="#eaeaea"/>
<polygon points="1354.7,485.4 1354.7,486.8 1351.3,486.6 1351.5,484.4 1353.3,483.9" fill="#eaeaea"/>
<polygon points="1234.5,452.9 1232.4,454.0 1230.2,453.3 1229.9,451.8 1232.6,451.4" fill="#efefef"/>
<polygon points="1278.3,443.9 1274.9,446.0 1272.6,445.2 1273.2,443.6 1275.1,442.2" fill="#efefef"/>
<path d="M1205,478 Q1240,484 1300,492 L1330,497 Q1320,512 1295,525 Q1270,540 1250,552 Q1225,560 1205,560 Z" fill="#d5d5d5" opacity="0.8"/>
<path d="M1262,568 Q1290,548 1320,532 Q1350,518 1390,512 L1448,505 L1448,540 Q1390,540 1365,548 Q1345,556 1330,565 Q1310,560 1295,560 Q1280,564 1268,572 Z" fill="#d3d3d3"/>
<path d="M1262,568 Q1290,548 1320,532 Q1350,518 1390,512" fill="none" stroke="#e6e6e6" stroke-width="1.5"/>
<path d="M1126,432 L1228,432 L1228,445 L1222,455 L1212,466 L1207,478 L1210,495 L1206,508 L1198,502 L1190,492 L1186,476 L1181,464 L1170,460 L1158,455 L1146,449 L1135,441 Z" fill="#d2d2d2"/>
<path d="M1126,432 L1135,441 L1146,449 L1158,455 L1170,460 L1181,464 L1186,476 L1190,492 L1184,494 L1178,478 L1170,470 L1155,466 L1140,458 L1128,450 L1118,440 L1112,432 Z" fill="#e3e3e3"/>
<polygon points="1101.4,570.7 1098.1,573.9 1094.6,573.2 1092.3,570.5 1094.8,568.4 1098.3,569.0" fill="#dcdcdc"/>
<polygon points="1239.3,643.5 1235.7,645.2 1233.1,645.4 1230.1,644.4 1232.6,641.7 1235.0,642.7" fill="#ececec"/>
<polygon points="1024.0,676.1 1020.8,678.4 1018.3,677.2 1013.7,676.2 1018.0,673.8 1022.3,672.5" fill="#dcdcdc"/>
<polygon points="992.6,561.1 991.8,562.1 990.6,561.8 990.1,561.1 990.7,560.6 991.3,560.9" fill="#dcdcdc"/>
<polygon points="1040.9,626.9 1040.6,627.9 1036.2,628.7 1035.9,626.6 1037.8,625.1 1039.4,625.9" fill="#ececec"/>
<polygon points="889.1,559.7 887.7,561.6 884.0,562.1 882.3,560.0 883.8,557.5 887.5,557.6" fill="#dcdcdc"/>
<polygon points="1162.5,578.1 1159.8,580.1 1156.7,579.9 1152.6,576.8 1155.6,574.7 1161.5,574.9" fill="#dcdcdc"/>
<polygon points="968.2,566.5 967.1,566.9 965.9,567.0 964.5,566.3 965.5,565.4 967.6,565.2" fill="#dcdcdc"/>
<polygon points="1074.6,673.4 1072.2,674.1 1067.9,675.3 1066.5,672.3 1069.4,671.5 1073.2,670.4" fill="#efefef"/>
<polygon points="869.3,624.4 868.1,627.1 861.5,626.9 859.9,624.1 861.4,622.5 868.0,622.7" fill="#dcdcdc"/>
<polygon points="1050.7,653.9 1049.7,655.3 1047.3,655.0 1045.7,653.9 1047.0,651.6 1048.7,652.7" fill="#e9e9e9"/>
<polygon points="1220.9,659.9 1220.4,661.1 1218.4,661.5 1216.1,660.1 1217.5,658.8 1219.7,658.7" fill="#ececec"/>
<polygon points="1109.9,550.3 1108.2,551.4 1106.5,551.5 1105.9,550.1 1105.3,548.9 1108.0,549.7" fill="#e9e9e9"/>
<polygon points="1138.4,556.0 1138.4,556.5 1136.7,557.1 1135.3,555.7 1136.5,554.9 1139.0,555.0" fill="#e9e9e9"/>
<polygon points="855.0,651.5 854.5,652.1 851.7,651.9 850.6,651.3 851.9,649.2 854.5,649.2" fill="#dcdcdc"/>
<polygon points="969.8,615.7 968.5,617.6 966.6,616.6 964.7,615.9 966.1,615.0 967.6,614.6" fill="#efefef"/>
<polygon points="1067.0,618.8 1065.7,619.7 1063.6,619.8 1060.2,619.0 1063.6,617.5 1066.2,617.4" fill="#ececec"/>
<polygon points="954.4,716.6 953.8,717.2 952.6,717.2 951.5,716.7 952.8,715.7 953.9,715.3" fill="#e9e9e9"/>
<polygon points="952.7,570.2 952.3,570.9 950.5,571.2 950.5,570.2 950.9,569.4 951.9,569.7" fill="#ececec"/>
<polygon points="1183.0,728.8 1180.5,730.8 1178.3,731.0 1176.0,728.7 1178.5,728.5 1180.3,728.5" fill="#dcdcdc"/>
<polygon points="1018.6,647.1 1018.5,648.0 1016.3,647.9 1016.2,647.4 1016.9,646.5 1017.9,646.4" fill="#ececec"/>
<polygon points="1039.7,688.2 1039.1,690.6 1033.9,690.4 1033.2,688.2 1031.9,685.5 1037.2,686.4" fill="#e9e9e9"/>
<polygon points="1032.3,652.4 1029.9,654.2 1026.4,654.7 1026.0,652.6 1026.4,650.8 1030.3,651.4" fill="#efefef"/>
<polygon points="1035.5,553.2 1035.0,553.7 1034.1,553.9 1033.2,553.3 1033.9,552.5 1035.1,552.7" fill="#dcdcdc"/>
<polygon points="1053.5,705.1 1054.5,706.9 1049.2,706.9 1047.7,704.8 1047.0,702.3 1051.7,703.6" fill="#e9e9e9"/>
<polygon points="892.6,655.8 892.2,656.2 891.0,656.7 890.6,655.8 890.6,655.0 892.2,655.1" fill="#dcdcdc"/>
<polygon points="956.4,651.0 955.0,651.9 951.8,652.2 949.7,650.9 951.5,648.7 954.2,649.4" fill="#e9e9e9"/>
<polygon points="952.3,654.1 950.8,657.0 948.1,655.6 945.2,654.0 946.9,653.1 951.2,653.2" fill="#dcdcdc"/>
<polygon points="1063.5,568.9 1063.4,569.9 1060.3,570.1 1056.8,568.0 1058.6,566.7 1062.8,567.0" fill="#e9e9e9"/>
<polygon points="992.8,628.5 991.5,629.5 988.7,629.3 987.9,628.0 988.9,627.0 991.2,626.9" fill="#e9e9e9"/>
<polygon points="1141.4,665.7 1139.6,667.1 1137.6,667.3 1136.9,665.8 1137.6,664.3 1139.6,664.4" fill="#efefef"/>
<polygon points="1181.8,681.7 1182.1,683.1 1179.9,682.5 1179.0,682.0 1179.4,680.3 1181.7,680.9" fill="#e9e9e9"/>
<polygon points="887.5,670.4 885.9,671.4 883.8,671.3 882.2,670.9 884.3,669.8 886.1,669.7" fill="#ececec"/>
<polygon points="1154.3,706.7 1152.2,708.2 1149.6,708.8 1149.4,707.1 1150.3,705.6 1152.8,705.2" fill="#dcdcdc"/>
<polygon points="916.0,549.1 914.9,549.5 913.9,550.0 912.6,549.1 913.9,548.5 914.9,548.2" fill="#dcdcdc"/>
<polygon points="960.9,586.4 957.3,588.1 953.1,588.7 953.1,587.1 953.2,585.4 956.6,584.1" fill="#efefef"/>
<polygon points="1102.7,683.0 1101.9,684.8 1098.6,685.3 1097.8,683.2 1098.7,681.6 1102.2,680.8" fill="#e9e9e9"/>
<polygon points="924.2,692.0 923.2,692.8 922.2,692.4 920.9,691.7 922.3,691.2 923.1,691.7" fill="#ececec"/>
<polygon points="928.2,649.8 927.3,651.2 925.1,651.3 924.7,649.7 925.4,647.6 927.2,648.9" fill="#e9e9e9"/>
<polygon points="1143.9,611.9 1141.5,612.8 1140.3,612.8 1138.4,611.8 1140.3,611.4 1141.8,611.2" fill="#ececec"/>
<polygon points="1054.5,599.1 1052.6,602.1 1048.4,600.8 1047.3,599.4 1047.8,598.0 1053.1,597.4" fill="#ececec"/>
<polygon points="1228.3,621.3 1226.8,622.5 1224.2,622.8 1223.1,621.6 1224.9,620.5 1226.6,620.9" fill="#dcdcdc"/>
<polygon points="986.9,582.1 986.7,583.3 985.2,582.8 984.0,582.2 984.8,580.8 986.4,581.5" fill="#efefef"/>
<polygon points="928.2,546.7 928.2,547.8 925.7,547.8 924.3,546.9 925.9,545.9 928.0,545.5" fill="#ececec"/>
<polygon points="989.4,617.5 987.1,620.5 981.8,620.1 981.0,618.0 982.8,616.8 986.7,616.4" fill="#ececec"/>
<polygon points="1112.3,739.9 1110.7,741.2 1107.7,742.4 1106.7,739.9 1107.3,738.0 1110.8,738.0" fill="#efefef"/>
<polygon points="1051.7,631.4 1050.5,631.9 1047.6,632.2 1047.8,631.1 1048.6,630.1 1049.9,630.4" fill="#ececec"/>
<polygon points="1117.4,563.4 1116.4,564.5 1114.2,564.4 1113.6,563.3 1114.4,561.3 1116.1,562.1" fill="#ececec"/>
<polygon points="1009.5,573.4 1007.3,574.4 1005.4,575.4 1003.1,574.2 1005.1,572.2 1008.4,572.5" fill="#ececec"/>
<polygon points="1117.6,581.1 1117.0,582.1 1114.6,581.6 1114.2,581.0 1113.6,580.0 1116.4,580.5" fill="#ececec"/>
<polygon points="1126.8,635.5 1126.4,637.2 1123.0,636.8 1122.8,635.8 1122.7,634.8 1125.2,634.7" fill="#dcdcdc"/>
<polygon points="1067.8,669.5 1064.9,672.0 1061.5,670.7 1060.1,670.2 1061.4,668.3 1066.3,667.7" fill="#ececec"/>
<polygon points="1179.0,692.2 1178.5,693.1 1177.2,692.7 1176.1,692.1 1177.6,691.7 1178.4,691.9" fill="#efefef"/>
<polygon points="1184.9,677.9 1185.6,680.7 1181.6,680.2 1177.3,678.8 1180.9,675.9 1184.1,676.3" fill="#e9e9e9"/>
<polygon points="1090.5,550.0 1089.1,552.3 1081.5,552.6 1082.3,550.4 1083.5,548.6 1087.7,547.9" fill="#e9e9e9"/>
<polygon points="1227.4,606.4 1225.0,608.8 1221.1,609.0 1218.4,606.0 1221.4,605.3 1223.9,604.8" fill="#efefef"/>
<polygon points="940.0,630.3 938.6,631.2 936.5,631.7 936.4,630.6 937.0,629.9 938.4,630.0" fill="#efefef"/>
<polygon points="920.7,683.7 921.8,686.8 915.9,686.5 915.2,684.4 915.6,681.1 921.4,681.6" fill="#ececec"/>
<polygon points="860.9,628.6 859.7,630.3 857.3,629.6 854.9,628.1 857.4,626.9 860.5,626.3" fill="#efefef"/>
<polygon points="1027.5,649.9 1027.2,650.4 1026.0,650.4 1024.9,650.0 1026.3,649.5 1027.7,649.3" fill="#dcdcdc"/>
<polygon points="954.8,659.7 953.6,661.0 950.5,660.7 949.9,659.9 951.1,659.1 952.5,658.9" fill="#ececec"/>
<polygon points="1005.1,597.3 1004.6,598.4 1002.5,598.0 1001.4,596.9 1002.8,596.3 1003.6,596.4" fill="#e9e9e9"/>
<polygon points="1164.8,669.8 1161.6,672.4 1155.7,672.8 1156.7,670.1 1157.3,667.4 1160.5,667.6" fill="#e9e9e9"/>
<polygon points="898.4,550.1 897.7,550.6 896.4,550.5 895.8,550.2 896.7,549.5 898.8,549.1" fill="#efefef"/>
<polygon points="1114.1,743.1 1112.6,744.4 1110.3,745.0 1110.2,743.6 1111.3,742.6 1112.6,742.5" fill="#e9e9e9"/>
<polygon points="1074.8,740.9 1072.6,742.7 1067.8,742.3 1065.8,740.4 1069.6,739.3 1072.6,738.6" fill="#e9e9e9"/>
<polygon points="1137.9,638.1 1135.3,639.8 1130.0,640.3 1127.4,638.4 1130.1,635.1 1134.5,635.7" fill="#efefef"/>
<polygon points="998.4,597.5 996.2,598.8 995.2,598.7 993.5,597.6 994.8,597.2 997.1,596.4" fill="#ececec"/>
<polygon points="1060.8,678.5 1059.8,679.1 1058.7,678.7 1058.5,678.2 1059.0,677.8 1059.7,677.6" fill="#ececec"/>
<polygon points="1049.9,765.3 1049.3,766.5 1046.9,766.5 1046.0,765.3 1046.0,763.7 1048.5,764.0" fill="#dcdcdc"/>
<polygon points="1062.4,668.8 1059.2,670.1 1055.7,670.7 1055.4,669.1 1055.6,666.8 1059.3,667.9" fill="#ececec"/>
<polygon points="859.6,579.5 857.5,579.9 854.4,581.0 850.8,578.8 854.0,576.6 857.1,577.0" fill="#e9e9e9"/>
<polygon points="951.2,720.2 949.1,721.7 947.3,721.5 944.0,720.5 946.9,719.2 948.8,719.3" fill="#efefef"/>
<polygon points="1023.3,683.6 1020.2,685.7 1018.0,685.8 1015.6,683.4 1018.4,682.6 1020.3,682.6" fill="#e9e9e9"/>
<polygon points="1227.1,618.4 1225.7,619.2 1224.6,619.3 1223.4,618.9 1224.0,617.8 1225.9,618.2" fill="#ececec"/>
<polygon points="988.1,645.8 987.5,647.0 984.0,646.7 983.2,645.7 983.7,643.7 986.3,644.8" fill="#efefef"/>
<polygon points="904.1,616.4 902.9,616.9 901.0,617.0 901.0,616.4 901.2,615.5 903.9,615.3" fill="#e9e9e9"/>
<polygon points="1156.0,639.4 1155.9,639.7 1154.8,640.0 1153.6,639.3 1154.8,638.9 1155.5,638.7" fill="#efefef"/>
<polygon points="862.9,585.0 864.2,587.0 859.6,586.1 858.1,585.4 860.2,583.5 864.0,583.0" fill="#e9e9e9"/>
<polygon points="872.8,671.8 871.9,672.5 870.2,672.4 868.8,671.6 870.2,671.3 871.6,671.1" fill="#dcdcdc"/>
<polygon points="1091.6,613.9 1089.9,614.8 1088.6,615.0 1087.6,614.1 1088.3,613.1 1091.1,613.3" fill="#efefef"/>
<polygon points="1145.9,655.9 1145.2,656.6 1144.3,656.5 1142.1,656.0 1144.0,655.3 1146.5,654.9" fill="#dcdcdc"/>
<polygon points="1156.6,715.6 1153.7,717.5 1149.0,716.9 1148.5,715.5 1149.2,713.5 1153.0,713.3" fill="#dcdcdc"/>
<polygon points="1149.0,736.9 1146.7,738.2 1143.6,738.3 1143.8,736.7 1143.9,735.9 1147.2,735.4" fill="#efefef"/>
<polygon points="1148.8,672.3 1144.6,675.3 1141.0,674.5 1139.3,673.6 1140.8,670.8 1144.5,669.7" fill="#dcdcdc"/>
<polygon points="1113.3,699.5 1113.2,700.6 1110.9,700.1 1110.4,699.7 1110.9,698.8 1112.2,698.8" fill="#ececec"/>
<polygon points="894.6,592.8 892.2,596.2 887.2,595.6 885.5,592.8 887.0,591.2 891.4,591.3" fill="#ececec"/>
<polygon points="914.3,554.6 913.3,557.2 908.9,557.0 907.7,555.4 910.5,552.9 913.6,553.6" fill="#e9e9e9"/>
<polygon points="917.6,593.5 915.8,594.7 912.6,595.3 911.9,593.5 913.4,592.8 915.9,592.2" fill="#efefef"/>
<polygon points="875.1,628.4 873.7,630.0 870.8,629.9 871.0,628.6 870.7,627.4 873.8,627.7" fill="#dcdcdc"/>
<polygon points="1158.4,739.3 1155.5,741.1 1153.7,740.8 1152.1,740.1 1153.5,738.4 1157.0,738.2" fill="#ececec"/>
<polygon points="1108.0,659.1 1104.3,661.9 1100.7,661.9 1100.7,659.9 1101.9,657.5 1105.4,657.1" fill="#efefef"/>
<polygon points="1139.5,561.1 1138.1,561.7 1134.2,563.2 1134.3,561.3 1135.4,560.0 1139.3,558.7" fill="#dcdcdc"/>
<polygon points="1025.0,737.0 1023.1,738.0 1021.4,738.2 1020.1,736.7 1021.5,734.7 1023.9,735.9" fill="#dcdcdc"/>
<polygon points="1027.9,602.6 1027.1,603.6 1025.4,603.7 1024.3,603.0 1025.6,601.9 1026.8,602.3" fill="#e9e9e9"/>
<polygon points="1101.1,691.5 1100.6,692.1 1099.6,692.3 1099.5,691.3 1100.0,691.0 1100.8,690.6" fill="#e9e9e9"/>
<polygon points="1020.7,733.9 1020.1,735.2 1018.9,735.0 1017.9,733.9 1018.9,732.9 1020.7,733.1" fill="#ececec"/>
<polygon points="1037.2,656.4 1034.3,657.5 1032.0,657.0 1031.4,656.0 1030.7,654.6 1034.5,654.4" fill="#efefef"/>
<polygon points="974.0,718.1 974.0,718.6 972.7,718.5 972.6,717.9 972.8,717.5 974.3,717.1" fill="#dcdcdc"/>
<polygon points="923.7,573.2 923.1,575.2 918.6,574.7 916.2,572.7 919.0,571.3 920.9,571.4" fill="#dcdcdc"/>
<polygon points="1057.5,705.1 1057.3,706.2 1054.8,705.3 1053.5,705.2 1054.4,703.4 1056.6,703.9" fill="#e9e9e9"/>
<polygon points="1009.3,614.4 1008.3,616.1 1005.9,615.8 1005.6,614.8 1006.6,613.9 1008.2,613.3" fill="#ececec"/>
<polygon points="1003.3,595.2 1001.9,596.2 999.7,595.5 998.3,595.1 998.7,593.5 1001.7,594.1" fill="#e9e9e9"/>
<polygon points="1087.3,728.9 1086.2,731.1 1081.3,730.2 1078.4,729.0 1081.3,726.6 1084.8,725.9" fill="#ececec"/>
<polygon points="923.5,559.0 922.5,561.1 920.4,560.4 918.4,558.9 919.9,557.2 922.4,557.5" fill="#ececec"/>
<polygon points="910.2,708.0 907.8,709.6 903.8,708.7 903.0,708.2 903.6,705.6 906.3,706.5" fill="#dcdcdc"/>
<polygon points="968.0,657.7 967.2,659.8 964.5,659.0 962.7,658.4 963.9,656.3 965.6,657.0" fill="#e9e9e9"/>
<polygon points="951.6,690.9 948.8,693.2 945.6,692.5 943.7,690.9 945.6,689.7 948.7,690.0" fill="#dcdcdc"/>
<polygon points="1233.4,624.5 1233.0,625.6 1231.3,625.1 1230.3,624.6 1230.3,623.6 1233.2,623.8" fill="#e9e9e9"/>
<polygon points="935.0,594.8 932.6,597.1 927.9,596.4 925.9,593.7 928.2,592.0 933.9,591.9" fill="#efefef"/>
<path d="M1092,549 Q1110,545 1130,548 Q1150,552 1155,558 Q1135,560 1120,556 Q1100,556 1092,549 Z" fill="#d4d4d4"/>
<path d="M1125,563 Q1130,560 1136,566 L1136,590 Q1134,604 1128,604 Q1124,590 1125,563 Z" fill="#d4d4d4"/>
<path d="M1148,562 Q1160,560 1168,572 Q1172,585 1164,594 Q1156,592 1154,580 Q1148,572 1148,562 Z" fill="#d4d4d4"/>
<path d="M1165,603 Q1180,596 1200,594 Q1204,597 1195,603 Q1180,608 1165,606 Z" fill="#d4d4d4"/>
<path d="M1196,591 Q1210,587 1222,589 Q1220,594 1208,596 Q1198,596 1196,591 Z" fill="#d4d4d4"/>
<polyline points="1005,543 1005,635" fill="none" stroke="#c6c6c6" stroke-width="0.8" stroke-dasharray="3,2"/>
<polyline points="1005,578.5 1066,578.5" fill="none" stroke="#c6c6c6" stroke-width="0.8" stroke-dasharray="3,2"/>
<polyline points="1005,613.5 1062,613.5" fill="none" stroke="#c6c6c6" stroke-width="0.8" stroke-dasharray="3,2"/>
<polyline points="963,591 1005,591" fill="none" stroke="#c6c6c6" stroke-width="0.8" stroke-dasharray="3,2"/>
<polyline points="963,591 963,635" fill="none" stroke="#c6c6c6" stroke-width="0.8" stroke-dasharray="3,2"/>
<polyline points="926,543 930,575 940,600 945,622" fill="none" stroke="#c6c6c6" stroke-width="0.8" stroke-dasharray="3,2"/>
<polyline points="874,622 963,622" fill="none" stroke="#c6c6c6" stroke-width="0.8" stroke-dasharray="3,2"/>
<polyline points="965,635 965,724" fill="none" stroke="#c6c6c6" stroke-width="0.8" stroke-dasharray="3,2"/>
<polyline points="923,622 923,690" fill="none" stroke="#c6c6c6" stroke-width="0.8" stroke-dasharray="3,2"/>
<polyline points="923,676.5 1085,676.5" fill="none" stroke="#c6c6c6" stroke-width="0.8" stroke-dasharray="3,2"/>
<polyline points="1021,635 1021,676.5" fill="none" stroke="#c6c6c6" stroke-width="0.8" stroke-dasharray="3,2"/>
<polyline points="963,635 1060,635" fill="none" stroke="#c6c6c6" stroke-width="0.8" stroke-dasharray="3,2"/>
<polyline points="1014,676.5 1014,726" fill="none" stroke="#c6c6c6" stroke-width="0.8" stroke-dasharray="3,2"/>
<polyline points="1014,690 1040,690 1060,700 1080,705" fill="none" stroke="#c6c6c6" stroke-width="0.8" stroke-dasharray="3,2"/>
<polyline points="1060,635 1063,676.5" fill="none" stroke="#c6c6c6" stroke-width="0.8" stroke-dasharray="3,2"/>
<polyline points="1080,676.5 1080,720" fill="none" stroke="#c6c6c6" stroke-width="0.8" stroke-dasharray="3,2"/>
<polyline points="1066,578.5 1062,613.5" fill="none" stroke="#c6c6c6" stroke-width="0.8" stroke-dasharray="3,2"/>
<polyline points="1062,613.5 1105,613.5" fill="none" stroke="#c6c6c6" stroke-width="0.8" stroke-dasharray="3,2"/>
<polyline points="1062,613.5 1060,635 1095,640 1100,660" fill="none" stroke="#c6c6c6" stroke-width="0.8" stroke-dasharray="3,2"/>
<polyline points="1105,600 1115,640 1110,676.5" fill="none" stroke="#c6c6c6" stroke-width="0.8" stroke-dasharray="3,2"/>
<polyline points="1110,676.5 1175,676.5" fill="none" stroke="#c6c6c6" stroke-width="0.8" stroke-dasharray="3,2"/>
<polyline points="1135,640 1140,676.5 1140,745" fill="none" stroke="#c6c6c6" stroke-width="0.8" stroke-dasharray="3,2"/>
<polyline points="1165,690 1165,745" fill="none" stroke="#c6c6c6" stroke-width="0.8" stroke-dasharray="3,2"/>
<polyline points="1130,650 1215,650" fill="none" stroke="#c6c6c6" stroke-width="0.8" stroke-dasharray="3,2"/>
<polyline points="1175,700 1215,700" fill="none" stroke="#c6c6c6" stroke-width="0.8" stroke-dasharray="3,2"/>
<polyline points="845,610 874,622" fill="none" stroke="#c6c6c6" stroke-width="0.8" stroke-dasharray="3,2"/>
<polyline points="874,622 880,660 905,690" fill="none" stroke="#c6c6c6" stroke-width="0.8" stroke-dasharray="3,2"/>
<polyline points="1085,676.5 1110,676.5" fill="none" stroke="#c6c6c6" stroke-width="0.8" stroke-dasharray="3,2"/>
<polyline points="1110,720 1140,720" fill="none" stroke="#c6c6c6" stroke-width="0.8" stroke-dasharray="3,2"/>
<polyline points="1200,606 1205,640 1230,640" fill="none" stroke="#c6c6c6" stroke-width="0.8" stroke-dasharray="3,2"/>
<polyline points="1225,610 1265,610" fill="none" stroke="#c6c6c6" stroke-width="0.8" stroke-dasharray="3,2"/>
<polyline points="876,432 876,543" fill="none" stroke="#bdbdbd" stroke-width="0.8" stroke-dasharray="3,2"/>
<polyline points="957,432 957,543" fill="none" stroke="#bdbdbd" stroke-width="0.8" stroke-dasharray="3,2"/>
<polyline points="1023,432 1026,543" fill="none" stroke="#bdbdbd" stroke-width="0.8" stroke-dasharray="3,2"/>
<polyline points="1127,432 1077,492 1080,543" fill="none" stroke="#bdbdbd" stroke-width="0.8" stroke-dasharray="3,2"/>
<polyline points="1212,440 1206,470 1204,500 1204,545" fill="none" stroke="#bdbdbd" stroke-width="0.8" stroke-dasharray="3,2"/>
<polyline points="1300,468 1320,495 1352,502 1390,503" fill="none" stroke="#bdbdbd" stroke-width="0.8" stroke-dasharray="3,2"/>
<polyline points="862,542 1088,542 1092,547 1105,549 1123,551 1138,556 1151,558 1158,565 1163,571 1170,585 1180,598 1191,606 1200,600 1211,598 1225,595 1242,590 1258,584 1266,578 1275,574 1282,569 1289,561 1297,563 1300,567 1300,585 1307,593" fill="none" stroke="#777" stroke-width="1.1"/>
<polyline points="898.6,720.3 917.7,719.3 919.8,721.9 943.9,732 971.1,732 972.1,728 986.2,728 996.3,739 1004.4,749 1011.4,754 1016.4,749 1022.5,747 1034.6,753 1042.6,769 1046.7,777 1060.8,782" fill="none" stroke="#777" stroke-width="1.1"/>
<g font-family="Liberation Sans" font-size="12" fill="#333" text-anchor="middle" stroke="#f4f4f4" stroke-width="2.6" stroke-opacity="0.9" paint-order="stroke" stroke-linejoin="round">
<text x="915.9" y="447.0">AB</text>
<text x="835.6" y="473.5">BC</text>
<text x="1061.0" y="450.9">MB</text>
<text x="990.3" y="477.0">SK</text>
<text x="1146.5" y="514.6">ON</text>
<text x="1256.1" y="517.4">QC</text>
<text x="1353.9" y="482.6">NL</text>
<text x="1314.3" y="572.8">NB</text>
<text x="1342.0" y="580.7">PE</text>
<text x="1335.3" y="597.3">NS</text>
<text x="1291.7" y="595.3">ME</text>
<text x="1272.0" y="625.3">MA</text>
<text x="961.0" y="572.8">MT</text>
<text x="1035.8" y="566.1">ND</text>
<text x="1035.8" y="600.5">SD</text>
<text x="1084.0" y="580.7">MN</text>
<text x="1122.4" y="597.7">WI</text>
<text x="1090.8" y="629.0">IA</text>
<text x="1040.5" y="633.3">NE</text>
<text x="1123.2" y="639.3">IL</text>
<text x="1178.2" y="643.2">OH</text>
<text x="1163.0" y="607.3">MI</text>
<text x="922.6" y="611.6">ID</text>
<text x="975.2" y="617.5">WY</text>
<text x="873.6" y="608.3">OR</text>
<text x="900.9" y="651.9">NV</text>
<text x="942.8" y="659.0">UT</text>
<text x="993.0" y="667.0">CO</text>
<text x="1054.0" y="667.0">KS</text>
<text x="1099.0" y="667.7">MO</text>
<text x="943.6" y="708.1">AZ</text>
<text x="989.5" y="708.1">NM</text>
<text x="1045.7" y="735.0">TX</text>
<text x="1099.9" y="697.4">AR</text>
<text x="1147.3" y="694.3">TN</text>
<text x="1147.3" y="723.9">AL</text>
<text x="1173.0" y="729.9">GA</text>
<text x="1196.8" y="714.4">SC</text>
<text x="1210.6" y="694.6">NC</text>
<text x="1220.5" y="676.4">VA</text>
<text x="1218.5" y="653.1">MD</text>
<text x="1238.3" y="660.6">DE</text>
<text x="1105.8" y="744.9">LA</text>
<text x="1189.7" y="769.8">FL</text>
<text x="872.0" y="669.3">CA</text>
<text x="1026.7" y="653" font-size="15.5" fill="#222" font-weight="bold" textLength="92" lengthAdjust="spacingAndGlyphs">United States</text>
<text x="1016.8" y="806" font-size="15" fill="#222" font-weight="bold">Mexico</text>
<text x="1209.4" y="825.5" font-size="13" fill="#222" font-weight="bold">Cuba</text>
<text x="1310.7" y="839" font-size="13" fill="#222" font-weight="bold">Puerto Rico</text>
<text x="1119" y="787" font-size="13" fill="#999" font-style="italic">Gulf of</text>
<text x="1117" y="800.5" font-size="13" fill="#999" font-style="italic">Mexico</text>
</g>
<path transform="translate(925.8,496.1)" d="M0,0 C-0.4,-6 -1.5,-12 -3.5,-16.5 C-5,-19.5 -7.5,-22.5 -9.5,-25.2 A12.4,12.4 0 1 1 9.5,-25.2 C7.5,-22.5 5,-19.5 3.5,-16.5 C1.5,-12 0.4,-6 0,0 Z" fill="#f3ef48" stroke="#1c1c1c" stroke-width="2.2" stroke-linejoin="round"/>
<path transform="translate(923.8,511.9)" d="M0,0 C-0.4,-6 -1.5,-12 -3.5,-16.5 C-5,-19.5 -7.5,-22.5 -9.5,-25.2 A12.4,12.4 0 1 1 9.5,-25.2 C7.5,-22.5 5,-19.5 3.5,-16.5 C1.5,-12 0.4,-6 0,0 Z" fill="#8ae0c2" stroke="#1c1c1c" stroke-width="2.2" stroke-linejoin="round"/>
<path transform="translate(1000.9,522.6)" d="M0,0 C-0.4,-6 -1.5,-12 -3.5,-16.5 C-5,-19.5 -7.5,-22.5 -9.5,-25.2 A12.4,12.4 0 1 1 9.5,-25.2 C7.5,-22.5 5,-19.5 3.5,-16.5 C1.5,-12 0.4,-6 0,0 Z" fill="#8ae0c2" stroke="#1c1c1c" stroke-width="2.2" stroke-linejoin="round"/>
<path transform="translate(878.3,524.5)" d="M0,0 C-0.4,-6 -1.5,-12 -3.5,-16.5 C-5,-19.5 -7.5,-22.5 -9.5,-25.2 A12.4,12.4 0 1 1 9.5,-25.2 C7.5,-22.5 5,-19.5 3.5,-16.5 C1.5,-12 0.4,-6 0,0 Z" fill="#f3ef48" stroke="#1c1c1c" stroke-width="2.2" stroke-linejoin="round"/>
<path transform="translate(849.8,528.5)" d="M0,0 C-0.4,-6 -1.5,-12 -3.5,-16.5 C-5,-19.5 -7.5,-22.5 -9.5,-25.2 A12.4,12.4 0 1 1 9.5,-25.2 C7.5,-22.5 5,-19.5 3.5,-16.5 C1.5,-12 0.4,-6 0,0 Z" fill="#f3ef48" stroke="#1c1c1c" stroke-width="2.2" stroke-linejoin="round"/>
<path transform="translate(848.6,537.2)" d="M0,0 C-0.4,-6 -1.5,-12 -3.5,-16.5 C-5,-19.5 -7.5,-22.5 -9.5,-25.2 A12.4,12.4 0 1 1 9.5,-25.2 C7.5,-22.5 5,-19.5 3.5,-16.5 C1.5,-12 0.4,-6 0,0 Z" fill="#f6f48b" stroke="#1c1c1c" stroke-width="2.2" stroke-linejoin="round"/>
<path transform="translate(855.8,554.6)" d="M0,0 C-0.4,-6 -1.5,-12 -3.5,-16.5 C-5,-19.5 -7.5,-22.5 -9.5,-25.2 A12.4,12.4 0 1 1 9.5,-25.2 C7.5,-22.5 5,-19.5 3.5,-16.5 C1.5,-12 0.4,-6 0,0 Z" fill="#45c996" stroke="#1c1c1c" stroke-width="2.2" stroke-linejoin="round"/>
<path transform="translate(856.9,560.2)" d="M0,0 C-0.4,-6 -1.5,-12 -3.5,-16.5 C-5,-19.5 -7.5,-22.5 -9.5,-25.2 A12.4,12.4 0 1 1 9.5,-25.2 C7.5,-22.5 5,-19.5 3.5,-16.5 C1.5,-12 0.4,-6 0,0 Z" fill="#8ae0c2" stroke="#1c1c1c" stroke-width="2.2" stroke-linejoin="round"/>
<path transform="translate(850.6,582.7)" d="M0,0 C-0.4,-6 -1.5,-12 -3.5,-16.5 C-5,-19.5 -7.5,-22.5 -9.5,-25.2 A12.4,12.4 0 1 1 9.5,-25.2 C7.5,-22.5 5,-19.5 3.5,-16.5 C1.5,-12 0.4,-6 0,0 Z" fill="#f3ef48" stroke="#1c1c1c" stroke-width="2.2" stroke-linejoin="round"/>
<path transform="translate(886.2,595.8)" d="M0,0 C-0.4,-6 -1.5,-12 -3.5,-16.5 C-5,-19.5 -7.5,-22.5 -9.5,-25.2 A12.4,12.4 0 1 1 9.5,-25.2 C7.5,-22.5 5,-19.5 3.5,-16.5 C1.5,-12 0.4,-6 0,0 Z" fill="#f6f48b" stroke="#1c1c1c" stroke-width="2.2" stroke-linejoin="round"/>
<path transform="translate(864.5,600.5)" d="M0,0 C-0.4,-6 -1.5,-12 -3.5,-16.5 C-5,-19.5 -7.5,-22.5 -9.5,-25.2 A12.4,12.4 0 1 1 9.5,-25.2 C7.5,-22.5 5,-19.5 3.5,-16.5 C1.5,-12 0.4,-6 0,0 Z" fill="#45c996" stroke="#1c1c1c" stroke-width="2.2" stroke-linejoin="round"/>
<path transform="translate(855.8,638.1)" d="M0,0 C-0.4,-6 -1.5,-12 -3.5,-16.5 C-5,-19.5 -7.5,-22.5 -9.5,-25.2 A12.4,12.4 0 1 1 9.5,-25.2 C7.5,-22.5 5,-19.5 3.5,-16.5 C1.5,-12 0.4,-6 0,0 Z" fill="#f3ef48" stroke="#1c1c1c" stroke-width="2.2" stroke-linejoin="round"/>
<path transform="translate(854.6,665.0)" d="M0,0 C-0.4,-6 -1.5,-12 -3.5,-16.5 C-5,-19.5 -7.5,-22.5 -9.5,-25.2 A12.4,12.4 0 1 1 9.5,-25.2 C7.5,-22.5 5,-19.5 3.5,-16.5 C1.5,-12 0.4,-6 0,0 Z" fill="#f3ef48" stroke="#1c1c1c" stroke-width="2.2" stroke-linejoin="round"/>
<path transform="translate(858.5,670.9)" d="M0,0 C-0.4,-6 -1.5,-12 -3.5,-16.5 C-5,-19.5 -7.5,-22.5 -9.5,-25.2 A12.4,12.4 0 1 1 9.5,-25.2 C7.5,-22.5 5,-19.5 3.5,-16.5 C1.5,-12 0.4,-6 0,0 Z" fill="#f6f48b" stroke="#1c1c1c" stroke-width="2.2" stroke-linejoin="round"/>
<path transform="translate(883.0,695.9)" d="M0,0 C-0.4,-6 -1.5,-12 -3.5,-16.5 C-5,-19.5 -7.5,-22.5 -9.5,-25.2 A12.4,12.4 0 1 1 9.5,-25.2 C7.5,-22.5 5,-19.5 3.5,-16.5 C1.5,-12 0.4,-6 0,0 Z" fill="#8ae0c2" stroke="#1c1c1c" stroke-width="2.2" stroke-linejoin="round"/>
<path transform="translate(885.4,701.0)" d="M0,0 C-0.4,-6 -1.5,-12 -3.5,-16.5 C-5,-19.5 -7.5,-22.5 -9.5,-25.2 A12.4,12.4 0 1 1 9.5,-25.2 C7.5,-22.5 5,-19.5 3.5,-16.5 C1.5,-12 0.4,-6 0,0 Z" fill="#f3ef48" stroke="#1c1c1c" stroke-width="2.2" stroke-linejoin="round"/>
<path transform="translate(888.2,703.4)" d="M0,0 C-0.4,-6 -1.5,-12 -3.5,-16.5 C-5,-19.5 -7.5,-22.5 -9.5,-25.2 A12.4,12.4 0 1 1 9.5,-25.2 C7.5,-22.5 5,-19.5 3.5,-16.5 C1.5,-12 0.4,-6 0,0 Z" fill="#8ae0c2" stroke="#1c1c1c" stroke-width="2.2" stroke-linejoin="round"/>
<path transform="translate(892.5,706.5)" d="M0,0 C-0.4,-6 -1.5,-12 -3.5,-16.5 C-5,-19.5 -7.5,-22.5 -9.5,-25.2 A12.4,12.4 0 1 1 9.5,-25.2 C7.5,-22.5 5,-19.5 3.5,-16.5 C1.5,-12 0.4,-6 0,0 Z" fill="#f6f48b" stroke="#1c1c1c" stroke-width="2.2" stroke-linejoin="round"/>
<path transform="translate(898.1,716.8)" d="M0,0 C-0.4,-6 -1.5,-12 -3.5,-16.5 C-5,-19.5 -7.5,-22.5 -9.5,-25.2 A12.4,12.4 0 1 1 9.5,-25.2 C7.5,-22.5 5,-19.5 3.5,-16.5 C1.5,-12 0.4,-6 0,0 Z" fill="#f3ef48" stroke="#1c1c1c" stroke-width="2.2" stroke-linejoin="round"/>
<path transform="translate(941.6,630.6)" d="M0,0 C-0.4,-6 -1.5,-12 -3.5,-16.5 C-5,-19.5 -7.5,-22.5 -9.5,-25.2 A12.4,12.4 0 1 1 9.5,-25.2 C7.5,-22.5 5,-19.5 3.5,-16.5 C1.5,-12 0.4,-6 0,0 Z" fill="#f3ef48" stroke="#1c1c1c" stroke-width="2.2" stroke-linejoin="round"/>
<path transform="translate(942.4,641.3)" d="M0,0 C-0.4,-6 -1.5,-12 -3.5,-16.5 C-5,-19.5 -7.5,-22.5 -9.5,-25.2 A12.4,12.4 0 1 1 9.5,-25.2 C7.5,-22.5 5,-19.5 3.5,-16.5 C1.5,-12 0.4,-6 0,0 Z" fill="#8ae0c2" stroke="#1c1c1c" stroke-width="2.2" stroke-linejoin="round"/>
<path transform="translate(996.2,645.2)" d="M0,0 C-0.4,-6 -1.5,-12 -3.5,-16.5 C-5,-19.5 -7.5,-22.5 -9.5,-25.2 A12.4,12.4 0 1 1 9.5,-25.2 C7.5,-22.5 5,-19.5 3.5,-16.5 C1.5,-12 0.4,-6 0,0 Z" fill="#f3ef48" stroke="#1c1c1c" stroke-width="2.2" stroke-linejoin="round"/>
<path transform="translate(1076.1,578.0)" d="M0,0 C-0.4,-6 -1.5,-12 -3.5,-16.5 C-5,-19.5 -7.5,-22.5 -9.5,-25.2 A12.4,12.4 0 1 1 9.5,-25.2 C7.5,-22.5 5,-19.5 3.5,-16.5 C1.5,-12 0.4,-6 0,0 Z" fill="#45c996" stroke="#1c1c1c" stroke-width="2.2" stroke-linejoin="round"/>
<path transform="translate(1135.5,578.0)" d="M0,0 C-0.4,-6 -1.5,-12 -3.5,-16.5 C-5,-19.5 -7.5,-22.5 -9.5,-25.2 A12.4,12.4 0 1 1 9.5,-25.2 C7.5,-22.5 5,-19.5 3.5,-16.5 C1.5,-12 0.4,-6 0,0 Z" fill="#f3ef48" stroke="#1c1c1c" stroke-width="2.2" stroke-linejoin="round"/>
<path transform="translate(1070.6,632.6)" d="M0,0 C-0.4,-6 -1.5,-12 -3.5,-16.5 C-5,-19.5 -7.5,-22.5 -9.5,-25.2 A12.4,12.4 0 1 1 9.5,-25.2 C7.5,-22.5 5,-19.5 3.5,-16.5 C1.5,-12 0.4,-6 0,0 Z" fill="#f6f48b" stroke="#1c1c1c" stroke-width="2.2" stroke-linejoin="round"/>
<path transform="translate(1090.0,627.4)" d="M0,0 C-0.4,-6 -1.5,-12 -3.5,-16.5 C-5,-19.5 -7.5,-22.5 -9.5,-25.2 A12.4,12.4 0 1 1 9.5,-25.2 C7.5,-22.5 5,-19.5 3.5,-16.5 C1.5,-12 0.4,-6 0,0 Z" fill="#72d9b5" stroke="#1c1c1c" stroke-width="2.2" stroke-linejoin="round"/>
<path transform="translate(1055.1,669.0)" d="M0,0 C-0.4,-6 -1.5,-12 -3.5,-16.5 C-5,-19.5 -7.5,-22.5 -9.5,-25.2 A12.4,12.4 0 1 1 9.5,-25.2 C7.5,-22.5 5,-19.5 3.5,-16.5 C1.5,-12 0.4,-6 0,0 Z" fill="#f3ef48" stroke="#1c1c1c" stroke-width="2.2" stroke-linejoin="round"/>
<path transform="translate(1061.1,713.7)" d="M0,0 C-0.4,-6 -1.5,-12 -3.5,-16.5 C-5,-19.5 -7.5,-22.5 -9.5,-25.2 A12.4,12.4 0 1 1 9.5,-25.2 C7.5,-22.5 5,-19.5 3.5,-16.5 C1.5,-12 0.4,-6 0,0 Z" fill="#45c996" stroke="#1c1c1c" stroke-width="2.2" stroke-linejoin="round"/>
<path transform="translate(1063.5,717.6)" d="M0,0 C-0.4,-6 -1.5,-12 -3.5,-16.5 C-5,-19.5 -7.5,-22.5 -9.5,-25.2 A12.4,12.4 0 1 1 9.5,-25.2 C7.5,-22.5 5,-19.5 3.5,-16.5 C1.5,-12 0.4,-6 0,0 Z" fill="#8ae0c2" stroke="#1c1c1c" stroke-width="2.2" stroke-linejoin="round"/>
<path transform="translate(1133.5,643.2)" d="M0,0 C-0.4,-6 -1.5,-12 -3.5,-16.5 C-5,-19.5 -7.5,-22.5 -9.5,-25.2 A12.4,12.4 0 1 1 9.5,-25.2 C7.5,-22.5 5,-19.5 3.5,-16.5 C1.5,-12 0.4,-6 0,0 Z" fill="#f3ef48" stroke="#1c1c1c" stroke-width="2.2" stroke-linejoin="round"/>
<path transform="translate(1150.5,648.0)" d="M0,0 C-0.4,-6 -1.5,-12 -3.5,-16.5 C-5,-19.5 -7.5,-22.5 -9.5,-25.2 A12.4,12.4 0 1 1 9.5,-25.2 C7.5,-22.5 5,-19.5 3.5,-16.5 C1.5,-12 0.4,-6 0,0 Z" fill="#8ae0c2" stroke="#1c1c1c" stroke-width="2.2" stroke-linejoin="round"/>
<path transform="translate(1175.0,614.7)" d="M0,0 C-0.4,-6 -1.5,-12 -3.5,-16.5 C-5,-19.5 -7.5,-22.5 -9.5,-25.2 A12.4,12.4 0 1 1 9.5,-25.2 C7.5,-22.5 5,-19.5 3.5,-16.5 C1.5,-12 0.4,-6 0,0 Z" fill="#f6f48b" stroke="#1c1c1c" stroke-width="2.2" stroke-linejoin="round"/>
<path transform="translate(1186.9,623.5)" d="M0,0 C-0.4,-6 -1.5,-12 -3.5,-16.5 C-5,-19.5 -7.5,-22.5 -9.5,-25.2 A12.4,12.4 0 1 1 9.5,-25.2 C7.5,-22.5 5,-19.5 3.5,-16.5 C1.5,-12 0.4,-6 0,0 Z" fill="#8ae0c2" stroke="#1c1c1c" stroke-width="2.2" stroke-linejoin="round"/>
<path transform="translate(1188.5,630.6)" d="M0,0 C-0.4,-6 -1.5,-12 -3.5,-16.5 C-5,-19.5 -7.5,-22.5 -9.5,-25.2 A12.4,12.4 0 1 1 9.5,-25.2 C7.5,-22.5 5,-19.5 3.5,-16.5 C1.5,-12 0.4,-6 0,0 Z" fill="#f6f48b" stroke="#1c1c1c" stroke-width="2.2" stroke-linejoin="round"/>
<path transform="translate(1175.8,646.4)" d="M0,0 C-0.4,-6 -1.5,-12 -3.5,-16.5 C-5,-19.5 -7.5,-22.5 -9.5,-25.2 A12.4,12.4 0 1 1 9.5,-25.2 C7.5,-22.5 5,-19.5 3.5,-16.5 C1.5,-12 0.4,-6 0,0 Z" fill="#f3ef48" stroke="#1c1c1c" stroke-width="2.2" stroke-linejoin="round"/>
<path transform="translate(1200.7,601.7)" d="M0,0 C-0.4,-6 -1.5,-12 -3.5,-16.5 C-5,-19.5 -7.5,-22.5 -9.5,-25.2 A12.4,12.4 0 1 1 9.5,-25.2 C7.5,-22.5 5,-19.5 3.5,-16.5 C1.5,-12 0.4,-6 0,0 Z" fill="#45c996" stroke="#1c1c1c" stroke-width="2.2" stroke-linejoin="round"/>
<path transform="translate(1216.6,597.7)" d="M0,0 C-0.4,-6 -1.5,-12 -3.5,-16.5 C-5,-19.5 -7.5,-22.5 -9.5,-25.2 A12.4,12.4 0 1 1 9.5,-25.2 C7.5,-22.5 5,-19.5 3.5,-16.5 C1.5,-12 0.4,-6 0,0 Z" fill="#72d9b5" stroke="#1c1c1c" stroke-width="2.2" stroke-linejoin="round"/>
<path transform="translate(1220.5,611.6)" d="M0,0 C-0.4,-6 -1.5,-12 -3.5,-16.5 C-5,-19.5 -7.5,-22.5 -9.5,-25.2 A12.4,12.4 0 1 1 9.5,-25.2 C7.5,-22.5 5,-19.5 3.5,-16.5 C1.5,-12 0.4,-6 0,0 Z" fill="#f6f48b" stroke="#1c1c1c" stroke-width="2.2" stroke-linejoin="round"/>
<path transform="translate(1252.2,583.9)" d="M0,0 C-0.4,-6 -1.5,-12 -3.5,-16.5 C-5,-19.5 -7.5,-22.5 -9.5,-25.2 A12.4,12.4 0 1 1 9.5,-25.2 C7.5,-22.5 5,-19.5 3.5,-16.5 C1.5,-12 0.4,-6 0,0 Z" fill="#72d9b5" stroke="#1c1c1c" stroke-width="2.2" stroke-linejoin="round"/>
<path transform="translate(1270.0,613.6)" d="M0,0 C-0.4,-6 -1.5,-12 -3.5,-16.5 C-5,-19.5 -7.5,-22.5 -9.5,-25.2 A12.4,12.4 0 1 1 9.5,-25.2 C7.5,-22.5 5,-19.5 3.5,-16.5 C1.5,-12 0.4,-6 0,0 Z" fill="#f3ef48" stroke="#1c1c1c" stroke-width="2.2" stroke-linejoin="round"/>
<path transform="translate(1272.7,619.5)" d="M0,0 C-0.4,-6 -1.5,-12 -3.5,-16.5 C-5,-19.5 -7.5,-22.5 -9.5,-25.2 A12.4,12.4 0 1 1 9.5,-25.2 C7.5,-22.5 5,-19.5 3.5,-16.5 C1.5,-12 0.4,-6 0,0 Z" fill="#f3ef48" stroke="#1c1c1c" stroke-width="2.2" stroke-linejoin="round"/>
<path transform="translate(1250.2,635.3)" d="M0,0 C-0.4,-6 -1.5,-12 -3.5,-16.5 C-5,-19.5 -7.5,-22.5 -9.5,-25.2 A12.4,12.4 0 1 1 9.5,-25.2 C7.5,-22.5 5,-19.5 3.5,-16.5 C1.5,-12 0.4,-6 0,0 Z" fill="#f3ef48" stroke="#1c1c1c" stroke-width="2.2" stroke-linejoin="round"/>
<path transform="translate(1248.2,640.1)" d="M0,0 C-0.4,-6 -1.5,-12 -3.5,-16.5 C-5,-19.5 -7.5,-22.5 -9.5,-25.2 A12.4,12.4 0 1 1 9.5,-25.2 C7.5,-22.5 5,-19.5 3.5,-16.5 C1.5,-12 0.4,-6 0,0 Z" fill="#f6f48b" stroke="#1c1c1c" stroke-width="2.2" stroke-linejoin="round"/>
<path transform="translate(1222.5,653.1)" d="M0,0 C-0.4,-6 -1.5,-12 -3.5,-16.5 C-5,-19.5 -7.5,-22.5 -9.5,-25.2 A12.4,12.4 0 1 1 9.5,-25.2 C7.5,-22.5 5,-19.5 3.5,-16.5 C1.5,-12 0.4,-6 0,0 Z" fill="#f3ef48" stroke="#1c1c1c" stroke-width="2.2" stroke-linejoin="round"/>
<path transform="translate(1218.5,655.1)" d="M0,0 C-0.4,-6 -1.5,-12 -3.5,-16.5 C-5,-19.5 -7.5,-22.5 -9.5,-25.2 A12.4,12.4 0 1 1 9.5,-25.2 C7.5,-22.5 5,-19.5 3.5,-16.5 C1.5,-12 0.4,-6 0,0 Z" fill="#72d9b5" stroke="#1c1c1c" stroke-width="2.2" stroke-linejoin="round"/>
<path transform="translate(1145.4,684.8)" d="M0,0 C-0.4,-6 -1.5,-12 -3.5,-16.5 C-5,-19.5 -7.5,-22.5 -9.5,-25.2 A12.4,12.4 0 1 1 9.5,-25.2 C7.5,-22.5 5,-19.5 3.5,-16.5 C1.5,-12 0.4,-6 0,0 Z" fill="#72d9b5" stroke="#1c1c1c" stroke-width="2.2" stroke-linejoin="round"/>
<path transform="translate(1163.2,690.7)" d="M0,0 C-0.4,-6 -1.5,-12 -3.5,-16.5 C-5,-19.5 -7.5,-22.5 -9.5,-25.2 A12.4,12.4 0 1 1 9.5,-25.2 C7.5,-22.5 5,-19.5 3.5,-16.5 C1.5,-12 0.4,-6 0,0 Z" fill="#f3ef48" stroke="#1c1c1c" stroke-width="2.2" stroke-linejoin="round"/>
<path transform="translate(1164.3,706.5)" d="M0,0 C-0.4,-6 -1.5,-12 -3.5,-16.5 C-5,-19.5 -7.5,-22.5 -9.5,-25.2 A12.4,12.4 0 1 1 9.5,-25.2 C7.5,-22.5 5,-19.5 3.5,-16.5 C1.5,-12 0.4,-6 0,0 Z" fill="#f3ef48" stroke="#1c1c1c" stroke-width="2.2" stroke-linejoin="round"/>
<path transform="translate(1193.6,690.7)" d="M0,0 C-0.4,-6 -1.5,-12 -3.5,-16.5 C-5,-19.5 -7.5,-22.5 -9.5,-25.2 A12.4,12.4 0 1 1 9.5,-25.2 C7.5,-22.5 5,-19.5 3.5,-16.5 C1.5,-12 0.4,-6 0,0 Z" fill="#f3ef48" stroke="#1c1c1c" stroke-width="2.2" stroke-linejoin="round"/>
<path transform="translate(1101.8,742.1)" d="M0,0 C-0.4,-6 -1.5,-12 -3.5,-16.5 C-5,-19.5 -7.5,-22.5 -9.5,-25.2 A12.4,12.4 0 1 1 9.5,-25.2 C7.5,-22.5 5,-19.5 3.5,-16.5 C1.5,-12 0.4,-6 0,0 Z" fill="#f3ef48" stroke="#1c1c1c" stroke-width="2.2" stroke-linejoin="round"/>
<path transform="translate(1118.8,744.1)" d="M0,0 C-0.4,-6 -1.5,-12 -3.5,-16.5 C-5,-19.5 -7.5,-22.5 -9.5,-25.2 A12.4,12.4 0 1 1 9.5,-25.2 C7.5,-22.5 5,-19.5 3.5,-16.5 C1.5,-12 0.4,-6 0,0 Z" fill="#f6f48b" stroke="#1c1c1c" stroke-width="2.2" stroke-linejoin="round"/>
<path transform="translate(1190.9,758.0)" d="M0,0 C-0.4,-6 -1.5,-12 -3.5,-16.5 C-5,-19.5 -7.5,-22.5 -9.5,-25.2 A12.4,12.4 0 1 1 9.5,-25.2 C7.5,-22.5 5,-19.5 3.5,-16.5 C1.5,-12 0.4,-6 0,0 Z" fill="#f6f48b" stroke="#1c1c1c" stroke-width="2.2" stroke-linejoin="round"/>
<path transform="translate(1000.2,799.5)" d="M0,0 C-0.4,-6 -1.5,-12 -3.5,-16.5 C-5,-19.5 -7.5,-22.5 -9.5,-25.2 A12.4,12.4 0 1 1 9.5,-25.2 C7.5,-22.5 5,-19.5 3.5,-16.5 C1.5,-12 0.4,-6 0,0 Z" fill="#45c996" stroke="#1c1c1c" stroke-width="2.2" stroke-linejoin="round"/>
<path transform="translate(1035.8,783.7)" d="M0,0 C-0.4,-6 -1.5,-12 -3.5,-16.5 C-5,-19.5 -7.5,-22.5 -9.5,-25.2 A12.4,12.4 0 1 1 9.5,-25.2 C7.5,-22.5 5,-19.5 3.5,-16.5 C1.5,-12 0.4,-6 0,0 Z" fill="#45c996" stroke="#1c1c1c" stroke-width="2.2" stroke-linejoin="round"/>
<path transform="translate(1010.8,827.2)" d="M0,0 C-0.4,-6 -1.5,-12 -3.5,-16.5 C-5,-19.5 -7.5,-22.5 -9.5,-25.2 A12.4,12.4 0 1 1 9.5,-25.2 C7.5,-22.5 5,-19.5 3.5,-16.5 C1.5,-12 0.4,-6 0,0 Z" fill="#f6f48b" stroke="#1c1c1c" stroke-width="2.2" stroke-linejoin="round"/>
<path transform="translate(1121.6,825.2)" d="M0,0 C-0.4,-6 -1.5,-12 -3.5,-16.5 C-5,-19.5 -7.5,-22.5 -9.5,-25.2 A12.4,12.4 0 1 1 9.5,-25.2 C7.5,-22.5 5,-19.5 3.5,-16.5 C1.5,-12 0.4,-6 0,0 Z" fill="#f6f48b" stroke="#1c1c1c" stroke-width="2.2" stroke-linejoin="round"/>
<path transform="translate(1145.4,823.2)" d="M0,0 C-0.4,-6 -1.5,-12 -3.5,-16.5 C-5,-19.5 -7.5,-22.5 -9.5,-25.2 A12.4,12.4 0 1 1 9.5,-25.2 C7.5,-22.5 5,-19.5 3.5,-16.5 C1.5,-12 0.4,-6 0,0 Z" fill="#8ae0c2" stroke="#1c1c1c" stroke-width="2.2" stroke-linejoin="round"/>
<path transform="translate(1113.7,878.6)" d="M0,0 C-0.4,-6 -1.5,-12 -3.5,-16.5 C-5,-19.5 -7.5,-22.5 -9.5,-25.2 A12.4,12.4 0 1 1 9.5,-25.2 C7.5,-22.5 5,-19.5 3.5,-16.5 C1.5,-12 0.4,-6 0,0 Z" fill="#f3ef48" stroke="#1c1c1c" stroke-width="2.2" stroke-linejoin="round"/>
<path transform="translate(1313.5,847.0)" d="M0,0 C-0.4,-6 -1.5,-12 -3.5,-16.5 C-5,-19.5 -7.5,-22.5 -9.5,-25.2 A12.4,12.4 0 1 1 9.5,-25.2 C7.5,-22.5 5,-19.5 3.5,-16.5 C1.5,-12 0.4,-6 0,0 Z" fill="#f6f48b" stroke="#1c1c1c" stroke-width="2.2" stroke-linejoin="round"/>
<rect x="1393" y="446.5" width="35" height="35" fill="#fff"/>
<path d="M1400.5,460 L1400.5,454 L1406.5,454 M1414.5,454 L1420.5,454 L1420.5,460 M1420.5,468 L1420.5,474 L1414.5,474 M1406.5,474 L1400.5,474 L1400.5,468" fill="none" stroke="#666" stroke-width="2.4"/>
<rect x="1394" y="748" width="40" height="78" rx="2" fill="#fff" style="filter:drop-shadow(0 1px 2px rgba(0,0,0,0.25))"/>
<rect x="1400" y="786" width="28" height="1" fill="#e6e6e6"/>
<path d="M1407.5,767 L1421.5,767 M1414.5,760 L1414.5,774" stroke="#666" stroke-width="3"/>
<path d="M1407.5,806.5 L1421.5,806.5" stroke="#666" stroke-width="3"/>
<rect x="1133" y="840" width="212" height="20" fill="#f2f2f2" opacity="0.75"/>
<rect x="1347" y="840" width="101" height="20" fill="#f2f2f2" opacity="0.75"/>
<text x="1140" y="854.6" font-family="Liberation Sans" font-size="13.2" fill="#444" textLength="196" lengthAdjust="spacingAndGlyphs">Map data ©2017 Google, INEGI</text>
<text x="1356" y="854.6" font-family="Liberation Sans" font-size="13.2" fill="#444" textLength="83" lengthAdjust="spacingAndGlyphs">Terms of Use</text>
</g></svg>
</body></html>
